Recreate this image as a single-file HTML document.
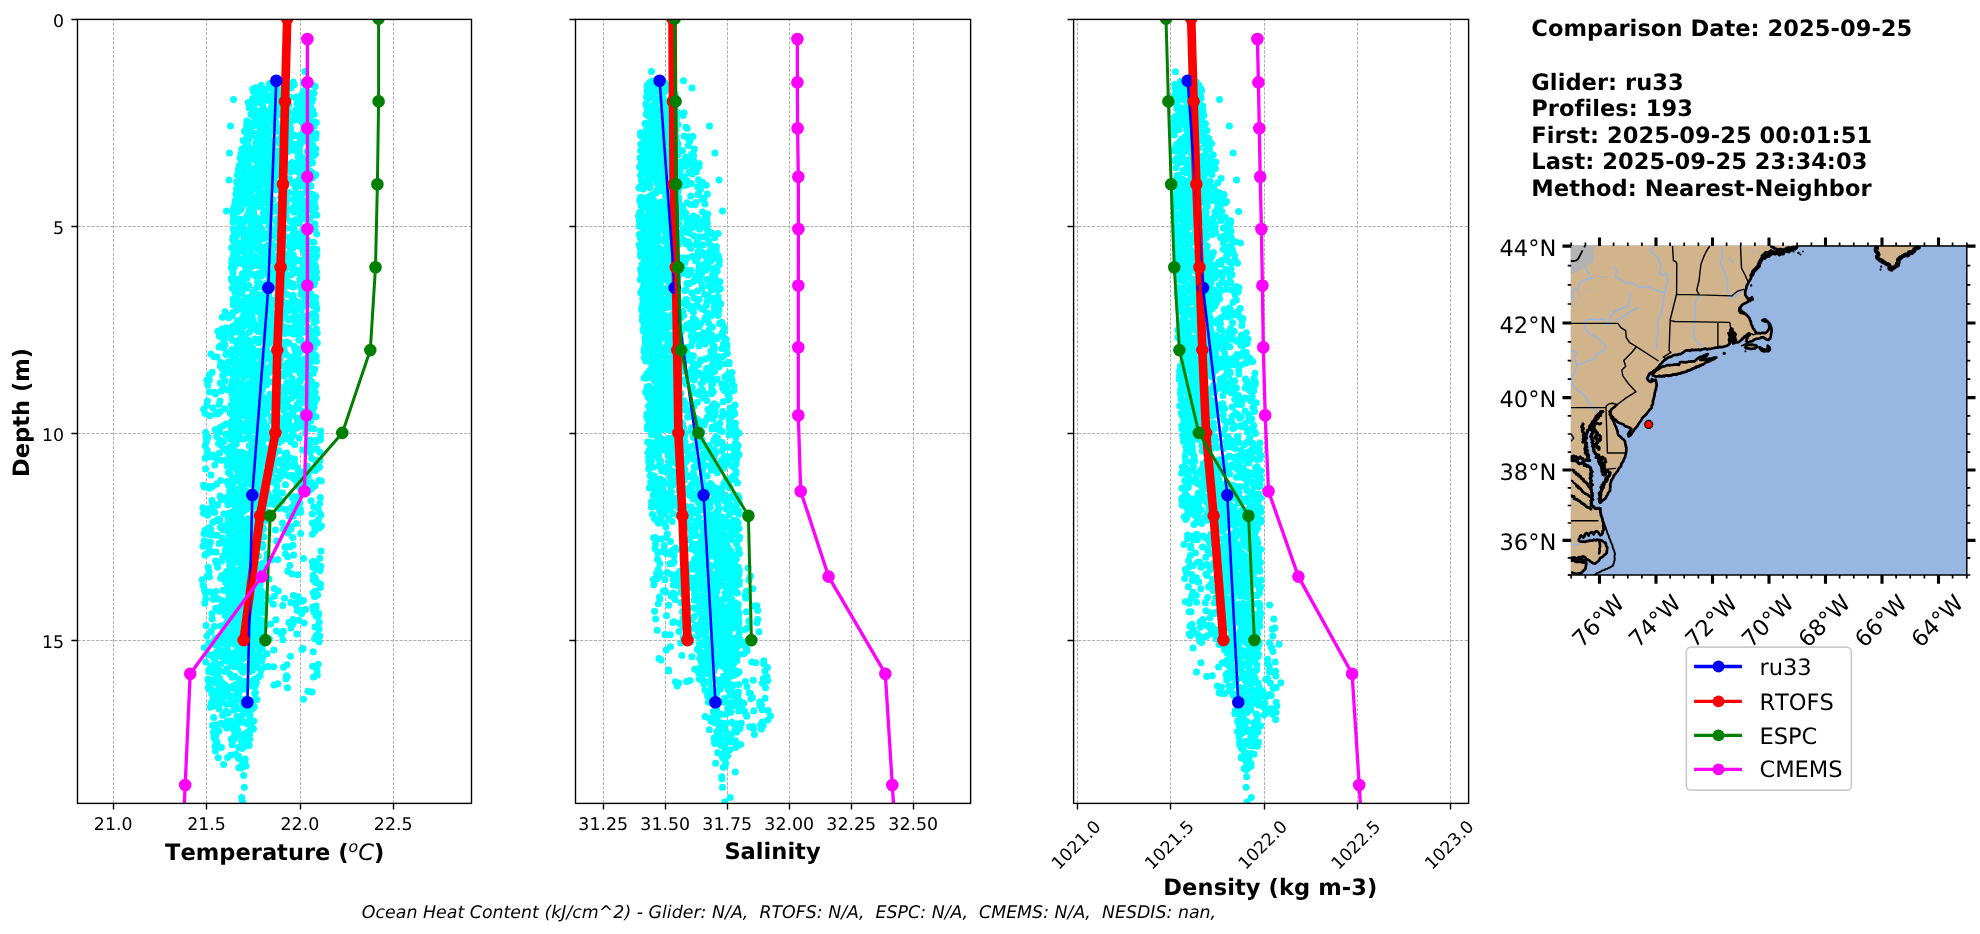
<!DOCTYPE html>
<html lang="en"><head><meta charset="utf-8"><title>Glider / Model Profile Comparison</title>
<style>html,body{margin:0;padding:0;background:#fff}svg{display:block;will-change:transform}text{font-family:'DejaVu Sans','Liberation Sans',sans-serif;fill:#000;font-kerning:none;font-variant-ligatures:none;text-rendering:geometricPrecision}</style>
</head><body>
<svg width="1980" height="934" viewBox="0 0 1980 934">
<rect width="1980" height="934" fill="#fff"/>
<defs>
<clipPath id="c0"><rect x="77.5" y="19.4" width="394.0" height="784.0"/></clipPath>
<clipPath id="c1"><rect x="575.5" y="19.4" width="395.1" height="784.0"/></clipPath>
<clipPath id="c2"><rect x="1073.6" y="19.4" width="395.0" height="784.0"/></clipPath>
</defs>
<g id="axes0">
<path d="M113.5 803.4V19.4M206.5 803.4V19.4M300.5 803.4V19.4M393.5 803.4V19.4M77.5 226.5H471.5M77.5 433.5H471.5M77.5 640.5H471.5" fill="none" stroke="#b0b0b0" stroke-width="1" stroke-dasharray="3.2 1.4"/>
<g clip-path="url(#c0)">
<path d="M305.0 71.5h0M293.3 81.9h0M284.0 82.1h0M303.4 82.8h0M269.6 83.5h0M305.7 84.2h0M286.5 84.5h0M294.1 84.7h0M272.8 84.9h0M285.6 85.0h0M261.3 85.3h0M284.7 85.5h0M313.6 85.5h0M269.7 85.6h0M275.3 85.6h0M272.9 86.3h0M290.0 86.5h0M315.1 86.6h0M269.5 86.9h0M255.8 87.7h0M271.4 87.9h0M290.9 87.9h0M285.7 88.0h0M273.9 88.1h0M254.3 88.2h0M283.3 88.9h0M252.7 89.0h0M261.7 89.1h0M271.9 89.1h0M265.2 89.3h0M279.3 89.8h0M304.5 90.2h0M281.4 90.3h0M255.9 90.5h0M261.4 91.4h0M253.4 91.5h0M274.4 91.9h0M278.1 92.0h0M263.9 92.2h0M303.1 92.5h0M309.0 92.5h0M262.0 92.5h0M313.8 93.1h0M286.2 93.3h0M304.8 94.0h0M307.4 94.1h0M262.3 94.3h0M277.2 94.3h0M280.4 94.8h0M256.8 94.8h0M301.6 95.0h0M262.3 95.5h0M261.8 95.7h0M270.6 95.7h0M268.1 95.7h0M286.8 95.9h0M278.4 96.2h0M305.9 96.2h0M280.8 96.8h0M290.0 96.9h0M310.9 96.9h0M303.3 96.9h0M257.2 97.0h0M296.5 97.0h0M305.4 97.0h0M285.2 97.1h0M257.6 97.9h0M295.8 98.1h0M252.8 98.4h0M268.0 98.8h0M299.1 98.8h0M270.6 98.9h0M313.0 99.0h0M299.9 99.2h0M311.0 99.4h0M233.5 99.5h0M265.1 99.9h0M276.4 99.9h0M260.1 100.1h0M282.1 100.4h0M256.7 100.5h0M303.5 100.5h0M270.0 100.7h0M255.8 100.9h0M311.8 101.6h0M306.1 101.8h0M254.3 102.5h0M248.3 102.6h0M307.9 102.7h0M255.9 103.0h0M302.7 103.4h0M297.0 103.6h0M262.2 103.7h0M287.9 103.8h0M281.7 104.1h0M277.5 104.4h0M281.4 104.8h0M274.7 104.9h0M280.2 105.2h0M288.7 105.3h0M272.1 105.4h0M249.6 105.5h0M279.7 105.8h0M281.4 106.0h0M262.7 106.0h0M271.5 106.4h0M283.0 106.4h0M253.7 106.7h0M310.6 106.8h0M302.2 106.9h0M287.1 107.4h0M303.8 107.7h0M249.0 107.8h0M253.4 108.9h0M297.1 109.4h0M296.4 109.7h0M296.0 109.7h0M264.6 109.9h0M312.6 110.3h0M253.1 110.6h0M268.8 111.0h0M258.1 111.2h0M312.0 111.2h0M259.4 111.4h0M276.1 111.4h0M304.8 111.8h0M287.0 112.1h0M252.8 112.3h0M289.4 112.4h0M287.0 112.5h0M271.3 112.5h0M256.2 113.0h0M305.7 113.1h0M305.1 113.1h0M280.5 113.1h0M301.3 113.2h0M309.1 113.6h0M274.4 113.6h0M262.0 113.6h0M314.1 114.2h0M250.9 114.2h0M278.0 114.3h0M283.0 114.3h0M268.0 114.5h0M277.6 114.5h0M273.7 114.5h0M284.2 114.5h0M303.7 114.8h0M279.1 114.9h0M271.2 115.0h0M294.9 115.1h0M261.0 115.3h0M252.9 115.4h0M273.4 115.6h0M297.2 116.5h0M275.2 116.7h0M309.9 117.1h0M305.1 117.9h0M288.3 118.3h0M298.0 118.3h0M306.1 118.8h0M257.4 118.9h0M271.3 119.0h0M265.7 119.2h0M296.1 119.4h0M255.2 119.4h0M272.6 119.7h0M310.4 120.1h0M285.6 120.2h0M288.2 120.2h0M266.8 120.3h0M264.0 120.4h0M263.6 120.6h0M293.0 120.6h0M257.3 120.7h0M246.9 120.9h0M291.9 120.9h0M289.2 121.1h0M269.9 121.4h0M301.1 121.6h0M305.1 121.7h0M248.4 122.1h0M314.9 122.1h0M288.7 122.1h0M276.3 122.2h0M316.2 122.5h0M311.4 122.6h0M270.8 122.8h0M284.7 123.5h0M250.1 123.6h0M308.8 124.3h0M289.7 124.3h0M260.1 124.6h0M308.3 124.6h0M265.3 124.7h0M246.7 124.8h0M260.2 125.4h0M253.9 125.7h0M230.5 126.0h0M276.5 126.1h0M314.0 126.2h0M261.4 126.3h0M264.4 126.6h0M303.9 126.9h0M249.6 127.1h0M264.8 127.4h0M262.9 127.9h0M263.3 127.9h0M260.0 128.0h0M309.4 128.3h0M290.7 128.4h0M267.4 128.5h0M304.5 128.8h0M305.7 128.8h0M284.1 129.0h0M246.2 129.1h0M267.8 129.2h0M282.1 129.3h0M283.6 129.4h0M306.1 129.4h0M282.8 129.5h0M273.7 129.5h0M264.3 129.7h0M278.7 130.1h0M270.6 130.4h0M283.8 130.7h0M288.7 130.7h0M264.2 130.9h0M244.5 131.2h0M277.4 131.3h0M260.2 131.3h0M284.7 131.3h0M274.1 131.5h0M250.5 131.6h0M287.2 131.6h0M285.7 132.0h0M246.1 132.1h0M311.1 132.5h0M309.3 132.6h0M268.3 132.6h0M263.9 133.1h0M252.5 133.2h0M305.4 133.3h0M253.7 133.3h0M259.3 133.5h0M316.1 133.5h0M246.7 133.8h0M305.2 134.0h0M283.7 134.4h0M301.1 134.5h0M292.6 134.5h0M248.9 134.6h0M309.5 134.7h0M282.3 134.8h0M249.1 135.2h0M252.0 135.2h0M268.6 135.4h0M295.0 135.4h0M265.4 135.5h0M301.5 135.7h0M264.5 136.0h0M312.8 136.8h0M290.6 136.9h0M300.9 137.8h0M258.3 137.9h0M315.9 137.9h0M280.3 138.2h0M311.4 138.3h0M308.9 138.3h0M284.1 138.3h0M257.2 138.8h0M301.6 138.8h0M300.3 138.9h0M258.9 138.9h0M312.7 139.1h0M246.0 139.1h0M259.6 139.3h0M248.7 139.5h0M259.8 139.7h0M246.5 140.1h0M278.1 140.1h0M284.8 140.3h0M243.1 140.4h0M271.0 140.6h0M309.1 140.7h0M256.8 140.7h0M263.0 141.0h0M278.4 141.2h0M304.2 141.2h0M286.3 141.4h0M247.2 142.2h0M290.8 142.3h0M256.0 142.7h0M259.5 142.8h0M268.3 142.8h0M288.6 142.9h0M280.1 143.5h0M273.7 143.6h0M269.0 143.9h0M270.1 144.0h0M259.2 144.3h0M299.0 144.4h0M296.8 144.5h0M299.5 144.6h0M271.9 144.7h0M300.2 144.7h0M245.8 145.0h0M295.5 145.0h0M298.5 145.1h0M312.7 145.1h0M294.7 145.1h0M310.6 145.3h0M247.9 145.4h0M246.4 146.0h0M282.9 146.1h0M283.7 147.1h0M263.4 147.1h0M259.8 147.1h0M245.7 147.2h0M291.4 147.4h0M267.4 147.6h0M288.5 147.9h0M254.4 147.9h0M283.7 147.9h0M266.5 147.9h0M245.2 148.2h0M288.7 148.2h0M242.8 148.4h0M313.8 148.5h0M247.7 148.6h0M256.4 148.7h0M315.8 148.9h0M273.1 148.9h0M241.7 149.3h0M248.3 149.5h0M299.5 150.3h0M314.8 150.5h0M289.9 150.6h0M278.0 150.7h0M274.4 150.8h0M296.4 150.9h0M255.1 151.3h0M255.8 151.3h0M272.5 151.4h0M307.4 151.5h0M286.7 151.6h0M254.0 151.9h0M255.6 151.9h0M287.3 151.9h0M243.0 152.1h0M309.1 152.1h0M254.5 152.4h0M278.0 152.6h0M256.5 152.8h0M262.2 152.8h0M229.5 153.0h0M269.2 153.4h0M284.6 153.7h0M313.5 153.8h0M299.6 153.9h0M315.5 153.9h0M241.1 154.2h0M253.4 154.2h0M256.2 154.3h0M251.1 154.5h0M264.5 154.5h0M257.2 154.8h0M256.2 154.8h0M248.1 154.8h0M281.2 155.3h0M246.6 155.3h0M264.7 155.6h0M313.7 155.7h0M270.6 155.7h0M310.7 155.8h0M280.1 156.0h0M283.3 156.2h0M259.7 156.9h0M254.0 156.9h0M298.1 157.1h0M244.0 157.2h0M253.1 157.3h0M254.5 157.4h0M251.8 157.4h0M302.4 157.8h0M276.0 158.1h0M240.1 158.1h0M276.2 158.3h0M261.0 158.6h0M272.1 158.7h0M249.3 158.8h0M264.7 158.9h0M300.6 159.1h0M269.7 159.2h0M272.6 159.3h0M262.8 159.4h0M305.5 159.8h0M271.7 160.0h0M247.8 160.0h0M255.8 160.4h0M308.8 160.6h0M274.1 160.6h0M282.1 160.6h0M258.2 160.7h0M309.7 160.9h0M241.7 161.0h0M243.8 161.2h0M264.8 161.2h0M303.1 161.7h0M266.2 161.9h0M267.1 162.2h0M292.1 162.5h0M248.1 162.5h0M312.5 162.8h0M281.2 162.8h0M245.0 162.9h0M295.9 163.3h0M278.6 163.6h0M259.5 163.7h0M248.2 163.9h0M289.7 164.2h0M240.8 164.4h0M257.8 164.4h0M292.9 164.5h0M263.5 164.8h0M308.1 164.9h0M247.5 165.2h0M273.1 165.5h0M239.2 165.5h0M285.5 165.6h0M298.8 165.7h0M278.3 166.0h0M282.8 166.0h0M244.5 166.1h0M261.8 166.2h0M306.2 166.3h0M248.9 166.3h0M272.4 166.4h0M261.0 166.4h0M279.7 166.5h0M276.6 166.6h0M272.0 166.7h0M268.4 166.9h0M240.0 167.7h0M241.0 167.7h0M255.8 167.7h0M240.2 168.1h0M283.5 168.1h0M302.2 168.3h0M242.5 168.6h0M240.0 168.6h0M238.8 168.7h0M294.1 168.7h0M243.1 169.1h0M238.3 169.3h0M299.7 169.3h0M274.0 169.4h0M293.4 169.4h0M277.6 169.5h0M276.8 169.5h0M291.0 169.8h0M239.6 169.8h0M265.0 169.8h0M308.0 170.0h0M253.5 170.4h0M252.6 170.4h0M300.9 170.5h0M303.0 170.5h0M252.3 170.6h0M282.2 170.6h0M243.8 170.7h0M301.8 170.8h0M281.6 170.9h0M256.5 171.1h0M296.9 171.3h0M310.3 171.3h0M278.8 171.3h0M304.3 171.6h0M243.4 171.6h0M259.5 171.6h0M290.8 171.8h0M276.8 172.2h0M298.6 172.2h0M266.7 172.4h0M271.6 172.4h0M300.3 172.6h0M263.1 172.8h0M245.0 172.9h0M250.1 173.1h0M280.2 173.1h0M238.5 173.2h0M259.4 173.3h0M313.5 173.4h0M263.9 173.7h0M273.9 173.8h0M265.1 173.9h0M255.4 174.1h0M270.3 174.2h0M276.2 174.3h0M250.3 174.4h0M277.1 174.4h0M315.8 174.7h0M251.1 174.8h0M237.3 174.8h0M310.9 174.9h0M237.3 174.9h0M274.5 175.1h0M244.4 175.3h0M249.9 175.4h0M315.5 175.4h0M258.7 175.5h0M242.2 175.5h0M242.5 175.6h0M238.8 175.8h0M253.0 175.8h0M255.6 175.9h0M261.4 176.0h0M270.5 176.2h0M275.5 176.3h0M260.6 176.4h0M303.5 176.7h0M300.7 176.7h0M246.1 176.8h0M304.9 177.3h0M303.1 177.4h0M273.2 177.6h0M304.9 177.7h0M312.5 177.9h0M248.0 177.9h0M242.1 178.1h0M272.8 178.1h0M254.4 178.5h0M300.7 178.5h0M250.5 178.6h0M289.4 178.7h0M262.3 179.0h0M241.3 179.2h0M299.2 179.6h0M269.1 179.6h0M238.8 179.7h0M284.8 179.8h0M229.0 180.0h0M286.8 180.2h0M244.6 181.9h0M259.0 181.9h0M236.7 182.0h0M268.6 182.1h0M293.4 182.2h0M259.6 182.3h0M297.2 182.3h0M281.0 182.4h0M271.9 182.5h0M247.1 182.9h0M277.4 183.1h0M294.2 183.1h0M305.4 183.2h0M252.7 183.3h0M264.2 183.3h0M292.8 183.5h0M256.2 183.5h0M298.0 183.5h0M260.9 184.1h0M262.4 184.1h0M257.3 184.2h0M265.0 184.4h0M254.3 184.5h0M302.8 184.6h0M309.4 185.0h0M250.3 185.0h0M259.7 185.2h0M256.0 185.2h0M238.9 185.2h0M256.1 185.4h0M260.2 185.5h0M246.7 185.7h0M311.0 185.9h0M299.5 186.0h0M274.1 186.1h0M277.0 186.2h0M298.0 186.3h0M279.1 186.4h0M295.4 187.1h0M285.0 187.2h0M254.3 187.2h0M246.2 187.6h0M241.0 187.8h0M268.6 187.8h0M253.5 187.9h0M236.7 188.2h0M246.1 188.3h0M271.8 188.7h0M259.3 188.9h0M253.2 189.0h0M236.5 189.1h0M256.7 189.2h0M281.6 189.2h0M241.1 189.4h0M306.1 189.5h0M275.7 189.5h0M307.1 189.6h0M252.5 189.8h0M268.0 190.1h0M276.6 190.1h0M250.4 190.3h0M251.6 190.6h0M268.6 191.2h0M250.4 191.4h0M264.9 191.7h0M261.5 192.4h0M289.4 192.5h0M286.6 192.6h0M296.1 192.8h0M308.7 193.3h0M241.8 193.6h0M310.2 193.7h0M236.0 193.9h0M301.0 194.0h0M236.9 194.1h0M248.1 194.3h0M269.7 194.4h0M295.2 194.5h0M301.9 194.7h0M313.1 194.8h0M284.0 194.8h0M243.1 194.9h0M309.4 195.0h0M243.7 195.3h0M257.7 195.6h0M315.2 195.7h0M263.1 195.9h0M269.9 196.5h0M315.7 196.5h0M243.9 196.7h0M250.7 196.8h0M238.8 196.9h0M242.4 196.9h0M256.8 197.0h0M297.1 197.0h0M280.6 197.2h0M251.8 197.3h0M261.7 197.5h0M263.5 197.8h0M243.3 198.6h0M293.9 198.9h0M269.1 199.2h0M301.1 199.4h0M288.0 199.5h0M260.2 199.6h0M272.9 199.7h0M238.5 199.8h0M259.1 199.9h0M285.2 200.2h0M298.5 200.2h0M314.5 200.4h0M235.4 200.5h0M303.7 200.8h0M243.4 200.9h0M308.1 200.9h0M314.2 201.0h0M257.9 201.0h0M248.5 201.2h0M246.2 201.2h0M246.2 201.4h0M298.9 201.7h0M259.0 201.8h0M253.8 202.0h0M265.9 202.6h0M307.0 202.7h0M246.9 202.8h0M234.9 202.9h0M281.0 203.0h0M295.1 203.0h0M251.4 203.2h0M313.5 203.5h0M307.7 203.6h0M298.8 203.8h0M238.9 204.1h0M244.5 204.1h0M300.3 204.2h0M314.4 204.2h0M309.8 204.4h0M279.0 204.5h0M307.9 204.5h0M250.9 204.6h0M285.4 204.7h0M286.1 205.0h0M250.2 205.1h0M239.9 205.5h0M279.6 205.5h0M239.1 205.7h0M271.3 206.0h0M255.7 206.3h0M269.1 206.4h0M260.0 206.6h0M252.5 206.9h0M304.0 207.0h0M307.5 207.1h0M241.0 207.2h0M233.7 207.4h0M274.8 207.5h0M315.5 208.0h0M306.0 208.0h0M293.0 208.1h0M252.8 208.4h0M234.6 208.7h0M285.9 209.0h0M241.4 209.1h0M314.6 209.1h0M296.2 209.1h0M279.8 209.2h0M253.7 209.3h0M279.0 209.3h0M278.2 209.3h0M292.2 209.6h0M301.2 209.6h0M288.9 209.7h0M233.5 209.7h0M290.9 209.7h0M310.3 209.8h0M236.8 209.9h0M252.7 210.0h0M264.4 210.0h0M249.2 210.4h0M239.3 210.8h0M226.5 211.0h0M237.7 211.4h0M278.2 211.5h0M253.5 211.5h0M272.3 211.7h0M293.8 212.0h0M267.2 212.0h0M284.2 212.3h0M263.5 212.7h0M298.7 212.7h0M252.9 212.7h0M250.3 212.9h0M265.9 213.3h0M233.4 213.4h0M304.4 213.7h0M305.1 213.9h0M299.9 214.3h0M281.7 214.4h0M280.7 214.4h0M248.0 214.6h0M253.9 214.9h0M312.8 215.0h0M281.4 215.2h0M316.8 215.2h0M251.8 215.2h0M303.9 215.6h0M301.8 215.9h0M286.0 216.0h0M286.4 216.0h0M247.7 216.2h0M269.6 216.6h0M248.5 216.6h0M233.5 216.8h0M249.1 217.3h0M246.1 217.3h0M263.3 218.1h0M258.0 218.4h0M277.8 218.4h0M301.1 218.5h0M283.7 218.5h0M254.6 218.7h0M267.6 218.7h0M238.6 218.7h0M309.7 218.8h0M302.8 218.8h0M301.9 218.9h0M270.4 218.9h0M306.0 219.2h0M295.2 219.8h0M243.3 219.8h0M254.0 219.9h0M235.1 220.0h0M252.6 220.3h0M250.0 220.3h0M244.3 220.4h0M265.0 220.8h0M296.2 221.1h0M250.7 221.1h0M290.3 221.2h0M251.5 221.4h0M244.0 221.9h0M233.0 222.1h0M239.7 222.2h0M237.7 222.2h0M280.6 222.3h0M276.2 222.4h0M299.5 222.9h0M294.5 223.2h0M282.6 223.5h0M259.8 223.6h0M314.7 223.8h0M293.6 224.2h0M281.7 224.2h0M240.4 224.5h0M256.3 225.1h0M314.6 225.2h0M278.9 225.4h0M252.3 225.5h0M269.4 225.7h0M269.0 226.0h0M250.6 226.1h0M309.4 226.3h0M239.4 226.4h0M256.9 226.7h0M282.6 227.1h0M239.9 227.6h0M308.0 227.6h0M242.7 228.0h0M238.3 228.1h0M292.4 228.1h0M237.9 228.2h0M294.1 228.3h0M287.0 228.3h0M292.6 228.5h0M250.5 228.5h0M252.6 228.5h0M243.4 228.8h0M239.2 228.9h0M233.3 229.1h0M276.4 229.1h0M308.1 229.2h0M279.4 229.3h0M243.9 229.4h0M242.0 229.4h0M314.9 229.4h0M262.0 229.5h0M240.7 229.8h0M306.7 229.9h0M238.8 229.9h0M302.6 230.1h0M241.4 230.5h0M273.0 231.0h0M254.7 231.0h0M258.0 231.3h0M303.6 231.5h0M278.0 231.7h0M254.4 231.8h0M242.9 232.0h0M262.7 232.7h0M269.0 232.8h0M279.6 232.8h0M234.5 232.9h0M241.3 232.9h0M235.6 233.2h0M296.5 233.4h0M259.4 233.4h0M252.1 233.4h0M259.6 233.5h0M316.7 233.9h0M248.6 233.9h0M305.8 234.1h0M275.1 234.3h0M256.3 234.4h0M282.6 234.4h0M237.4 234.5h0M236.5 234.5h0M292.7 234.5h0M283.5 234.6h0M249.8 234.8h0M277.9 235.1h0M246.0 235.6h0M235.9 235.7h0M302.3 235.7h0M270.9 236.0h0M281.3 236.1h0M261.3 236.1h0M249.9 236.3h0M301.6 236.7h0M292.6 236.8h0M233.1 236.8h0M234.2 236.9h0M289.4 236.9h0M269.1 237.0h0M262.8 237.3h0M276.0 237.4h0M285.2 237.4h0M253.2 237.4h0M247.9 237.5h0M301.1 237.6h0M235.5 238.1h0M244.3 238.2h0M301.9 238.3h0M283.2 238.4h0M263.1 238.4h0M255.5 238.5h0M264.4 238.6h0M234.9 238.6h0M261.2 239.3h0M232.7 239.3h0M296.3 239.3h0M298.5 239.5h0M296.9 239.6h0M256.3 239.9h0M279.3 239.9h0M302.6 240.1h0M307.6 240.3h0M292.9 240.4h0M256.7 240.5h0M253.0 240.9h0M297.3 241.1h0M245.1 241.4h0M250.8 241.7h0M307.4 242.0h0M282.7 242.1h0M313.8 242.3h0M253.9 242.3h0M246.2 242.3h0M297.0 242.4h0M242.6 242.4h0M296.8 242.5h0M307.9 242.6h0M289.9 242.7h0M240.4 242.9h0M258.5 243.0h0M240.7 243.3h0M238.3 243.4h0M270.8 243.5h0M234.4 243.8h0M272.7 244.0h0M252.7 244.2h0M248.5 244.7h0M272.1 244.7h0M256.8 244.9h0M282.8 245.0h0M284.7 245.2h0M279.2 245.2h0M239.5 245.3h0M305.1 245.5h0M267.3 245.6h0M298.3 246.0h0M301.8 246.1h0M299.2 246.1h0M252.0 246.2h0M266.5 247.3h0M262.2 247.6h0M231.6 247.7h0M236.0 247.7h0M293.0 247.8h0M282.5 247.9h0M278.1 247.9h0M290.0 248.0h0M243.1 248.1h0M236.7 248.2h0M252.4 248.2h0M238.3 248.3h0M257.3 248.3h0M261.8 248.4h0M265.3 248.4h0M262.7 248.8h0M311.2 249.0h0M259.6 249.1h0M315.3 249.2h0M257.0 249.3h0M316.9 249.5h0M260.2 249.8h0M240.7 249.8h0M302.8 249.9h0M269.5 250.5h0M246.7 251.3h0M272.2 251.5h0M248.3 251.6h0M238.2 251.7h0M271.6 252.0h0M290.0 252.1h0M266.2 252.1h0M261.2 252.2h0M264.7 252.3h0M244.2 252.5h0M288.7 252.9h0M235.3 253.1h0M233.7 253.6h0M271.8 253.7h0M235.9 253.8h0M250.0 253.9h0M283.3 253.9h0M284.3 254.6h0M245.4 254.6h0M304.8 254.7h0M293.2 254.7h0M290.8 255.0h0M236.5 255.0h0M264.3 255.1h0M312.9 255.2h0M307.4 255.3h0M251.8 255.3h0M316.8 255.5h0M278.1 255.6h0M291.6 255.7h0M286.4 255.8h0M280.1 255.9h0M250.3 256.0h0M284.7 256.0h0M305.0 256.1h0M247.6 256.3h0M255.1 256.3h0M233.3 256.4h0M269.1 256.5h0M254.9 257.1h0M247.7 257.2h0M262.4 257.3h0M267.5 257.5h0M247.0 257.9h0M264.7 258.2h0M315.4 258.3h0M272.2 258.3h0M243.2 258.4h0M237.1 258.5h0M245.5 258.6h0M248.3 258.6h0M295.1 258.7h0M252.0 258.8h0M268.2 258.9h0M304.2 259.0h0M244.0 259.2h0M310.1 259.4h0M231.9 259.5h0M257.8 259.6h0M259.5 259.9h0M288.1 260.0h0M274.4 260.1h0M299.8 260.4h0M271.8 260.5h0M267.7 260.6h0M310.6 260.7h0M299.8 261.0h0M252.4 261.1h0M237.8 261.2h0M273.2 261.5h0M264.4 261.7h0M282.0 262.0h0M283.3 262.2h0M245.9 262.3h0M244.4 262.9h0M248.5 262.9h0M231.7 262.9h0M238.0 263.0h0M259.5 263.1h0M241.6 263.3h0M293.5 263.3h0M307.5 263.3h0M263.8 263.6h0M283.3 263.7h0M259.8 264.4h0M261.8 264.5h0M314.8 264.5h0M250.7 264.8h0M258.3 264.9h0M314.6 265.1h0M234.8 265.1h0M234.9 265.2h0M244.8 265.3h0M293.1 265.5h0M254.3 265.6h0M260.2 265.8h0M313.9 265.9h0M303.0 266.1h0M259.9 266.1h0M287.7 266.1h0M263.8 266.3h0M287.5 266.3h0M315.7 266.9h0M274.5 267.0h0M251.0 267.0h0M307.1 267.0h0M248.4 267.5h0M234.0 267.5h0M312.0 267.8h0M231.4 267.8h0M248.0 267.9h0M266.8 268.0h0M274.5 268.2h0M246.2 268.4h0M291.6 268.4h0M275.7 268.8h0M307.8 268.8h0M304.3 268.8h0M285.0 268.9h0M248.0 269.1h0M311.3 269.3h0M296.9 270.1h0M298.5 270.9h0M248.4 271.6h0M277.5 271.8h0M316.5 272.0h0M279.5 272.1h0M261.9 272.6h0M312.0 272.7h0M269.6 272.8h0M294.1 272.9h0M233.0 272.9h0M299.4 272.9h0M265.0 273.2h0M246.5 273.5h0M258.6 273.5h0M285.1 273.7h0M242.5 273.7h0M303.6 273.8h0M263.9 273.9h0M251.5 274.2h0M271.2 274.2h0M244.1 274.3h0M256.3 274.6h0M301.1 274.7h0M291.3 274.7h0M246.4 274.7h0M275.6 274.8h0M314.4 275.0h0M310.4 275.3h0M247.8 275.3h0M255.6 275.4h0M313.5 275.4h0M245.1 275.6h0M287.1 275.6h0M301.3 275.9h0M261.4 276.0h0M243.9 276.1h0M256.1 276.5h0M314.0 276.9h0M313.7 277.2h0M271.6 277.5h0M233.6 277.8h0M304.5 277.8h0M311.1 277.8h0M315.6 277.8h0M273.3 277.9h0M316.7 278.1h0M244.3 278.1h0M313.8 278.2h0M269.1 278.3h0M304.9 278.3h0M246.8 278.4h0M231.3 278.5h0M300.3 278.5h0M246.7 278.6h0M308.7 279.0h0M242.9 279.2h0M239.1 279.2h0M283.1 279.7h0M243.2 279.9h0M279.5 279.9h0M241.1 279.9h0M277.2 280.1h0M299.7 280.1h0M231.8 280.3h0M309.4 280.3h0M276.4 280.5h0M281.4 280.7h0M277.7 281.2h0M286.9 281.6h0M310.6 282.0h0M235.1 282.1h0M257.5 282.2h0M238.6 282.7h0M314.7 282.7h0M233.5 282.7h0M290.2 282.7h0M243.1 282.9h0M259.1 283.0h0M300.5 283.0h0M235.0 283.0h0M272.8 283.1h0M285.9 283.3h0M266.3 283.5h0M265.7 283.7h0M285.2 284.0h0M309.3 284.2h0M293.0 284.2h0M257.8 284.3h0M270.0 284.6h0M313.6 284.9h0M237.4 285.1h0M287.6 285.1h0M236.3 285.1h0M245.0 285.5h0M248.8 285.6h0M259.2 285.6h0M277.1 285.6h0M289.6 285.7h0M265.0 285.7h0M237.9 285.8h0M270.9 285.9h0M300.0 285.9h0M300.1 286.2h0M273.5 286.4h0M241.2 286.5h0M243.7 286.6h0M257.5 286.6h0M293.8 286.7h0M260.3 286.7h0M292.5 286.8h0M238.5 286.8h0M240.6 286.8h0M245.1 286.9h0M262.4 287.2h0M271.4 287.7h0M266.0 287.8h0M247.1 287.8h0M307.5 288.0h0M267.3 288.2h0M232.2 288.2h0M266.8 288.7h0M283.6 288.9h0M234.2 289.5h0M255.0 289.6h0M242.7 289.7h0M243.2 289.8h0M277.7 290.0h0M255.0 290.2h0M301.8 290.3h0M278.7 290.4h0M308.5 291.1h0M239.0 291.3h0M252.6 292.6h0M234.9 292.8h0M310.2 293.3h0M266.0 293.3h0M241.8 293.5h0M301.0 293.9h0M268.9 293.9h0M237.0 294.3h0M311.1 294.5h0M279.2 294.5h0M263.2 294.5h0M287.1 294.6h0M260.2 295.0h0M302.4 295.0h0M277.5 295.1h0M293.2 295.2h0M262.7 295.6h0M307.0 296.9h0M257.6 297.4h0M264.5 297.4h0M248.5 297.6h0M292.0 297.6h0M315.7 297.6h0M260.6 297.8h0M311.9 298.1h0M251.4 298.4h0M245.7 298.5h0M262.5 298.6h0M269.9 299.1h0M233.0 299.2h0M237.5 299.4h0M276.3 299.5h0M268.4 299.9h0M245.7 300.0h0M282.2 300.1h0M314.9 300.2h0M255.8 300.3h0M295.3 300.5h0M252.1 300.8h0M266.2 300.9h0M262.1 301.0h0M278.1 301.0h0M250.0 301.1h0M303.3 301.2h0M241.1 301.3h0M260.3 301.3h0M248.0 301.8h0M274.5 301.9h0M299.2 302.8h0M298.7 302.8h0M233.6 302.9h0M263.7 303.0h0M287.2 303.2h0M254.9 303.2h0M263.0 303.3h0M304.9 303.4h0M233.5 303.4h0M259.1 303.4h0M289.6 303.5h0M316.1 303.8h0M255.4 304.0h0M275.6 304.0h0M252.9 304.0h0M233.8 304.2h0M314.1 304.2h0M245.3 304.4h0M291.1 304.5h0M311.3 304.6h0M236.9 304.7h0M233.3 304.7h0M289.8 304.8h0M285.6 304.9h0M242.6 305.0h0M248.3 305.1h0M305.2 305.6h0M315.9 305.8h0M248.2 305.9h0M239.4 306.1h0M313.5 306.2h0M256.0 306.5h0M269.4 306.5h0M257.0 306.9h0M264.5 307.0h0M271.0 307.0h0M243.0 307.1h0M287.1 307.5h0M257.1 307.5h0M316.6 307.7h0M239.4 307.7h0M278.4 308.0h0M240.9 308.0h0M293.4 308.1h0M297.3 308.5h0M264.9 308.7h0M250.4 309.0h0M301.6 309.2h0M316.7 309.5h0M259.1 310.0h0M290.6 310.0h0M296.6 310.3h0M236.4 310.4h0M294.7 310.7h0M287.4 311.2h0M287.3 311.3h0M265.3 311.3h0M243.7 311.4h0M257.0 311.4h0M270.4 311.8h0M225.1 311.8h0M245.2 311.9h0M284.7 312.0h0M280.6 312.2h0M232.9 312.5h0M282.6 312.6h0M276.6 312.6h0M285.3 313.6h0M251.0 313.6h0M247.0 313.7h0M312.2 313.8h0M274.7 313.9h0M283.7 314.6h0M231.2 315.1h0M302.6 315.2h0M243.8 315.3h0M294.9 315.3h0M225.7 315.4h0M232.4 315.6h0M273.8 315.6h0M277.4 315.7h0M261.3 315.9h0M315.9 316.0h0M300.8 316.8h0M252.3 317.2h0M222.3 317.3h0M247.8 317.3h0M307.6 317.4h0M293.0 317.4h0M242.6 317.6h0M293.1 317.7h0M229.0 317.8h0M305.0 317.9h0M245.7 318.1h0M286.8 318.3h0M251.8 318.4h0M267.5 318.4h0M268.8 318.9h0M314.5 319.0h0M260.7 319.1h0M252.5 319.4h0M289.5 319.5h0M274.4 319.5h0M307.0 319.6h0M272.2 319.6h0M248.7 319.9h0M288.5 320.1h0M275.3 320.5h0M247.1 320.5h0M237.4 320.7h0M243.4 320.9h0M281.0 321.1h0M316.1 321.2h0M295.5 321.7h0M301.5 322.3h0M302.7 322.4h0M268.8 322.4h0M267.4 322.5h0M299.1 322.5h0M314.1 322.6h0M262.2 322.6h0M298.0 322.7h0M298.8 322.8h0M264.3 322.8h0M240.9 322.9h0M254.1 323.4h0M239.2 323.6h0M248.3 323.6h0M236.9 323.6h0M252.6 323.7h0M296.9 323.8h0M254.5 323.8h0M268.9 324.0h0M275.0 324.1h0M298.3 324.4h0M235.7 324.5h0M261.1 324.8h0M268.8 324.9h0M245.0 325.5h0M252.8 325.6h0M258.6 325.8h0M295.0 326.0h0M276.2 326.1h0M257.8 326.2h0M250.5 326.3h0M236.3 326.5h0M232.0 326.7h0M276.2 326.8h0M272.8 327.0h0M284.4 327.1h0M261.9 327.3h0M308.4 327.5h0M264.6 327.8h0M242.4 327.8h0M288.8 327.8h0M225.8 327.9h0M298.9 328.0h0M235.4 328.2h0M275.9 328.2h0M301.0 328.7h0M252.0 328.8h0M316.3 329.0h0M258.2 329.1h0M222.2 329.1h0M301.4 329.2h0M281.1 329.2h0M252.6 329.3h0M279.7 329.4h0M231.0 329.4h0M258.3 329.5h0M289.8 329.6h0M295.0 329.6h0M316.2 329.7h0M237.1 329.7h0M304.0 329.9h0M241.4 330.0h0M300.8 330.3h0M294.5 330.6h0M263.3 330.6h0M258.1 330.7h0M225.4 331.0h0M290.1 331.1h0M234.2 331.2h0M217.9 331.3h0M272.5 331.4h0M258.1 331.5h0M270.3 331.5h0M240.0 331.6h0M270.8 331.6h0M235.4 331.7h0M311.2 331.7h0M239.3 331.9h0M261.3 332.1h0M249.4 332.1h0M303.4 332.3h0M282.3 332.9h0M224.1 333.0h0M290.5 333.0h0M317.2 333.1h0M284.8 333.4h0M263.9 333.7h0M242.6 333.9h0M297.7 333.9h0M231.2 334.0h0M267.6 334.0h0M293.6 334.0h0M298.6 334.1h0M245.6 334.7h0M312.1 335.6h0M224.3 335.7h0M265.1 336.1h0M219.4 336.3h0M241.1 336.3h0M311.7 336.5h0M271.6 337.2h0M278.7 337.3h0M225.6 337.6h0M263.7 337.7h0M276.0 338.1h0M273.8 338.1h0M245.7 338.4h0M273.6 338.8h0M255.0 338.9h0M258.9 339.5h0M264.5 339.5h0M314.9 339.6h0M300.7 339.6h0M240.6 339.7h0M258.7 339.7h0M279.4 339.7h0M269.8 339.9h0M259.4 339.9h0M298.8 340.0h0M308.9 340.3h0M278.8 340.3h0M232.4 340.3h0M244.5 340.3h0M314.6 340.3h0M237.9 340.5h0M249.0 340.6h0M253.8 340.7h0M223.7 340.8h0M274.9 341.1h0M256.5 341.1h0M312.8 341.2h0M274.7 341.4h0M266.0 341.6h0M286.3 342.0h0M316.3 342.1h0M275.9 342.6h0M282.9 342.7h0M258.7 342.8h0M277.9 343.0h0M317.3 343.1h0M250.6 343.1h0M269.5 343.2h0M289.1 343.3h0M241.9 343.3h0M237.1 343.5h0M239.0 343.8h0M243.6 343.9h0M304.6 344.0h0M236.9 344.4h0M303.6 344.6h0M224.9 344.7h0M311.9 344.9h0M249.0 345.0h0M312.6 345.4h0M244.9 345.9h0M220.3 346.1h0M251.2 346.2h0M294.3 346.6h0M223.0 346.9h0M250.1 346.9h0M237.8 347.1h0M219.0 347.1h0M314.2 347.2h0M302.8 347.6h0M281.7 347.6h0M266.5 347.6h0M283.7 347.7h0M244.0 347.8h0M223.8 348.0h0M275.0 348.2h0M242.8 348.5h0M253.2 348.6h0M276.1 348.6h0M300.3 348.8h0M264.1 349.4h0M280.1 349.7h0M231.9 349.8h0M305.8 349.9h0M302.8 350.0h0M283.0 350.1h0M295.0 350.2h0M236.3 350.5h0M248.8 350.6h0M239.6 351.0h0M235.8 351.0h0M240.5 351.1h0M259.6 351.3h0M311.1 351.4h0M245.6 351.4h0M267.4 351.5h0M284.5 351.5h0M263.1 351.6h0M313.0 351.7h0M231.6 351.8h0M309.1 352.2h0M274.0 352.5h0M238.3 352.6h0M264.9 352.7h0M234.5 352.7h0M267.6 352.7h0M298.9 352.9h0M256.4 353.0h0M239.2 353.1h0M226.8 353.2h0M284.6 353.3h0M231.9 353.4h0M231.2 353.5h0M249.1 353.5h0M262.4 353.8h0M257.4 353.8h0M211.0 354.0h0M251.8 354.3h0M226.0 354.4h0M235.6 354.5h0M261.3 354.6h0M231.2 354.6h0M262.7 354.6h0M286.3 354.7h0M309.6 354.8h0M296.8 354.8h0M308.7 354.9h0M274.7 355.0h0M262.6 355.2h0M252.8 355.3h0M249.9 355.3h0M315.6 355.4h0M264.0 355.4h0M308.9 355.5h0M235.9 355.5h0M309.7 355.7h0M271.5 355.8h0M243.8 356.0h0M316.1 356.0h0M275.2 356.1h0M259.6 356.1h0M273.2 356.2h0M294.5 356.2h0M255.0 356.2h0M244.7 356.5h0M232.7 356.6h0M214.0 356.8h0M253.6 357.0h0M236.3 357.0h0M217.1 357.1h0M291.3 357.2h0M307.6 357.3h0M271.7 357.4h0M279.6 357.5h0M278.1 357.6h0M244.2 357.6h0M262.5 357.9h0M309.2 357.9h0M253.5 358.0h0M277.3 358.1h0M247.3 358.3h0M313.1 358.5h0M278.8 359.0h0M265.4 359.0h0M280.1 359.0h0M303.9 359.2h0M247.6 359.6h0M290.7 359.8h0M235.0 359.8h0M249.8 359.9h0M261.5 360.0h0M296.7 360.2h0M300.7 360.2h0M271.7 360.6h0M253.4 360.6h0M241.8 361.0h0M310.8 361.0h0M307.2 361.1h0M309.0 361.1h0M237.7 361.3h0M316.5 361.3h0M252.8 361.3h0M310.2 361.4h0M294.4 361.4h0M273.5 361.6h0M228.5 361.8h0M302.3 362.4h0M220.7 362.5h0M309.9 362.8h0M275.7 362.8h0M300.2 362.8h0M260.7 362.9h0M294.7 362.9h0M262.6 363.0h0M233.0 363.0h0M252.0 363.0h0M287.3 363.1h0M260.6 363.2h0M301.6 363.2h0M289.5 363.6h0M222.9 363.8h0M308.9 364.4h0M244.7 364.9h0M261.8 364.9h0M260.5 364.9h0M256.4 365.0h0M271.5 365.0h0M283.2 365.7h0M256.3 365.9h0M220.3 366.2h0M249.0 366.3h0M241.0 366.3h0M259.4 366.4h0M270.0 366.4h0M238.9 366.7h0M275.4 366.7h0M243.0 366.8h0M309.9 366.9h0M247.0 367.4h0M304.4 367.7h0M294.7 367.8h0M245.1 367.8h0M287.6 367.9h0M274.9 368.0h0M290.6 368.0h0M242.7 368.2h0M304.9 368.3h0M268.1 368.3h0M228.2 368.4h0M226.9 368.5h0M306.7 368.7h0M248.7 368.8h0M297.2 368.8h0M292.5 369.0h0M271.4 369.2h0M222.5 369.3h0M301.2 369.3h0M314.7 369.3h0M295.7 369.4h0M252.8 369.4h0M300.4 369.4h0M234.3 369.7h0M305.9 369.8h0M265.2 369.8h0M268.0 369.9h0M258.9 369.9h0M235.1 369.9h0M245.2 370.1h0M274.4 370.1h0M255.3 370.2h0M304.6 370.4h0M231.9 370.4h0M304.2 370.8h0M271.3 370.9h0M305.6 371.2h0M285.1 371.3h0M285.7 371.5h0M265.2 371.6h0M234.9 371.6h0M236.5 371.7h0M242.4 371.8h0M242.2 371.9h0M265.6 372.0h0M212.3 372.2h0M231.3 372.3h0M268.9 372.5h0M305.6 372.7h0M247.7 372.7h0M233.5 372.8h0M248.1 372.9h0M268.2 372.9h0M231.4 373.0h0M299.7 373.0h0M300.3 373.0h0M233.6 373.2h0M289.3 373.3h0M313.2 373.3h0M245.8 373.3h0M224.7 373.7h0M279.0 373.7h0M306.8 373.7h0M260.3 374.0h0M276.8 374.1h0M258.3 374.2h0M246.8 374.5h0M241.2 374.7h0M308.0 374.8h0M253.9 374.8h0M209.4 374.8h0M232.9 375.0h0M283.1 375.1h0M235.4 375.7h0M222.6 375.8h0M284.3 375.9h0M255.3 375.9h0M280.2 376.0h0M255.0 376.5h0M244.4 376.8h0M256.9 377.0h0M259.3 377.2h0M264.3 377.6h0M303.7 377.7h0M301.2 377.8h0M258.3 377.9h0M252.1 378.1h0M266.1 378.3h0M236.2 378.4h0M292.0 378.4h0M266.8 378.7h0M263.4 379.6h0M309.5 379.6h0M263.5 379.7h0M209.3 379.7h0M259.7 380.0h0M255.6 380.0h0M206.8 380.2h0M232.8 380.2h0M255.1 380.7h0M225.1 380.8h0M298.9 380.9h0M300.2 381.3h0M311.6 381.7h0M235.8 381.9h0M251.2 381.9h0M271.8 382.0h0M242.1 382.1h0M274.1 382.3h0M288.7 382.5h0M266.7 382.5h0M232.2 382.5h0M249.3 382.5h0M291.1 382.6h0M286.8 382.7h0M297.2 382.7h0M259.5 382.9h0M220.3 383.1h0M260.3 383.1h0M259.4 383.4h0M277.7 383.9h0M259.2 384.0h0M288.1 384.1h0M232.2 384.2h0M233.0 384.8h0M316.0 384.9h0M313.4 385.0h0M207.8 385.0h0M266.4 385.1h0M250.0 385.2h0M235.0 385.2h0M278.4 385.3h0M275.6 385.3h0M244.0 385.5h0M245.5 385.6h0M307.1 385.7h0M291.9 385.8h0M258.2 385.9h0M232.0 386.0h0M222.6 386.3h0M230.7 386.5h0M309.9 386.5h0M307.8 386.7h0M248.8 386.8h0M241.0 386.8h0M255.1 387.3h0M314.2 387.3h0M289.0 387.5h0M288.3 387.6h0M282.4 387.7h0M299.5 387.8h0M255.7 388.1h0M250.6 388.4h0M255.9 388.5h0M303.0 388.9h0M295.9 389.2h0M250.8 389.3h0M245.7 389.4h0M228.2 389.4h0M244.5 389.4h0M276.8 389.5h0M249.7 389.6h0M262.3 389.7h0M243.5 389.8h0M227.9 389.8h0M281.5 389.8h0M235.4 389.9h0M242.8 389.9h0M259.1 390.0h0M283.8 390.0h0M298.3 390.1h0M221.4 391.0h0M250.4 391.0h0M259.3 391.0h0M287.1 391.1h0M245.3 391.3h0M261.2 391.5h0M306.1 391.6h0M277.6 391.6h0M231.6 391.7h0M290.5 391.8h0M291.9 391.9h0M291.1 392.0h0M209.4 392.0h0M231.8 392.1h0M315.3 392.2h0M214.8 392.2h0M235.9 392.3h0M259.5 392.4h0M280.0 392.8h0M250.9 392.9h0M297.5 393.1h0M277.2 393.1h0M308.8 393.1h0M254.0 393.3h0M231.9 393.7h0M254.4 393.8h0M248.4 393.8h0M215.6 394.0h0M251.6 394.0h0M250.8 394.3h0M269.9 394.3h0M258.2 394.4h0M256.0 394.4h0M238.2 394.6h0M307.4 394.8h0M312.4 394.8h0M284.4 394.8h0M256.9 394.9h0M297.4 395.0h0M241.2 395.0h0M252.4 395.5h0M300.6 395.7h0M297.8 395.8h0M282.7 396.4h0M241.3 396.5h0M238.8 396.6h0M312.1 396.7h0M233.4 396.7h0M250.9 396.9h0M262.5 397.0h0M279.3 397.2h0M237.3 397.4h0M280.9 397.5h0M306.3 398.0h0M238.5 398.0h0M291.5 398.0h0M316.2 398.2h0M279.7 398.2h0M276.5 398.2h0M267.1 398.3h0M273.3 398.3h0M277.7 398.5h0M316.7 398.5h0M253.0 398.8h0M234.5 398.8h0M245.2 399.0h0M232.6 399.1h0M266.5 399.2h0M245.1 399.3h0M272.0 399.6h0M258.9 399.8h0M287.1 400.0h0M252.6 400.0h0M254.6 400.1h0M276.9 400.2h0M257.8 400.3h0M268.7 400.3h0M260.2 400.4h0M312.0 400.9h0M299.5 400.9h0M220.1 401.1h0M207.4 401.1h0M284.8 401.3h0M245.0 401.5h0M283.6 401.6h0M287.2 401.8h0M278.6 402.0h0M235.2 402.0h0M315.0 402.1h0M243.3 402.1h0M248.0 402.3h0M238.2 402.3h0M311.8 402.5h0M304.1 402.7h0M249.4 403.8h0M271.8 404.0h0M265.9 404.1h0M254.0 404.1h0M248.7 404.2h0M219.0 404.2h0M297.4 404.3h0M309.7 404.5h0M249.8 404.6h0M244.0 404.7h0M231.1 405.0h0M285.5 405.1h0M233.3 405.3h0M233.7 405.4h0M206.7 405.5h0M254.2 405.8h0M278.4 405.9h0M258.3 406.0h0M254.5 406.3h0M246.5 406.6h0M314.0 407.0h0M248.9 407.0h0M253.0 407.1h0M237.8 407.1h0M271.9 407.2h0M264.5 407.3h0M289.5 407.3h0M298.5 407.5h0M240.1 407.7h0M236.5 407.8h0M265.2 407.9h0M235.6 408.0h0M234.7 408.0h0M308.8 408.1h0M213.0 408.1h0M259.7 408.4h0M293.8 408.4h0M251.2 408.4h0M232.4 408.7h0M224.6 408.7h0M296.2 408.9h0M257.1 409.0h0M284.3 409.1h0M203.6 409.3h0M293.1 409.4h0M274.8 409.6h0M244.1 409.7h0M247.1 409.7h0M275.3 410.1h0M266.8 410.3h0M250.1 410.4h0M239.2 410.6h0M283.8 410.6h0M262.9 410.7h0M312.8 410.8h0M260.2 410.8h0M275.1 410.9h0M256.7 410.9h0M302.7 411.0h0M237.4 411.2h0M244.3 411.6h0M219.9 411.7h0M246.4 411.7h0M252.5 411.9h0M304.1 411.9h0M242.5 412.0h0M244.7 412.0h0M292.5 412.0h0M266.7 412.0h0M253.9 412.3h0M218.2 412.5h0M247.7 412.6h0M306.5 412.9h0M237.3 413.0h0M230.6 413.0h0M230.2 413.3h0M240.5 413.4h0M237.7 413.6h0M205.1 413.6h0M217.8 413.8h0M240.9 413.8h0M215.7 413.9h0M264.4 414.0h0M290.4 414.8h0M243.3 414.8h0M253.0 414.9h0M247.6 415.0h0M293.3 415.0h0M289.0 415.3h0M276.0 415.5h0M243.4 415.6h0M303.0 415.6h0M209.8 415.8h0M234.1 415.9h0M250.9 416.0h0M272.2 416.2h0M251.6 416.2h0M277.7 416.5h0M287.2 416.6h0M239.3 416.8h0M316.0 416.8h0M311.0 416.9h0M285.1 416.9h0M233.5 417.0h0M247.8 417.1h0M285.7 417.1h0M272.7 417.1h0M303.9 417.2h0M270.9 417.3h0M259.4 417.4h0M238.0 417.5h0M239.0 417.6h0M238.6 418.1h0M302.4 418.3h0M234.2 418.3h0M258.9 418.5h0M299.3 418.6h0M297.0 418.6h0M301.7 418.7h0M277.1 418.7h0M261.8 418.8h0M259.5 419.0h0M288.9 419.5h0M282.3 420.1h0M258.3 420.2h0M287.7 420.6h0M232.0 421.0h0M237.5 421.0h0M271.8 421.1h0M310.7 421.1h0M247.5 421.2h0M300.9 421.2h0M248.1 421.3h0M263.9 421.5h0M256.6 421.6h0M283.1 421.6h0M284.8 421.7h0M305.9 422.1h0M257.4 422.3h0M297.4 422.5h0M248.9 422.6h0M233.9 422.6h0M253.9 422.7h0M307.3 423.1h0M241.6 423.2h0M245.6 423.5h0M241.8 423.7h0M236.8 423.7h0M301.7 423.9h0M254.7 423.9h0M226.0 424.1h0M252.9 424.5h0M234.2 424.6h0M259.2 424.8h0M232.1 424.8h0M253.2 425.0h0M289.8 425.3h0M278.3 425.4h0M296.0 425.6h0M240.1 425.7h0M223.3 425.7h0M261.8 425.8h0M263.7 425.9h0M282.7 426.0h0M266.3 426.1h0M303.0 426.4h0M259.5 426.6h0M231.0 426.7h0M290.4 426.7h0M307.6 426.7h0M267.0 426.8h0M243.0 426.9h0M264.8 427.1h0M291.4 427.2h0M220.0 427.4h0M244.1 427.4h0M233.6 427.6h0M253.2 427.6h0M260.5 427.6h0M242.6 427.8h0M309.3 428.0h0M281.4 428.0h0M296.6 428.2h0M310.7 428.2h0M313.7 428.7h0M260.8 428.7h0M262.6 428.8h0M261.1 428.8h0M286.4 428.9h0M249.0 429.0h0M256.3 429.1h0M249.3 429.4h0M215.2 429.7h0M285.1 430.1h0M238.5 430.1h0M242.8 430.1h0M275.8 430.2h0M253.4 430.4h0M231.4 430.5h0M292.4 430.5h0M261.7 430.9h0M241.3 430.9h0M320.6 431.0h0M247.2 431.6h0M271.7 431.6h0M271.5 431.7h0M231.8 432.0h0M219.5 432.1h0M247.0 432.1h0M284.6 432.2h0M265.4 432.4h0M205.6 432.5h0M238.7 432.7h0M305.2 432.9h0M236.8 432.9h0M239.4 432.9h0M247.5 433.0h0M265.0 433.2h0M235.6 433.3h0M232.5 433.7h0M248.7 433.8h0M225.9 434.2h0M292.5 434.2h0M293.3 435.0h0M206.5 435.1h0M227.5 435.3h0M231.1 435.7h0M285.7 435.9h0M320.6 435.9h0M233.1 435.9h0M291.8 436.0h0M265.6 436.1h0M236.4 436.3h0M216.7 436.5h0M265.7 437.1h0M234.1 437.1h0M260.6 437.2h0M266.7 437.3h0M256.8 437.5h0M207.8 437.6h0M237.9 437.8h0M248.9 438.0h0M299.1 438.1h0M252.0 438.1h0M206.2 438.1h0M240.3 438.2h0M268.4 438.3h0M261.3 438.3h0M240.4 438.4h0M285.9 438.5h0M236.2 438.8h0M243.5 438.9h0M281.7 438.9h0M270.9 439.0h0M290.9 439.2h0M238.6 439.2h0M230.8 439.3h0M271.3 439.5h0M320.4 439.8h0M309.6 440.0h0M221.1 440.4h0M315.3 440.4h0M281.9 440.5h0M255.4 441.1h0M223.7 441.3h0M258.9 441.4h0M206.4 441.7h0M316.0 441.8h0M291.0 442.0h0M260.3 442.2h0M277.9 442.5h0M262.7 442.7h0M278.8 442.8h0M251.9 443.0h0M236.2 443.0h0M218.5 443.3h0M236.2 444.1h0M294.7 444.4h0M260.6 444.4h0M234.0 444.7h0M220.5 444.9h0M253.3 445.3h0M221.2 445.3h0M262.8 445.5h0M309.8 445.7h0M249.3 445.8h0M205.2 445.9h0M252.7 446.3h0M230.0 446.8h0M229.4 447.7h0M307.3 447.8h0M270.8 448.4h0M307.7 448.4h0M269.0 448.6h0M223.5 448.8h0M315.4 448.9h0M317.2 449.0h0M260.0 449.3h0M314.5 449.3h0M231.8 449.7h0M302.7 449.9h0M264.1 450.0h0M262.6 450.1h0M232.9 450.3h0M273.5 450.4h0M234.5 450.4h0M207.3 450.5h0M278.9 450.7h0M233.1 450.9h0M263.1 451.1h0M230.7 451.3h0M227.3 451.5h0M254.2 451.5h0M264.8 451.9h0M251.1 452.1h0M319.9 452.3h0M240.9 452.3h0M242.6 452.4h0M267.0 452.4h0M310.0 452.4h0M273.9 452.5h0M239.0 452.5h0M286.7 452.9h0M219.6 453.1h0M257.0 453.3h0M228.5 453.3h0M285.2 453.4h0M254.7 453.6h0M258.3 453.6h0M271.8 453.6h0M274.7 453.8h0M248.8 453.9h0M248.4 454.2h0M233.0 454.3h0M264.2 454.8h0M236.8 454.8h0M236.8 454.8h0M256.2 454.9h0M233.4 455.0h0M213.1 455.0h0M257.2 455.3h0M247.2 455.6h0M250.7 455.8h0M231.2 455.8h0M206.6 455.9h0M238.1 456.0h0M236.5 456.2h0M236.8 456.3h0M262.7 456.4h0M234.3 456.5h0M210.3 456.8h0M270.7 457.1h0M257.2 457.3h0M234.2 457.5h0M284.7 457.5h0M253.8 457.6h0M289.6 457.8h0M253.5 457.9h0M230.0 457.9h0M231.3 458.2h0M205.2 458.3h0M311.6 458.4h0M216.5 458.5h0M244.3 458.6h0M265.0 458.6h0M242.8 458.7h0M294.5 458.9h0M238.2 458.9h0M257.8 459.1h0M249.5 459.2h0M273.9 459.4h0M240.3 459.6h0M268.4 459.8h0M280.2 459.9h0M235.8 460.0h0M226.2 460.0h0M319.9 460.2h0M221.0 460.2h0M315.2 460.3h0M249.5 460.4h0M226.3 460.4h0M243.3 460.7h0M236.8 461.0h0M226.1 461.1h0M247.2 461.2h0M275.9 461.4h0M254.6 461.7h0M247.7 461.7h0M257.3 461.8h0M246.2 462.4h0M278.9 462.5h0M287.0 462.8h0M227.6 462.8h0M250.4 463.0h0M294.5 463.0h0M268.4 463.0h0M230.2 463.1h0M244.8 463.1h0M229.4 463.2h0M264.4 463.6h0M318.4 463.6h0M260.7 463.7h0M242.8 464.2h0M233.2 464.3h0M244.3 464.6h0M259.9 464.7h0M246.6 464.8h0M248.0 465.0h0M255.0 465.1h0M214.8 465.1h0M242.2 465.1h0M268.3 465.2h0M282.6 465.2h0M231.2 465.5h0M233.9 465.8h0M307.2 466.0h0M227.2 466.0h0M239.1 466.0h0M244.4 466.1h0M229.0 466.1h0M292.1 466.3h0M229.9 466.8h0M234.2 466.9h0M252.4 467.1h0M245.1 467.3h0M319.5 467.3h0M296.7 467.4h0M232.8 467.4h0M229.5 467.7h0M241.0 467.7h0M236.5 467.7h0M273.9 467.7h0M318.1 468.0h0M230.1 468.2h0M286.3 468.2h0M315.1 468.3h0M257.9 468.6h0M270.0 468.8h0M315.8 468.9h0M250.8 469.0h0M205.6 469.1h0M297.5 469.1h0M260.7 469.2h0M239.7 469.2h0M247.9 469.2h0M236.8 469.6h0M310.8 470.1h0M240.9 470.2h0M307.8 470.2h0M315.3 470.6h0M244.5 470.7h0M272.7 470.8h0M279.6 471.4h0M249.0 471.5h0M306.4 471.9h0M249.8 472.0h0M302.5 472.1h0M245.2 472.2h0M264.8 472.2h0M228.3 472.4h0M253.1 472.4h0M244.7 472.5h0M284.0 472.5h0M259.2 472.9h0M305.6 473.3h0M238.2 473.5h0M271.9 473.5h0M230.2 473.9h0M257.0 474.4h0M251.2 474.9h0M210.9 475.0h0M298.0 475.0h0M243.9 475.2h0M291.0 475.3h0M249.5 475.6h0M305.3 475.7h0M263.9 475.8h0M308.2 475.8h0M293.7 475.8h0M281.4 475.9h0M288.3 475.9h0M246.7 476.1h0M240.8 476.5h0M241.1 476.7h0M249.1 476.9h0M243.5 477.0h0M292.8 477.7h0M242.8 477.8h0M254.1 477.9h0M242.7 477.9h0M277.1 478.0h0M254.6 478.0h0M236.1 478.0h0M232.8 478.1h0M261.2 478.5h0M279.0 478.8h0M260.5 479.1h0M259.9 479.1h0M269.6 479.3h0M248.9 479.4h0M294.7 479.5h0M246.3 479.8h0M251.4 479.9h0M277.8 480.1h0M246.8 480.1h0M254.3 480.2h0M251.3 480.3h0M220.7 480.4h0M318.8 480.5h0M300.9 480.5h0M237.7 480.8h0M321.3 480.9h0M296.5 481.1h0M247.0 481.3h0M227.4 481.5h0M254.5 481.8h0M271.5 481.9h0M253.8 481.9h0M306.1 482.3h0M231.9 482.6h0M227.6 482.6h0M311.5 482.6h0M245.7 482.7h0M300.1 482.7h0M255.9 482.8h0M229.1 482.9h0M257.3 483.0h0M262.2 483.5h0M247.1 483.8h0M255.7 483.8h0M247.9 483.9h0M251.5 483.9h0M216.7 483.9h0M300.8 484.2h0M297.2 484.2h0M305.2 484.2h0M250.8 484.3h0M285.5 484.7h0M257.0 485.0h0M254.2 485.1h0M228.5 485.2h0M241.2 485.2h0M254.0 485.2h0M203.5 485.3h0M264.3 485.3h0M243.8 485.4h0M257.7 485.4h0M257.4 485.5h0M315.0 485.8h0M276.8 485.9h0M254.8 486.2h0M207.8 486.2h0M233.1 486.3h0M241.6 486.4h0M262.0 486.5h0M212.5 486.5h0M211.0 486.7h0M204.3 487.0h0M261.1 487.2h0M299.5 487.2h0M240.6 487.3h0M210.2 487.4h0M233.7 487.9h0M209.5 488.2h0M258.9 488.2h0M233.1 488.3h0M258.3 488.4h0M255.3 488.5h0M261.1 488.6h0M311.7 488.8h0M263.9 489.8h0M258.6 490.0h0M257.6 490.1h0M276.7 490.3h0M240.7 490.5h0M229.9 490.5h0M256.6 490.5h0M309.0 490.6h0M243.5 490.6h0M266.8 490.9h0M275.8 491.4h0M304.6 491.6h0M232.6 491.7h0M246.7 491.7h0M248.2 491.8h0M232.4 491.9h0M260.0 492.0h0M254.0 492.1h0M252.5 492.6h0M229.7 492.7h0M256.6 493.1h0M282.4 493.1h0M278.8 493.2h0M238.9 493.3h0M267.8 493.3h0M236.7 494.4h0M235.3 494.7h0M254.0 494.8h0M260.7 494.8h0M238.6 495.1h0M268.4 495.4h0M262.6 495.5h0M268.6 495.7h0M220.1 495.9h0M261.6 495.9h0M261.3 496.3h0M277.3 496.4h0M243.5 496.6h0M246.9 496.7h0M245.4 496.7h0M245.7 496.7h0M297.6 496.8h0M293.8 496.8h0M233.4 496.8h0M253.7 497.2h0M250.8 497.3h0M271.2 497.3h0M320.4 497.4h0M249.5 497.6h0M276.1 497.6h0M292.4 497.7h0M226.4 497.8h0M257.0 498.0h0M241.2 498.2h0M234.9 498.3h0M236.3 498.3h0M263.3 498.6h0M227.5 498.8h0M227.4 499.3h0M232.8 499.4h0M251.5 499.4h0M221.1 499.6h0M244.7 499.6h0M275.8 499.7h0M221.6 499.8h0M244.3 500.0h0M211.9 500.5h0M257.6 500.7h0M256.2 500.7h0M311.1 500.8h0M229.0 500.8h0M281.8 500.9h0M248.9 501.1h0M265.1 501.2h0M264.9 501.2h0M238.7 501.6h0M241.0 502.2h0M247.8 502.4h0M294.2 502.6h0M245.0 502.6h0M227.8 502.7h0M299.9 502.9h0M212.6 503.0h0M253.6 503.0h0M230.9 503.0h0M258.1 503.1h0M275.5 503.1h0M299.0 503.2h0M297.0 503.4h0M249.2 503.4h0M227.9 503.5h0M319.7 503.5h0M272.5 503.5h0M232.5 503.8h0M256.8 504.0h0M266.9 504.1h0M255.7 504.1h0M237.7 504.1h0M256.4 504.1h0M273.4 504.3h0M251.0 504.5h0M240.6 504.7h0M227.9 504.7h0M217.6 504.9h0M239.3 505.6h0M246.1 506.0h0M244.4 506.0h0M255.9 506.2h0M249.1 506.6h0M255.4 506.9h0M313.7 506.9h0M291.7 507.3h0M202.9 507.8h0M280.3 508.0h0M209.5 508.2h0M213.2 508.3h0M244.7 508.3h0M279.1 508.4h0M318.0 508.4h0M235.4 508.5h0M246.9 508.9h0M245.4 509.3h0M300.4 509.3h0M285.9 509.6h0M242.9 509.8h0M204.1 509.9h0M259.5 510.2h0M243.0 510.5h0M208.7 510.7h0M243.7 510.9h0M237.7 511.2h0M239.1 511.2h0M212.0 511.3h0M266.1 511.4h0M243.3 511.6h0M208.3 511.7h0M263.0 511.8h0M297.1 511.9h0M261.5 512.0h0M206.6 512.2h0M293.1 512.2h0M300.6 512.3h0M231.4 512.4h0M296.2 512.5h0M214.8 512.5h0M319.2 512.5h0M235.7 513.0h0M203.5 513.2h0M229.4 513.3h0M258.1 513.6h0M223.8 513.9h0M312.3 513.9h0M253.5 514.1h0M258.7 514.8h0M320.9 514.9h0M240.7 515.2h0M207.9 515.3h0M239.7 515.7h0M288.9 516.0h0M256.7 516.3h0M293.1 516.3h0M237.9 517.9h0M228.4 518.5h0M248.0 518.8h0M233.8 519.0h0M261.0 519.0h0M235.7 519.2h0M243.5 519.4h0M217.9 519.5h0M318.5 519.5h0M262.8 519.8h0M240.8 519.9h0M219.8 520.0h0M265.9 520.4h0M240.7 520.7h0M256.0 520.7h0M215.9 520.8h0M244.5 520.8h0M245.9 520.9h0M261.3 521.0h0M250.0 521.1h0M243.1 521.9h0M241.2 521.9h0M241.1 522.1h0M232.5 522.3h0M316.3 522.3h0M212.7 522.5h0M312.3 523.0h0M282.5 523.1h0M227.6 523.2h0M244.7 523.3h0M296.4 523.4h0M246.1 523.7h0M242.7 523.8h0M238.3 523.8h0M246.0 524.0h0M241.1 524.6h0M237.9 524.7h0M252.4 524.8h0M250.8 525.0h0M243.6 525.6h0M236.8 525.8h0M221.5 525.8h0M252.6 525.9h0M321.4 525.9h0M221.5 526.2h0M241.3 526.2h0M314.7 526.4h0M231.8 526.4h0M224.8 526.5h0M233.7 526.6h0M291.1 526.7h0M262.5 527.2h0M242.3 527.2h0M234.8 527.3h0M250.6 527.4h0M246.2 527.4h0M220.5 527.6h0M318.8 527.7h0M243.6 527.9h0M319.3 527.9h0M209.2 528.0h0M246.4 528.0h0M241.6 528.2h0M251.0 528.3h0M229.8 528.3h0M261.2 528.7h0M315.0 528.7h0M263.6 528.8h0M290.9 528.9h0M283.7 529.2h0M229.1 529.3h0M210.9 529.4h0M242.6 529.5h0M238.5 529.8h0M223.0 529.8h0M275.5 530.0h0M260.4 530.0h0M225.8 530.1h0M205.2 530.2h0M238.5 530.4h0M209.4 530.4h0M235.7 530.8h0M258.1 530.9h0M236.9 531.0h0M237.4 531.2h0M244.2 531.3h0M314.7 531.3h0M260.5 531.6h0M241.3 531.9h0M240.7 532.0h0M204.9 532.1h0M251.8 532.9h0M244.8 532.9h0M287.9 533.1h0M247.8 533.4h0M300.7 533.4h0M204.1 533.5h0M312.4 534.3h0M228.9 534.7h0M238.2 534.7h0M210.0 534.8h0M251.5 534.9h0M213.7 535.1h0M217.2 535.2h0M231.6 535.8h0M262.7 536.1h0M245.7 536.4h0M244.5 536.6h0M264.0 536.8h0M256.3 536.9h0M260.3 536.9h0M259.6 537.3h0M292.7 537.6h0M247.4 538.0h0M222.3 538.0h0M247.7 538.2h0M238.0 538.5h0M239.4 538.6h0M240.0 538.8h0M247.3 539.3h0M231.4 539.4h0M257.9 539.7h0M246.1 540.3h0M256.6 540.3h0M204.3 540.8h0M276.7 541.1h0M228.3 541.3h0M235.2 541.7h0M241.6 541.8h0M210.4 542.1h0M252.8 542.3h0M234.6 542.6h0M256.0 542.9h0M223.3 543.0h0M227.7 543.2h0M241.6 543.3h0M242.4 543.5h0M219.0 543.6h0M259.1 543.7h0M209.6 543.8h0M255.7 543.8h0M261.4 543.9h0M262.4 544.2h0M227.6 544.6h0M251.3 544.6h0M262.9 544.7h0M230.4 545.0h0M256.6 545.0h0M258.6 545.2h0M293.1 545.3h0M249.4 545.7h0M262.8 545.7h0M230.1 546.1h0M238.4 546.1h0M202.9 546.3h0M290.2 546.7h0M250.0 546.7h0M287.5 546.8h0M285.1 547.0h0M244.8 547.1h0M262.5 547.2h0M209.1 547.5h0M233.9 547.9h0M243.7 548.9h0M242.7 549.3h0M235.9 549.4h0M244.5 549.5h0M251.5 549.9h0M243.1 550.0h0M225.5 550.1h0M251.7 550.3h0M230.2 551.0h0M321.0 551.1h0M244.4 551.3h0M239.4 551.3h0M225.6 551.6h0M229.0 551.7h0M234.2 551.7h0M241.9 551.7h0M216.1 551.9h0M247.6 552.0h0M235.9 552.1h0M208.4 552.1h0M212.1 552.1h0M250.4 552.3h0M227.1 553.1h0M248.5 553.4h0M238.4 553.5h0M206.7 553.8h0M267.0 554.0h0M228.4 554.0h0M244.5 554.1h0M285.5 554.1h0M240.5 554.2h0M256.6 554.6h0M233.1 554.6h0M247.1 554.7h0M252.9 554.9h0M204.9 555.0h0M293.6 555.0h0M256.4 555.2h0M230.6 555.5h0M258.4 556.0h0M222.7 556.2h0M227.9 556.3h0M287.7 556.8h0M235.4 557.3h0M319.8 558.3h0M303.5 558.4h0M237.4 558.7h0M266.7 558.9h0M252.3 558.9h0M245.7 559.0h0M249.8 559.0h0M249.9 559.1h0M277.7 559.4h0M232.5 559.6h0M271.6 559.9h0M228.8 560.6h0M215.6 560.9h0M221.4 561.2h0M248.0 561.3h0M233.1 561.4h0M236.6 561.4h0M249.9 561.5h0M313.6 561.5h0M240.2 561.5h0M312.4 561.7h0M235.3 561.9h0M251.9 562.2h0M230.2 562.3h0M239.5 562.6h0M216.4 563.1h0M253.9 563.4h0M262.0 563.4h0M242.2 563.6h0M231.1 564.3h0M316.7 564.5h0M232.8 564.9h0M257.6 565.0h0M229.7 565.2h0M251.1 565.4h0M289.8 565.5h0M247.3 565.6h0M262.3 565.7h0M232.5 565.7h0M241.0 565.8h0M313.0 565.8h0M256.8 565.9h0M244.7 566.1h0M320.9 566.2h0M249.7 566.3h0M249.1 566.3h0M312.8 567.0h0M262.2 567.0h0M241.8 567.2h0M217.6 567.2h0M208.1 567.3h0M255.8 567.9h0M240.8 568.4h0M317.4 568.8h0M316.0 568.9h0M247.8 569.1h0M242.3 569.1h0M232.9 569.6h0M230.1 569.8h0M254.1 569.8h0M238.6 570.0h0M252.8 570.5h0M320.1 570.5h0M228.2 570.9h0M287.7 571.2h0M226.5 571.7h0M230.9 571.7h0M258.8 571.8h0M235.3 571.8h0M256.3 571.9h0M236.3 572.0h0M209.1 572.0h0M232.7 572.1h0M252.5 572.2h0M260.1 572.4h0M250.9 572.5h0M227.9 572.6h0M227.0 573.7h0M292.0 574.0h0M257.5 574.2h0M236.3 574.5h0M245.5 574.7h0M297.8 574.7h0M257.2 574.8h0M227.1 575.0h0M249.6 575.0h0M313.2 575.2h0M260.8 575.4h0M246.3 575.6h0M222.1 575.6h0M240.6 575.7h0M207.2 576.1h0M237.9 576.4h0M245.3 576.6h0M236.2 576.8h0M209.4 576.9h0M239.0 577.4h0M230.0 577.4h0M233.5 577.8h0M315.2 578.1h0M315.3 578.1h0M220.6 578.2h0M246.3 578.2h0M261.9 578.3h0M226.5 578.7h0M269.1 578.9h0M226.9 579.1h0M255.5 579.2h0M243.3 579.2h0M202.2 579.8h0M226.8 580.0h0M313.1 580.0h0M232.0 581.2h0M228.9 581.3h0M230.5 581.6h0M225.5 582.3h0M317.1 582.3h0M315.5 582.4h0M237.6 582.4h0M253.2 582.5h0M249.6 583.0h0M235.6 583.0h0M255.6 584.0h0M227.4 584.0h0M260.0 584.1h0M320.5 584.1h0M260.0 584.5h0M245.4 584.6h0M203.0 585.1h0M234.1 585.5h0M231.0 585.5h0M236.3 585.9h0M229.6 586.1h0M242.2 586.7h0M259.3 586.8h0M247.2 586.9h0M254.1 587.0h0M320.4 587.4h0M251.8 587.9h0M274.2 588.6h0M227.0 588.9h0M250.9 589.2h0M204.4 589.4h0M226.2 589.9h0M238.0 590.2h0M223.0 590.3h0M250.4 590.3h0M246.4 590.4h0M251.1 590.9h0M261.5 590.9h0M227.0 590.9h0M260.7 590.9h0M243.9 591.0h0M278.3 591.0h0M233.4 591.1h0M315.3 591.1h0M215.9 591.6h0M244.0 591.8h0M258.8 591.9h0M210.4 592.0h0M240.2 592.0h0M259.2 592.0h0M260.0 592.1h0M205.4 592.5h0M238.7 592.5h0M313.2 592.8h0M252.7 592.9h0M241.2 593.0h0M250.8 593.6h0M248.0 593.9h0M257.1 594.0h0M263.6 594.0h0M236.6 594.5h0M213.4 594.5h0M317.7 594.9h0M257.4 595.0h0M235.8 595.4h0M229.1 595.5h0M293.4 595.5h0M236.0 595.7h0M314.4 595.7h0M265.9 596.1h0M274.4 596.2h0M250.6 596.3h0M314.6 596.4h0M315.1 596.6h0M239.6 596.6h0M251.4 596.8h0M298.3 596.8h0M229.0 597.0h0M238.9 597.1h0M250.0 597.8h0M284.5 598.2h0M237.3 598.3h0M257.6 598.3h0M255.0 598.3h0M205.8 598.4h0M217.4 598.6h0M252.2 598.8h0M260.7 598.8h0M216.2 598.8h0M245.4 599.3h0M213.2 599.3h0M269.0 599.7h0M255.9 600.3h0M303.4 600.4h0M221.8 600.4h0M232.2 600.4h0M232.0 600.6h0M301.9 601.2h0M230.4 601.4h0M222.9 601.5h0M226.4 601.8h0M253.3 602.0h0M230.3 602.1h0M238.1 602.4h0M295.8 602.4h0M290.8 602.6h0M242.4 602.7h0M254.7 603.0h0M204.8 603.2h0M235.3 603.2h0M254.7 603.5h0M228.8 603.5h0M241.0 603.6h0M262.9 603.8h0M244.2 604.1h0M273.3 604.3h0M254.3 604.3h0M223.1 604.7h0M230.7 604.8h0M247.7 605.0h0M235.1 605.0h0M256.5 605.0h0M256.1 605.2h0M296.1 605.5h0M282.7 605.6h0M226.0 605.7h0M253.0 606.1h0M316.1 606.1h0M253.4 606.3h0M247.1 606.3h0M259.4 606.3h0M235.3 606.4h0M253.6 606.5h0M221.3 606.5h0M316.0 606.9h0M243.2 606.9h0M227.1 606.9h0M312.8 607.0h0M226.5 607.0h0M229.6 607.1h0M259.0 607.1h0M237.3 607.2h0M236.5 607.2h0M241.5 607.3h0M246.2 607.4h0M238.5 607.5h0M261.6 607.6h0M223.6 607.7h0M218.3 608.1h0M257.0 608.4h0M237.4 608.4h0M215.7 608.5h0M225.8 608.9h0M252.6 609.2h0M315.6 609.2h0M305.5 609.4h0M217.6 609.6h0M313.4 609.6h0M231.8 610.2h0M234.4 610.3h0M302.0 610.4h0M253.8 610.4h0M226.9 610.6h0M297.2 610.6h0M253.5 611.1h0M253.7 611.3h0M219.2 611.3h0M256.1 611.3h0M240.1 611.7h0M227.1 611.8h0M231.4 612.1h0M233.4 612.1h0M246.9 612.3h0M260.4 612.4h0M314.2 612.5h0M264.8 612.5h0M224.8 612.6h0M237.8 612.6h0M239.3 612.8h0M246.2 612.9h0M243.7 613.2h0M236.0 613.3h0M301.6 613.4h0M257.6 613.6h0M254.1 613.6h0M318.8 613.6h0M211.9 613.8h0M237.4 614.1h0M228.6 614.2h0M238.4 614.2h0M246.4 614.4h0M241.4 614.6h0M224.9 615.2h0M318.4 615.4h0M236.8 615.5h0M244.1 616.0h0M241.2 616.0h0M316.2 616.3h0M255.7 617.1h0M248.2 617.7h0M233.8 617.8h0M227.4 618.4h0M247.2 618.6h0M250.5 618.6h0M249.1 618.7h0M252.7 618.8h0M212.2 619.1h0M237.2 619.4h0M260.2 619.4h0M293.0 619.4h0M236.9 619.5h0M231.2 619.7h0M253.4 619.8h0M232.3 619.8h0M275.9 619.8h0M262.0 620.2h0M260.0 620.3h0M298.9 620.3h0M244.3 620.4h0M238.3 620.8h0M232.7 620.9h0M232.2 621.2h0M241.3 621.4h0M259.5 621.4h0M261.8 621.7h0M241.6 621.9h0M319.3 622.2h0M288.8 622.4h0M252.7 622.8h0M304.2 623.1h0M232.3 623.2h0M230.6 623.6h0M293.1 623.7h0M250.5 623.7h0M261.5 623.7h0M247.9 623.8h0M225.8 623.9h0M227.4 624.0h0M270.7 624.1h0M238.9 624.4h0M249.8 624.4h0M237.2 624.4h0M258.3 624.7h0M206.0 625.4h0M265.1 625.5h0M246.0 625.6h0M221.0 625.7h0M225.0 625.8h0M257.0 626.1h0M242.7 626.6h0M214.4 626.6h0M237.5 626.6h0M262.6 626.6h0M246.2 626.7h0M315.0 626.9h0M263.4 627.0h0M233.3 627.1h0M248.2 627.2h0M233.0 627.2h0M251.8 627.3h0M247.2 627.3h0M253.2 628.1h0M291.0 628.1h0M259.3 628.3h0M245.0 628.5h0M258.1 628.6h0M256.7 628.7h0M236.6 628.8h0M319.1 628.9h0M242.4 629.1h0M247.9 629.5h0M225.7 629.9h0M223.9 630.3h0M238.5 630.5h0M247.8 630.7h0M241.5 630.9h0M276.4 630.9h0M241.4 630.9h0M233.2 631.0h0M211.2 631.3h0M242.1 631.3h0M283.3 631.3h0M229.9 631.4h0M249.9 631.5h0M250.4 631.5h0M210.6 631.9h0M251.5 632.0h0M261.3 632.4h0M240.6 632.4h0M244.2 632.5h0M234.0 632.9h0M226.4 633.0h0M223.0 633.1h0M238.8 633.1h0M229.2 633.5h0M256.2 633.8h0M222.9 633.8h0M257.2 633.9h0M232.1 634.0h0M296.8 634.1h0M236.5 634.5h0M281.5 634.5h0M221.7 634.7h0M317.4 634.8h0M259.1 635.2h0M231.8 635.2h0M227.5 635.3h0M227.2 635.4h0M252.1 635.4h0M236.5 635.4h0M240.2 635.6h0M316.2 635.7h0M319.8 636.0h0M225.8 636.0h0M222.5 636.1h0M206.8 636.1h0M223.9 636.2h0M230.8 637.0h0M232.6 637.3h0M229.0 637.6h0M260.0 637.6h0M254.9 637.8h0M217.3 637.8h0M216.9 637.8h0M225.5 637.9h0M228.0 638.0h0M215.6 638.1h0M249.4 638.4h0M238.4 638.4h0M269.3 638.7h0M314.6 638.7h0M248.3 638.9h0M225.5 638.9h0M242.1 639.0h0M222.0 639.0h0M219.8 639.0h0M228.7 639.2h0M217.6 639.5h0M231.7 639.7h0M219.7 639.7h0M282.9 639.8h0M259.3 640.0h0M318.0 640.0h0M255.4 640.2h0M256.4 640.5h0M261.8 640.6h0M224.1 640.6h0M228.8 641.0h0M220.6 641.2h0M219.4 641.3h0M251.2 641.4h0M235.7 641.5h0M237.6 641.7h0M319.2 641.8h0M254.8 642.0h0M215.0 642.0h0M212.9 642.3h0M231.2 642.4h0M218.0 642.8h0M240.3 643.1h0M233.8 643.1h0M238.2 643.1h0M208.8 643.1h0M222.0 643.2h0M233.9 643.9h0M227.9 644.3h0M262.7 644.7h0M215.0 644.7h0M215.5 644.8h0M215.8 645.1h0M247.1 645.4h0M247.4 645.4h0M259.5 645.6h0M252.1 646.0h0M258.3 646.6h0M238.0 646.6h0M253.3 646.7h0M240.9 647.4h0M244.1 647.5h0M237.8 647.8h0M204.2 647.8h0M238.0 648.4h0M240.3 648.4h0M303.0 648.4h0M227.3 648.5h0M248.5 648.8h0M262.1 649.2h0M302.0 649.4h0M247.2 649.5h0M219.5 649.9h0M273.8 650.1h0M222.0 650.6h0M238.0 650.9h0M226.3 651.1h0M227.5 651.3h0M241.6 651.6h0M313.3 651.7h0M237.1 652.2h0M216.5 652.3h0M238.7 652.4h0M238.3 652.6h0M234.2 652.7h0M234.3 652.7h0M218.1 652.8h0M258.7 652.9h0M246.2 653.1h0M234.4 653.1h0M224.5 653.4h0M254.6 653.4h0M237.9 653.6h0M266.9 653.8h0M226.0 653.9h0M225.9 653.9h0M233.0 654.0h0M252.1 654.3h0M207.2 654.3h0M253.2 655.0h0M211.0 655.1h0M240.1 655.3h0M253.1 655.4h0M218.7 655.5h0M226.5 655.6h0M244.5 655.7h0M237.1 655.7h0M223.9 655.9h0M290.5 656.3h0M256.1 656.4h0M225.0 656.6h0M243.7 656.6h0M244.5 656.7h0M214.4 656.7h0M222.2 656.8h0M212.9 657.0h0M215.7 657.1h0M260.4 657.2h0M229.6 657.3h0M262.6 657.3h0M231.5 657.4h0M246.0 657.8h0M243.4 658.6h0M237.0 658.7h0M240.2 659.1h0M262.1 659.2h0M253.0 659.2h0M225.2 659.4h0M254.3 659.7h0M237.9 659.8h0M230.3 659.8h0M239.7 659.9h0M226.6 660.8h0M257.3 660.9h0M240.1 660.9h0M261.6 661.1h0M230.7 661.4h0M228.3 661.5h0M239.5 661.7h0M205.7 662.1h0M214.7 662.1h0M240.0 662.3h0M252.7 663.8h0M237.1 663.9h0M251.5 663.9h0M220.9 663.9h0M252.9 664.0h0M318.2 664.2h0M254.0 664.4h0M235.2 664.6h0M251.6 664.6h0M287.0 664.7h0M232.7 665.4h0M241.4 665.5h0M235.8 665.8h0M211.0 666.2h0M247.4 666.3h0M312.6 666.3h0M248.3 666.4h0M268.4 666.5h0M273.7 666.7h0M234.2 666.7h0M237.9 666.9h0M241.6 667.0h0M265.3 667.1h0M283.5 667.2h0M216.5 667.2h0M258.5 667.5h0M240.7 667.8h0M227.1 668.7h0M217.7 668.7h0M260.3 668.8h0M243.1 668.9h0M208.7 670.1h0M260.9 670.2h0M241.4 670.3h0M317.0 670.4h0M219.0 670.4h0M252.2 670.5h0M210.9 671.1h0M250.1 671.4h0M224.5 671.5h0M208.7 671.6h0M217.7 672.0h0M211.2 672.1h0M210.3 672.1h0M243.0 672.2h0M215.2 673.7h0M230.0 674.2h0M317.3 674.9h0M217.2 675.0h0M260.1 675.6h0M286.5 675.7h0M234.8 676.3h0M287.3 676.7h0M258.7 676.8h0M313.5 677.1h0M232.1 677.3h0M218.5 677.6h0M219.2 677.7h0M286.0 678.8h0M254.5 679.0h0M239.1 679.3h0M208.0 679.3h0M208.9 679.4h0M214.2 679.9h0M253.4 680.2h0M220.3 680.2h0M208.4 680.6h0M246.0 681.3h0M242.8 681.4h0M214.5 681.9h0M248.9 682.1h0M216.1 682.1h0M245.5 682.3h0M256.4 682.3h0M247.5 682.6h0M255.3 682.9h0M215.8 682.9h0M250.6 683.3h0M222.8 683.5h0M277.8 683.7h0M237.3 683.8h0M252.7 684.0h0M209.1 684.3h0M225.2 684.9h0M274.0 685.0h0M233.9 685.5h0M255.4 685.8h0M252.5 686.2h0M237.5 686.4h0M221.1 686.5h0M222.8 687.3h0M231.0 687.3h0M226.4 687.3h0M208.4 687.6h0M287.5 687.8h0M243.7 687.9h0M240.8 688.3h0M229.4 688.5h0M241.7 688.7h0M218.8 688.8h0M210.7 689.1h0M246.0 689.3h0M210.6 689.3h0M235.2 689.4h0M210.0 689.6h0M227.7 689.9h0M224.4 690.1h0M225.1 690.5h0M237.2 691.1h0M216.0 691.2h0M308.0 691.3h0M239.4 691.4h0M226.3 691.9h0M312.2 692.0h0M311.4 692.1h0M255.4 692.6h0M220.4 692.7h0M254.6 693.4h0M212.0 694.3h0M228.1 694.5h0M238.4 694.5h0M217.8 695.2h0M225.8 695.8h0M223.8 696.2h0M234.0 696.3h0M227.3 696.4h0M236.4 697.3h0M232.4 697.3h0M216.3 698.2h0M239.8 698.6h0M231.1 699.1h0M245.9 699.1h0M303.5 699.2h0M257.0 699.6h0M245.2 699.9h0M242.4 700.0h0M212.8 700.1h0M253.4 700.4h0M221.7 701.0h0M212.4 701.5h0M221.7 701.6h0M247.7 701.7h0M234.8 701.9h0M244.2 702.2h0M218.4 702.4h0M243.3 702.4h0M248.2 703.3h0M211.1 703.5h0M211.7 703.5h0M246.8 703.9h0M230.3 703.9h0M236.0 703.9h0M226.0 704.1h0M232.3 704.2h0M247.4 705.1h0M214.5 705.5h0M243.5 705.7h0M218.7 705.9h0M254.3 706.7h0M210.4 707.3h0M234.5 708.7h0M240.2 708.9h0M219.2 709.0h0M249.1 709.5h0M243.4 709.5h0M251.8 709.6h0M234.0 709.9h0M244.8 711.1h0M226.1 711.3h0M249.8 712.3h0M228.0 713.3h0M243.6 713.3h0M248.7 713.9h0M222.6 715.3h0M249.9 715.8h0M241.8 716.3h0M237.1 716.5h0M249.9 717.5h0M213.6 717.6h0M239.7 721.0h0M253.7 721.0h0M227.3 721.1h0M231.5 721.1h0M252.0 721.8h0M243.4 722.2h0M245.5 722.6h0M236.6 723.3h0M221.3 723.3h0M234.0 723.8h0M237.6 723.8h0M248.3 724.2h0M216.5 724.7h0M224.1 725.0h0M212.5 725.5h0M231.3 726.5h0M251.7 727.3h0M226.8 728.0h0M233.5 728.1h0M217.0 728.7h0M253.4 729.0h0M233.4 729.5h0M237.6 730.0h0M218.9 731.3h0M248.2 731.6h0M216.8 732.1h0M213.4 732.3h0M246.5 733.1h0M244.0 734.2h0M236.4 734.2h0M249.6 734.5h0M241.4 735.3h0M234.6 735.4h0M247.0 735.4h0M242.3 735.4h0M215.7 736.5h0M235.6 737.0h0M213.9 737.6h0M234.7 738.4h0M231.3 738.9h0M249.7 739.2h0M215.2 739.6h0M243.4 739.6h0M233.3 740.1h0M244.0 740.2h0M232.0 740.6h0M241.8 741.3h0M216.9 742.0h0M216.6 742.0h0M242.5 743.6h0M232.2 744.8h0M249.2 745.6h0M215.0 746.0h0M240.7 746.2h0M219.0 746.6h0M243.8 746.9h0M239.7 747.5h0M221.4 747.5h0M238.8 747.6h0M242.1 748.4h0M215.5 751.1h0M235.7 754.0h0M230.5 755.2h0M238.8 756.5h0M227.6 757.4h0M238.2 757.7h0M218.3 757.8h0M238.7 758.6h0M245.3 758.9h0M242.4 761.3h0M244.9 762.9h0M244.6 763.0h0M223.6 764.4h0M246.0 766.1h0M240.8 766.8h0M238.8 767.8h0M241.2 768.0h0M243.6 775.5h0M244.3 787.3h0M241.7 797.4h0M242.5 802.1h0" fill="none" stroke="#00ffff" stroke-width="7" stroke-linecap="round"/>
<polyline points="287.2,18.6 285.0,101.4 283.0,184.3 280.6,267.2 277.3,350.1 275.4,432.9 260.1,515.8 243.6,640.1" fill="none" stroke="#ff0000" stroke-width="8.68" stroke-linejoin="round"/>
<polyline points="276.3,80.7 268.3,287.9 252.3,495.1 247.4,702.3" fill="none" stroke="#0000ff" stroke-width="2.60" stroke-linejoin="round"/>
<path d="M276.3 80.7h0M268.3 287.9h0M252.3 495.1h0M247.4 702.3h0" fill="none" stroke="#0000ff" stroke-width="12.6" stroke-linecap="round"/>
<polyline points="287.2,18.6 285.0,101.4 283.0,184.3 280.6,267.2 277.3,350.1 275.4,432.9 260.1,515.8 243.6,640.1" fill="none" stroke="#ff0000" stroke-width="3.10" stroke-linejoin="round"/>
<path d="M287.2 18.6h0M285.0 101.4h0M283.0 184.3h0M280.6 267.2h0M277.3 350.1h0M275.4 432.9h0M260.1 515.8h0M243.6 640.1h0" fill="none" stroke="#ff0000" stroke-width="12.6" stroke-linecap="round"/>
<polyline points="378.6,18.6 378.6,101.4 377.4,184.3 375.5,267.2 370.3,350.1 342.3,432.9 270.2,515.8 265.3,640.1" fill="none" stroke="#008000" stroke-width="3.00" stroke-linejoin="round"/>
<path d="M378.6 18.6h0M378.6 101.4h0M377.4 184.3h0M375.5 267.2h0M370.3 350.1h0M342.3 432.9h0M270.2 515.8h0M265.3 640.1h0" fill="none" stroke="#008000" stroke-width="12.6" stroke-linecap="round"/>
<polyline points="307.4,39.0 307.4,82.4 307.4,128.2 307.4,176.8 307.4,229.0 307.4,285.5 307.2,347.2 306.5,415.3 304.4,491.2 261.8,576.6 190.2,673.7 185.2,785.0 179.0,913.6" fill="none" stroke="#ff00ff" stroke-width="3.30" stroke-linejoin="round"/>
<path d="M307.4 39.0h0M307.4 82.4h0M307.4 128.2h0M307.4 176.8h0M307.4 229.0h0M307.4 285.5h0M307.2 347.2h0M306.5 415.3h0M304.4 491.2h0M261.8 576.6h0M190.2 673.7h0M185.2 785.0h0M179.0 913.6h0" fill="none" stroke="#ff00ff" stroke-width="12.6" stroke-linecap="round"/>
</g>
<rect x="77.5" y="19.4" width="394.0" height="784.0" fill="none" stroke="#000" stroke-width="1.39"/>
<path d="M113.5 803.4v6.1M206.5 803.4v6.1M300.5 803.4v6.1M393.5 803.4v6.1M77.5 19.5h-6.1M77.5 226.5h-6.1M77.5 433.5h-6.1M77.5 640.5h-6.1" stroke="#000" stroke-width="1.39" fill="none"/>
<text x="113.2" y="830" font-size="17.36" text-anchor="middle">21.0</text>
<text x="206.5" y="830" font-size="17.36" text-anchor="middle">21.5</text>
<text x="299.9" y="830" font-size="17.36" text-anchor="middle">22.0</text>
<text x="393.2" y="830" font-size="17.36" text-anchor="middle">22.5</text>
<text x="64" y="27.0" font-size="17.36" text-anchor="end">0</text>
<text x="64" y="234.0" font-size="17.36" text-anchor="end">5</text>
<text x="64" y="441.0" font-size="17.36" text-anchor="end">10</text>
<text x="64" y="648.0" font-size="17.36" text-anchor="end">15</text>
</g>
<g id="axes1">
<path d="M603.5 803.4V19.4M665.5 803.4V19.4M727.5 803.4V19.4M789.5 803.4V19.4M851.5 803.4V19.4M913.5 803.4V19.4M575.5 226.5H970.6M575.5 433.5H970.6M575.5 640.5H970.6" fill="none" stroke="#b0b0b0" stroke-width="1" stroke-dasharray="3.2 1.4"/>
<g clip-path="url(#c1)">
<path d="M651.5 71.5h0M683.5 80.7h0M652.8 80.9h0M655.8 81.7h0M651.4 81.8h0M653.3 81.9h0M659.7 82.1h0M649.7 82.5h0M658.5 82.5h0M664.8 82.7h0M662.6 84.2h0M664.9 84.4h0M662.3 84.7h0M655.4 84.7h0M657.2 85.1h0M647.4 85.1h0M647.4 85.3h0M670.5 85.6h0M658.2 86.3h0M647.0 86.3h0M651.7 86.7h0M653.4 87.3h0M692.0 88.0h0M651.7 88.2h0M663.5 88.8h0M665.0 88.9h0M655.1 90.3h0M647.2 90.7h0M665.5 90.8h0M656.3 91.3h0M656.4 91.5h0M648.7 91.8h0M653.6 91.9h0M664.4 91.9h0M647.4 92.6h0M675.2 94.2h0M653.7 94.2h0M649.9 95.0h0M646.9 95.6h0M674.0 95.7h0M661.4 95.9h0M675.0 96.7h0M646.5 96.9h0M674.8 97.3h0M649.3 97.4h0M648.0 97.7h0M662.6 98.0h0M654.1 98.3h0M671.1 98.5h0M656.7 99.1h0M647.7 99.1h0M674.1 99.3h0M659.0 99.7h0M655.0 100.2h0M675.1 100.7h0M665.4 100.7h0M658.3 100.9h0M664.7 101.6h0M663.4 101.9h0M676.1 103.2h0M646.3 103.4h0M654.6 103.6h0M655.1 103.6h0M673.9 103.7h0M667.0 104.0h0M669.1 104.2h0M669.3 104.3h0M674.3 105.0h0M646.2 105.1h0M656.3 105.7h0M656.3 105.9h0M652.5 105.9h0M673.4 106.4h0M671.1 106.6h0M674.9 107.0h0M651.2 107.6h0M666.2 108.0h0M647.4 108.3h0M653.9 108.3h0M663.0 108.4h0M663.8 109.0h0M662.0 109.2h0M675.2 109.6h0M664.0 109.7h0M650.1 110.0h0M666.6 110.0h0M658.9 110.2h0M651.3 110.3h0M652.4 110.6h0M654.3 110.6h0M666.1 110.6h0M647.9 110.8h0M673.6 111.3h0M662.9 111.9h0M662.2 111.9h0M647.0 112.0h0M677.2 112.5h0M683.9 112.7h0M658.2 112.7h0M665.4 113.8h0M675.2 114.0h0M646.2 114.0h0M648.2 114.2h0M674.0 114.3h0M668.3 115.2h0M657.6 115.4h0M672.7 115.4h0M674.7 115.5h0M683.2 115.5h0M647.8 115.7h0M675.1 116.1h0M661.7 116.4h0M651.8 116.7h0M651.7 116.7h0M650.3 116.7h0M650.3 117.5h0M676.4 118.2h0M664.6 119.2h0M667.7 119.9h0M666.2 120.2h0M669.8 121.1h0M661.2 121.4h0M664.8 121.6h0M669.8 121.8h0M672.6 121.9h0M655.4 122.0h0M649.6 122.9h0M666.0 123.0h0M648.4 123.5h0M645.0 123.6h0M677.9 124.6h0M659.5 125.4h0M657.3 125.4h0M666.0 125.5h0M662.3 125.9h0M709.5 126.0h0M669.0 126.4h0M657.0 126.7h0M651.8 126.8h0M647.5 126.8h0M648.9 126.9h0M686.0 127.3h0M675.1 127.4h0M667.8 127.5h0M646.7 128.2h0M661.3 128.2h0M687.2 128.3h0M649.3 128.7h0M662.0 128.9h0M664.4 129.1h0M671.3 129.1h0M671.1 129.2h0M665.4 129.2h0M658.1 129.5h0M662.9 129.7h0M663.5 129.7h0M646.6 129.9h0M675.8 129.9h0M666.9 129.9h0M656.9 130.0h0M671.1 130.3h0M658.2 131.2h0M674.4 131.4h0M659.5 131.5h0M674.7 131.5h0M674.6 132.2h0M655.2 132.4h0M654.2 132.4h0M657.6 132.6h0M640.6 132.7h0M668.2 132.7h0M651.7 133.2h0M665.6 133.3h0M667.4 133.7h0M647.5 134.1h0M655.9 134.1h0M673.8 134.6h0M673.3 134.9h0M640.5 135.4h0M665.9 135.5h0M647.6 135.7h0M684.2 136.2h0M656.5 136.3h0M675.9 136.3h0M692.9 136.5h0M688.4 136.7h0M656.0 136.8h0M666.4 136.8h0M665.7 137.1h0M659.9 137.2h0M649.2 137.7h0M666.4 138.1h0M666.2 138.5h0M644.0 138.8h0M667.0 138.9h0M653.2 139.0h0M656.5 139.3h0M659.4 139.4h0M688.9 139.6h0M655.3 139.9h0M660.8 140.2h0M664.0 140.4h0M644.4 140.4h0M647.5 140.5h0M645.1 140.8h0M676.6 140.8h0M689.9 141.0h0M655.8 141.2h0M644.0 141.2h0M663.1 141.7h0M643.8 141.7h0M675.6 141.7h0M643.6 142.3h0M666.0 142.6h0M675.3 142.8h0M659.9 142.8h0M668.5 143.0h0M649.4 143.4h0M677.9 143.7h0M640.8 143.9h0M646.8 144.5h0M653.1 144.6h0M642.7 144.7h0M657.9 144.9h0M673.8 145.2h0M688.3 145.4h0M651.2 145.4h0M652.6 145.5h0M673.0 145.8h0M650.4 146.1h0M657.5 146.2h0M659.9 146.2h0M658.1 146.3h0M644.5 146.7h0M649.4 146.8h0M677.8 147.7h0M649.0 147.8h0M676.6 148.3h0M648.7 148.4h0M694.3 149.1h0M659.2 149.4h0M669.2 149.6h0M663.4 150.5h0M640.7 150.6h0M682.5 150.8h0M653.8 150.9h0M656.9 151.1h0M676.9 151.5h0M647.3 152.1h0M669.6 152.3h0M656.8 152.4h0M715.0 153.0h0M646.5 153.4h0M644.1 153.4h0M644.1 153.6h0M693.0 153.8h0M654.7 154.1h0M646.9 154.3h0M691.6 154.3h0M654.0 154.3h0M660.7 154.7h0M677.8 154.9h0M667.9 155.2h0M650.1 155.3h0M693.6 155.8h0M670.9 155.8h0M693.1 156.4h0M674.9 156.5h0M655.2 156.6h0M647.6 156.7h0M667.7 156.8h0M666.0 157.0h0M658.0 157.0h0M685.7 157.3h0M667.3 157.6h0M640.1 157.8h0M689.9 157.9h0M666.1 158.2h0M661.6 158.4h0M667.1 159.0h0M659.5 159.5h0M670.2 159.6h0M645.1 159.9h0M667.7 160.0h0M659.6 160.3h0M684.5 160.6h0M655.9 160.8h0M672.9 161.1h0M653.5 161.1h0M647.3 161.3h0M684.1 161.3h0M694.4 161.5h0M641.2 161.6h0M661.5 161.7h0M680.5 162.1h0M669.8 162.3h0M671.2 162.5h0M649.4 162.5h0M687.7 163.3h0M664.6 163.4h0M657.5 163.6h0M699.2 163.8h0M648.1 163.8h0M646.6 163.9h0M695.7 165.1h0M676.1 165.4h0M652.3 165.7h0M643.3 165.7h0M686.4 165.8h0M667.5 165.9h0M646.1 166.0h0M659.6 166.1h0M693.1 166.1h0M651.0 166.3h0M675.4 166.3h0M699.1 166.4h0M647.4 166.4h0M682.5 166.5h0M639.5 166.9h0M657.4 166.9h0M661.9 167.0h0M649.3 167.1h0M672.7 167.4h0M676.1 167.5h0M646.2 167.7h0M697.4 167.8h0M670.3 168.1h0M647.2 168.3h0M668.6 168.4h0M649.0 168.4h0M650.9 168.6h0M693.3 168.6h0M642.2 168.7h0M659.8 169.3h0M646.7 169.6h0M669.8 169.7h0M641.8 170.2h0M671.2 170.3h0M668.8 170.4h0M680.2 170.5h0M665.9 170.7h0M650.8 170.7h0M653.4 170.7h0M694.6 171.2h0M696.4 171.7h0M666.1 172.0h0M656.9 172.0h0M675.1 172.2h0M688.8 172.4h0M649.1 172.4h0M642.1 172.5h0M651.5 172.5h0M658.7 172.9h0M659.9 173.0h0M660.6 173.2h0M662.6 173.5h0M671.1 173.6h0M653.3 173.8h0M648.1 173.8h0M692.3 173.9h0M672.0 174.7h0M647.8 174.8h0M660.4 175.0h0M640.5 175.2h0M676.1 175.6h0M653.6 176.1h0M656.0 176.6h0M675.1 176.6h0M662.0 176.8h0M682.4 176.8h0M676.7 177.2h0M684.5 177.3h0M674.9 177.6h0M669.3 177.9h0M653.9 178.0h0M684.6 179.0h0M647.4 179.1h0M667.3 179.3h0M676.2 179.6h0M698.6 179.8h0M656.4 179.9h0M719.0 180.0h0M660.1 180.1h0M667.1 180.3h0M673.7 180.3h0M674.2 180.4h0M643.6 180.5h0M641.5 180.6h0M665.9 180.7h0M649.3 180.7h0M641.8 180.8h0M687.2 180.9h0M657.2 181.9h0M702.4 182.3h0M659.0 182.3h0M645.3 182.4h0M656.8 182.7h0M702.1 182.9h0M691.2 183.4h0M659.8 183.6h0M657.5 183.6h0M687.1 183.8h0M681.0 184.2h0M665.3 184.6h0M649.8 184.7h0M686.5 184.9h0M665.5 185.2h0M706.2 185.3h0M683.7 185.4h0M664.4 185.4h0M678.9 185.5h0M648.7 185.8h0M668.4 185.8h0M647.5 186.5h0M663.7 186.6h0M697.6 186.8h0M640.0 186.8h0M664.7 186.9h0M660.9 187.1h0M661.9 187.4h0M649.9 187.7h0M678.2 187.8h0M639.1 187.9h0M699.1 187.9h0M678.7 188.2h0M670.0 188.2h0M672.2 188.7h0M676.1 188.7h0M642.9 189.0h0M700.4 189.4h0M666.4 189.8h0M657.2 190.1h0M675.1 190.3h0M661.5 190.7h0M677.9 191.6h0M674.3 192.2h0M655.7 192.9h0M667.6 192.9h0M673.8 193.0h0M698.5 193.4h0M668.7 193.5h0M673.9 193.8h0M707.3 193.9h0M674.6 194.1h0M668.1 194.4h0M653.1 194.5h0M697.9 194.7h0M672.5 195.1h0M650.6 195.5h0M677.3 195.7h0M665.7 195.8h0M672.5 195.9h0M690.7 196.0h0M669.8 196.5h0M674.8 196.8h0M640.6 197.2h0M648.2 197.5h0M678.9 197.7h0M643.1 198.0h0M678.6 198.1h0M674.2 198.1h0M704.1 198.1h0M671.0 198.8h0M668.1 199.1h0M702.4 199.2h0M646.3 199.5h0M639.7 200.2h0M653.2 200.3h0M644.8 200.6h0M648.1 200.9h0M654.2 201.0h0M678.7 201.1h0M653.5 201.4h0M661.5 201.9h0M664.5 202.0h0M695.9 202.6h0M640.6 202.7h0M687.1 202.7h0M669.7 202.7h0M677.7 202.8h0M651.4 203.5h0M653.8 203.5h0M704.8 203.5h0M660.7 203.5h0M660.2 203.5h0M676.4 203.6h0M667.4 203.6h0M641.9 203.7h0M676.5 203.8h0M704.9 204.0h0M674.6 204.1h0M664.3 204.3h0M691.0 204.6h0M659.3 204.6h0M642.7 204.8h0M695.1 204.8h0M648.8 204.9h0M655.9 205.6h0M641.1 205.7h0M681.9 206.2h0M649.9 206.4h0M668.4 206.8h0M658.4 207.0h0M677.7 208.3h0M666.5 208.3h0M642.6 208.4h0M657.3 208.5h0M663.6 208.6h0M675.5 208.8h0M673.5 208.8h0M673.6 209.0h0M677.6 209.0h0M666.5 209.2h0M683.2 209.2h0M656.2 209.2h0M656.5 209.4h0M660.5 209.7h0M665.9 209.9h0M668.7 210.2h0M670.1 210.2h0M648.7 210.6h0M722.5 211.0h0M650.1 211.1h0M655.8 211.2h0M702.6 212.0h0M676.2 212.2h0M675.7 212.2h0M639.6 212.6h0M681.3 212.8h0M667.6 213.0h0M663.3 213.0h0M640.9 213.0h0M685.6 213.1h0M673.9 213.1h0M672.8 213.4h0M678.2 213.6h0M669.7 213.9h0M707.6 213.9h0M668.3 214.1h0M649.3 214.1h0M654.3 215.1h0M665.8 215.1h0M667.0 215.4h0M642.6 215.5h0M674.5 215.6h0M648.0 215.6h0M693.5 215.9h0M658.2 216.1h0M659.9 216.2h0M638.5 216.3h0M669.0 216.8h0M674.4 216.9h0M683.4 217.1h0M678.5 217.1h0M669.0 217.3h0M650.0 217.4h0M647.0 217.5h0M642.8 217.6h0M705.0 218.1h0M697.1 218.1h0M670.5 218.4h0M655.7 218.5h0M642.0 218.5h0M670.6 218.7h0M658.8 218.7h0M706.7 218.7h0M689.2 218.7h0M654.4 218.9h0M663.5 219.0h0M705.6 219.1h0M650.7 219.2h0M657.0 219.8h0M653.9 220.2h0M662.2 220.3h0M659.3 220.4h0M639.2 220.6h0M669.7 220.6h0M665.3 220.6h0M703.1 220.6h0M673.1 220.6h0M660.7 220.7h0M644.4 220.8h0M649.5 220.9h0M650.8 221.2h0M664.1 221.5h0M654.0 221.6h0M690.5 221.7h0M696.4 221.9h0M670.2 222.1h0M671.4 222.2h0M650.6 222.5h0M653.8 222.5h0M678.8 222.8h0M662.4 222.9h0M663.4 223.0h0M664.5 223.1h0M707.4 223.3h0M673.3 223.3h0M686.8 223.3h0M649.4 223.7h0M691.8 224.1h0M640.4 224.2h0M674.8 224.2h0M674.5 224.5h0M644.0 224.6h0M665.8 224.6h0M663.7 224.7h0M650.0 225.2h0M656.0 225.2h0M666.3 225.7h0M669.4 225.7h0M702.5 225.8h0M646.2 225.9h0M651.4 225.9h0M667.4 226.0h0M645.6 226.0h0M697.4 226.1h0M671.1 226.2h0M654.7 226.2h0M653.4 226.2h0M639.2 226.3h0M705.0 226.5h0M663.0 226.5h0M647.5 226.6h0M650.6 226.6h0M671.3 226.9h0M643.1 227.1h0M653.1 227.4h0M673.8 227.5h0M692.6 227.5h0M661.9 227.6h0M674.6 227.6h0M706.2 227.6h0M673.3 227.7h0M649.8 228.2h0M683.0 228.4h0M657.9 228.9h0M707.2 229.1h0M671.9 229.2h0M699.4 229.2h0M662.9 229.4h0M647.4 229.7h0M645.7 229.8h0M689.3 229.8h0M668.2 230.4h0M708.1 230.6h0M648.0 230.7h0M675.3 231.2h0M668.7 231.5h0M643.7 231.6h0M655.7 231.8h0M686.3 231.9h0M652.3 232.1h0M675.7 232.2h0M666.4 232.3h0M652.3 232.3h0M665.9 232.4h0M671.5 232.5h0M643.8 232.7h0M689.0 233.0h0M678.4 233.3h0M673.1 233.3h0M655.5 233.4h0M669.3 233.4h0M658.0 233.4h0M718.1 233.4h0M712.2 233.6h0M681.0 234.0h0M648.1 234.4h0M639.3 234.5h0M666.3 234.9h0M646.9 235.2h0M655.7 235.3h0M667.4 235.4h0M693.8 235.7h0M706.2 235.8h0M646.0 236.0h0M667.0 236.4h0M671.9 236.6h0M703.7 236.8h0M700.3 236.9h0M665.4 236.9h0M699.1 236.9h0M670.1 237.1h0M650.9 237.2h0M680.9 237.3h0M650.4 237.5h0M714.6 237.7h0M640.5 238.0h0M658.0 238.1h0M653.8 238.2h0M650.1 238.3h0M656.1 238.4h0M668.5 238.4h0M670.2 238.5h0M658.3 239.1h0M670.8 239.4h0M659.1 239.7h0M677.9 239.8h0M660.3 239.8h0M683.7 239.9h0M708.6 240.7h0M684.4 241.0h0M697.5 241.1h0M662.2 241.1h0M643.6 241.1h0M653.9 241.5h0M688.4 241.7h0M666.4 241.9h0M645.7 241.9h0M669.6 242.1h0M674.3 242.6h0M645.1 242.7h0M697.2 242.7h0M687.1 242.7h0M666.6 242.8h0M647.3 243.2h0M676.4 243.4h0M685.7 243.8h0M656.1 243.9h0M672.3 244.4h0M678.3 244.6h0M639.3 244.7h0M697.9 244.9h0M710.1 245.1h0M702.9 245.1h0M689.3 245.2h0M691.7 245.4h0M639.9 245.5h0M669.0 245.7h0M670.9 246.0h0M651.4 246.1h0M689.7 246.2h0M716.4 246.4h0M642.6 247.2h0M645.8 247.3h0M646.1 247.4h0M645.9 247.6h0M646.5 247.7h0M648.8 247.9h0M640.3 248.3h0M690.9 248.3h0M669.9 248.3h0M659.7 248.5h0M648.7 248.6h0M654.4 248.9h0M715.0 249.0h0M665.4 249.3h0M647.6 249.3h0M669.1 249.5h0M710.7 249.7h0M657.7 250.0h0M645.4 250.2h0M716.3 250.2h0M649.7 250.5h0M662.0 250.8h0M650.6 251.0h0M646.2 251.2h0M645.7 251.3h0M698.2 251.5h0M667.5 251.6h0M649.1 251.6h0M653.1 251.7h0M701.1 251.8h0M653.1 252.0h0M698.2 252.4h0M644.6 252.9h0M670.1 253.2h0M712.2 253.3h0M673.3 253.3h0M707.0 253.3h0M668.5 253.3h0M671.0 253.4h0M650.7 253.4h0M642.8 253.6h0M640.5 253.7h0M699.7 253.9h0M652.6 254.0h0M654.8 254.0h0M667.6 254.1h0M705.1 254.1h0M665.0 254.2h0M702.2 254.5h0M656.8 254.6h0M653.8 255.1h0M658.3 255.2h0M641.9 255.3h0M698.9 255.4h0M716.5 255.5h0M656.0 255.6h0M711.4 255.7h0M652.5 255.7h0M718.4 255.9h0M717.4 255.9h0M640.7 256.3h0M692.0 256.4h0M652.8 256.7h0M710.7 256.8h0M694.8 257.0h0M668.7 257.0h0M648.6 257.1h0M643.6 257.3h0M668.9 257.5h0M698.0 257.5h0M682.2 257.7h0M706.7 258.0h0M653.9 258.0h0M686.6 258.1h0M650.0 258.2h0M665.0 258.3h0M655.0 258.6h0M717.1 258.7h0M696.8 259.0h0M662.1 259.2h0M661.4 259.4h0M656.1 259.5h0M659.6 259.7h0M657.8 260.0h0M680.8 260.1h0M685.5 260.1h0M668.8 260.1h0M719.3 260.3h0M658.6 260.5h0M660.7 260.5h0M711.2 260.5h0M659.2 260.7h0M649.9 260.7h0M695.5 260.8h0M673.6 260.8h0M666.3 261.6h0M709.8 261.6h0M662.5 261.8h0M646.1 261.8h0M685.1 262.5h0M651.2 262.7h0M681.1 263.3h0M705.2 263.5h0M652.6 263.5h0M683.2 263.6h0M651.7 263.6h0M662.8 263.9h0M645.1 263.9h0M642.4 264.0h0M647.4 264.1h0M674.8 264.1h0M649.7 264.2h0M666.9 264.4h0M719.2 264.5h0M653.3 264.5h0M678.0 264.6h0M669.4 264.9h0M699.2 264.9h0M661.5 265.1h0M669.7 265.4h0M653.7 265.4h0M649.2 265.5h0M669.8 265.7h0M649.0 265.9h0M666.8 266.1h0M668.2 266.5h0M675.5 266.8h0M716.9 267.1h0M654.6 267.1h0M671.8 267.1h0M671.1 267.2h0M678.9 267.3h0M666.1 267.3h0M678.2 267.4h0M709.5 267.9h0M715.9 267.9h0M656.5 268.0h0M698.9 268.4h0M711.9 268.8h0M669.2 269.0h0M653.2 269.1h0M640.7 269.1h0M663.5 269.3h0M705.0 269.5h0M655.6 269.7h0M683.2 269.7h0M653.4 269.7h0M645.8 270.0h0M686.5 270.0h0M662.9 270.1h0M678.2 270.2h0M705.6 270.3h0M675.9 270.4h0M653.3 270.6h0M691.3 270.6h0M675.0 270.7h0M641.0 270.8h0M666.7 270.9h0M656.7 270.9h0M689.0 271.0h0M660.8 271.1h0M717.2 271.1h0M688.3 271.3h0M668.8 271.3h0M698.5 271.3h0M670.8 271.4h0M668.4 271.8h0M667.4 271.9h0M691.0 272.1h0M677.9 272.1h0M666.6 272.5h0M672.0 272.9h0M652.0 273.1h0M652.2 273.2h0M672.6 273.4h0M675.5 273.6h0M680.7 273.7h0M664.1 273.8h0M686.0 273.8h0M652.4 273.8h0M646.8 274.4h0M641.5 274.4h0M650.8 274.4h0M712.7 274.5h0M678.0 274.7h0M688.2 274.9h0M669.2 275.0h0M701.4 275.1h0M673.1 275.1h0M714.9 275.2h0M712.7 275.9h0M661.4 275.9h0M643.4 276.0h0M667.2 276.1h0M670.5 276.2h0M654.1 276.2h0M695.4 277.0h0M657.7 277.1h0M653.4 277.3h0M650.2 277.3h0M662.6 277.4h0M666.8 277.6h0M642.5 277.8h0M649.7 277.9h0M649.3 278.0h0M677.9 278.1h0M642.5 278.3h0M671.8 278.6h0M677.1 278.7h0M662.3 278.8h0M666.5 279.0h0M714.6 279.1h0M707.2 279.4h0M667.7 279.5h0M715.8 279.6h0M640.2 279.8h0M707.9 279.8h0M671.0 279.9h0M699.9 280.1h0M643.6 280.1h0M654.0 280.4h0M699.3 280.6h0M674.6 280.6h0M714.2 280.9h0M655.2 280.9h0M669.7 281.1h0M660.8 281.1h0M677.4 281.6h0M668.2 281.6h0M652.8 281.7h0M693.1 281.7h0M719.9 281.7h0M717.0 282.3h0M650.2 282.7h0M649.9 282.7h0M713.9 283.2h0M677.3 283.2h0M651.8 283.3h0M714.7 283.4h0M644.4 283.4h0M686.8 283.5h0M689.5 283.6h0M651.0 284.0h0M677.2 284.2h0M656.6 284.2h0M660.4 284.6h0M702.2 285.0h0M652.6 285.2h0M659.8 285.3h0M656.0 285.5h0M660.1 285.7h0M656.9 285.8h0M709.2 286.2h0M653.3 286.7h0M646.1 286.7h0M643.3 287.0h0M670.2 287.1h0M676.1 287.3h0M660.5 287.9h0M702.2 288.1h0M672.1 288.5h0M711.1 288.6h0M670.4 288.7h0M672.4 288.7h0M720.4 288.7h0M643.1 288.7h0M668.7 288.9h0M665.2 288.9h0M643.8 288.9h0M660.9 289.0h0M647.2 289.1h0M671.0 289.3h0M642.2 289.7h0M647.9 289.8h0M686.1 289.8h0M711.4 289.9h0M674.1 289.9h0M643.4 290.0h0M717.4 290.1h0M659.4 290.2h0M668.3 290.2h0M655.7 290.3h0M684.7 290.4h0M652.6 290.6h0M667.5 290.8h0M697.6 290.9h0M645.4 290.9h0M655.9 291.9h0M662.3 292.1h0M652.2 292.5h0M668.1 292.6h0M640.7 292.8h0M652.7 292.8h0M676.9 292.9h0M692.0 293.0h0M648.5 293.1h0M644.2 293.6h0M643.7 294.0h0M704.6 294.6h0M675.2 294.7h0M674.5 295.4h0M660.7 295.8h0M652.5 295.8h0M708.3 296.0h0M647.1 296.0h0M718.0 296.5h0M672.3 296.7h0M674.0 296.7h0M649.5 297.0h0M672.5 297.2h0M677.1 297.4h0M649.3 297.4h0M646.9 297.9h0M694.1 298.1h0M713.8 298.2h0M668.8 298.3h0M656.7 298.6h0M642.7 298.7h0M661.7 298.8h0M710.4 298.8h0M675.2 298.9h0M655.0 299.4h0M652.1 299.5h0M699.0 299.5h0M686.2 299.6h0M652.0 299.7h0M666.5 299.8h0M646.4 299.8h0M718.3 300.1h0M646.1 300.2h0M716.2 300.3h0M651.9 300.4h0M644.2 300.5h0M697.5 300.7h0M672.9 301.6h0M707.0 301.6h0M665.4 301.7h0M648.8 301.8h0M664.9 302.0h0M713.8 302.1h0M676.5 302.1h0M653.4 302.2h0M667.9 302.3h0M668.7 302.4h0M680.6 302.7h0M687.3 302.7h0M645.0 302.9h0M662.6 303.1h0M669.0 303.4h0M720.8 303.7h0M666.3 303.8h0M684.2 303.8h0M654.2 303.9h0M664.6 304.0h0M642.8 304.2h0M644.9 304.3h0M672.2 304.4h0M656.5 304.4h0M657.5 304.4h0M671.3 304.6h0M649.1 304.6h0M645.2 304.8h0M672.1 304.9h0M673.0 305.1h0M706.3 305.4h0M655.4 305.4h0M664.0 305.5h0M668.3 305.5h0M687.3 305.6h0M715.0 306.0h0M697.7 306.2h0M694.1 306.6h0M690.9 306.7h0M691.1 306.8h0M715.4 306.9h0M666.3 306.9h0M714.3 307.0h0M660.3 307.2h0M672.8 307.2h0M667.0 307.5h0M652.0 307.6h0M652.2 307.7h0M641.7 307.8h0M652.1 307.9h0M643.6 308.0h0M654.3 308.6h0M702.0 308.8h0M690.5 309.2h0M703.5 309.5h0M658.0 309.6h0M718.9 310.0h0M661.9 310.0h0M641.7 310.1h0M645.3 310.5h0M714.3 310.7h0M643.1 310.9h0M652.8 311.0h0M682.8 311.4h0M658.2 311.4h0M676.3 311.8h0M693.4 312.3h0M648.0 312.3h0M650.5 312.5h0M658.3 312.5h0M674.5 312.6h0M707.3 313.2h0M652.3 313.3h0M654.0 313.4h0M645.3 313.8h0M718.3 314.0h0M651.1 314.3h0M675.8 314.3h0M707.1 314.6h0M654.5 314.6h0M672.4 314.6h0M711.6 314.6h0M658.6 314.7h0M674.6 314.9h0M675.2 315.2h0M683.6 315.4h0M717.8 315.4h0M653.7 315.7h0M643.8 315.7h0M665.7 315.8h0M653.6 316.0h0M642.5 316.1h0M710.4 316.2h0M648.5 316.3h0M662.5 317.0h0M705.9 317.1h0M664.6 317.5h0M669.7 317.8h0M680.7 317.9h0M706.2 318.2h0M693.4 318.2h0M668.0 318.3h0M655.9 318.3h0M704.7 318.9h0M655.7 319.2h0M661.9 320.2h0M695.6 320.2h0M642.3 320.2h0M668.3 320.4h0M677.6 320.4h0M642.7 320.8h0M674.9 321.4h0M648.3 321.6h0M651.5 321.8h0M696.6 322.0h0M677.1 322.2h0M672.0 322.3h0M721.8 322.3h0M675.9 322.7h0M659.1 322.9h0M651.7 322.9h0M708.5 323.0h0M676.2 323.0h0M720.1 323.1h0M690.1 323.2h0M721.2 323.4h0M670.1 323.4h0M719.5 323.5h0M667.5 323.6h0M661.4 323.6h0M700.6 323.8h0M672.5 323.9h0M644.0 323.9h0M722.3 324.2h0M661.6 324.3h0M675.0 324.3h0M666.8 324.6h0M678.2 324.6h0M686.8 324.8h0M693.3 324.9h0M654.6 325.3h0M646.1 325.5h0M699.0 326.6h0M653.5 326.6h0M696.0 326.8h0M674.7 326.9h0M669.8 327.0h0M712.4 327.0h0M645.4 327.0h0M674.5 327.2h0M724.4 327.4h0M649.6 327.8h0M683.6 328.1h0M654.9 328.8h0M665.1 328.8h0M659.6 328.9h0M649.1 329.1h0M650.4 329.2h0M691.8 329.2h0M689.8 329.2h0M643.0 329.5h0M709.3 329.8h0M657.9 329.9h0M693.1 330.0h0M680.4 330.4h0M661.6 330.5h0M724.0 330.5h0M643.4 331.2h0M665.7 331.2h0M661.4 331.5h0M676.3 331.8h0M681.3 332.1h0M722.6 332.3h0M676.4 332.4h0M675.6 332.6h0M677.9 332.6h0M653.2 332.8h0M703.5 332.8h0M664.2 333.0h0M678.9 333.3h0M648.7 333.3h0M649.3 333.5h0M646.4 333.7h0M650.9 333.9h0M647.8 333.9h0M722.7 334.0h0M673.2 334.4h0M661.0 334.6h0M669.3 334.7h0M653.1 334.8h0M707.3 334.9h0M711.8 335.0h0M666.4 335.0h0M697.6 335.3h0M698.8 335.4h0M709.0 335.6h0M703.3 335.8h0M658.8 335.9h0M691.0 336.1h0M692.9 336.3h0M648.0 336.5h0M647.0 336.5h0M718.7 336.8h0M697.5 336.9h0M711.1 337.0h0M670.4 337.3h0M645.0 337.5h0M668.3 337.6h0M663.1 337.7h0M653.3 338.4h0M717.3 338.6h0M677.2 338.7h0M712.1 338.8h0M680.6 339.0h0M668.4 339.2h0M726.0 339.2h0M677.2 339.5h0M707.5 339.5h0M658.5 339.6h0M650.5 339.6h0M648.2 339.8h0M698.5 339.8h0M725.2 340.0h0M654.8 340.0h0M675.5 340.5h0M667.7 340.7h0M707.3 340.8h0M649.5 340.9h0M701.9 341.0h0M658.8 341.3h0M692.4 341.6h0M672.5 341.9h0M676.7 341.9h0M645.3 341.9h0M677.9 342.0h0M647.5 342.1h0M658.9 342.5h0M668.5 342.5h0M654.3 343.1h0M667.6 343.8h0M723.5 343.8h0M646.3 343.9h0M705.0 343.9h0M712.6 344.0h0M726.8 344.2h0M674.9 344.5h0M677.8 344.5h0M651.2 344.6h0M680.5 345.2h0M691.3 345.4h0M713.8 345.7h0M668.6 345.8h0M658.0 345.9h0M699.0 346.0h0M666.5 346.3h0M672.1 346.6h0M666.3 346.8h0M713.7 346.9h0M644.9 347.0h0M723.1 347.0h0M727.0 347.3h0M671.2 347.6h0M686.7 347.6h0M664.6 347.8h0M644.5 347.8h0M645.7 348.2h0M663.5 348.2h0M725.1 348.3h0M662.9 348.3h0M654.8 348.4h0M714.4 348.5h0M721.8 348.6h0M646.9 348.7h0M656.0 349.5h0M686.1 349.9h0M663.1 350.2h0M659.5 350.5h0M668.5 350.6h0M710.8 351.0h0M686.9 351.1h0M662.5 351.5h0M644.0 351.6h0M666.2 351.9h0M651.9 351.9h0M661.1 352.4h0M676.6 352.4h0M656.7 352.4h0M683.9 352.6h0M665.4 352.7h0M676.2 352.8h0M681.0 352.9h0M727.4 353.5h0M713.7 353.6h0M676.1 353.7h0M673.9 353.9h0M659.6 354.1h0M652.9 354.5h0M687.4 355.2h0M645.3 355.3h0M690.6 355.4h0M655.1 355.4h0M693.4 355.8h0M664.2 355.8h0M657.3 355.8h0M710.6 355.9h0M723.2 356.4h0M717.9 356.4h0M652.7 356.5h0M676.9 356.9h0M649.1 357.1h0M657.4 357.2h0M711.2 357.4h0M709.2 357.4h0M644.3 357.5h0M712.8 357.6h0M653.1 358.0h0M655.8 358.2h0M671.3 358.2h0M668.3 358.3h0M648.9 358.4h0M671.4 358.9h0M705.1 358.9h0M675.7 359.2h0M713.5 359.5h0M686.4 359.7h0M649.7 359.9h0M700.2 359.9h0M691.4 359.9h0M688.2 360.1h0M645.8 360.2h0M716.1 360.4h0M659.2 360.5h0M650.2 360.5h0M645.8 360.9h0M655.5 360.9h0M700.6 361.1h0M719.0 361.1h0M683.8 361.3h0M657.3 361.4h0M654.8 361.6h0M684.4 361.6h0M665.7 362.3h0M672.2 362.4h0M729.2 362.5h0M652.3 362.8h0M712.8 363.3h0M674.4 363.4h0M693.3 363.7h0M729.1 363.8h0M725.6 363.8h0M660.2 363.9h0M661.1 364.1h0M651.7 364.3h0M671.0 364.4h0M698.5 364.6h0M657.1 364.6h0M696.7 364.8h0M677.9 365.0h0M660.6 365.1h0M678.0 365.2h0M683.1 365.3h0M668.8 366.1h0M656.6 366.4h0M670.8 366.4h0M676.2 366.5h0M667.0 366.6h0M651.9 366.7h0M719.3 366.7h0M675.5 366.8h0M675.3 367.0h0M678.9 367.3h0M710.7 367.4h0M663.8 367.7h0M715.4 367.8h0M664.8 368.0h0M654.1 368.1h0M706.6 368.4h0M657.9 368.4h0M673.9 368.7h0M691.9 368.8h0M667.0 369.7h0M665.0 369.7h0M681.1 369.8h0M667.7 370.0h0M681.2 370.2h0M673.8 370.5h0M649.9 370.6h0M695.6 370.7h0M661.7 370.8h0M664.6 370.8h0M682.2 370.9h0M655.5 371.0h0M666.9 371.0h0M667.9 371.3h0M706.6 371.4h0M714.6 371.4h0M683.7 371.5h0M658.7 371.7h0M675.0 371.9h0M655.5 371.9h0M674.7 372.0h0M649.9 372.1h0M665.7 372.1h0M692.5 372.2h0M711.0 372.3h0M732.0 372.4h0M728.7 373.0h0M654.5 373.0h0M688.9 373.1h0M700.2 373.5h0M647.1 373.6h0M658.0 373.6h0M705.3 373.8h0M666.7 374.0h0M659.8 374.3h0M660.2 374.3h0M658.7 374.4h0M656.3 374.6h0M648.0 374.9h0M661.8 375.1h0M669.2 375.4h0M670.0 375.7h0M646.3 375.9h0M710.9 375.9h0M652.1 376.1h0M667.5 376.6h0M657.5 376.6h0M648.2 376.7h0M724.9 376.8h0M655.1 376.9h0M702.7 376.9h0M656.3 377.0h0M650.9 377.0h0M695.3 377.2h0M674.8 377.3h0M731.2 377.4h0M644.8 377.6h0M688.5 377.8h0M644.1 378.0h0M704.0 378.2h0M646.1 378.2h0M690.8 378.7h0M729.0 378.7h0M707.4 378.8h0M717.2 379.2h0M686.8 379.4h0M655.3 379.7h0M731.9 379.8h0M684.0 379.8h0M693.7 379.9h0M710.1 379.9h0M710.6 379.9h0M654.4 380.3h0M683.2 381.1h0M663.0 381.6h0M675.5 381.7h0M661.9 381.8h0M702.9 382.1h0M666.0 382.1h0M670.5 382.3h0M671.2 382.9h0M713.0 383.2h0M732.2 383.3h0M701.0 383.4h0M666.7 383.5h0M724.9 383.5h0M721.7 383.9h0M685.7 383.9h0M711.6 384.8h0M657.4 385.5h0M661.3 385.5h0M733.7 385.8h0M673.3 385.9h0M733.9 385.9h0M674.6 386.0h0M669.4 386.0h0M649.5 386.3h0M667.3 386.8h0M726.7 387.1h0M647.1 387.1h0M673.1 387.1h0M656.4 387.3h0M692.3 387.3h0M722.7 387.9h0M650.0 388.4h0M657.0 388.7h0M650.4 389.3h0M676.8 389.4h0M702.3 389.4h0M711.8 389.4h0M674.5 389.5h0M677.9 389.6h0M670.0 389.6h0M674.3 389.9h0M663.7 390.0h0M665.7 390.0h0M647.5 390.4h0M733.9 390.5h0M656.4 390.6h0M724.3 390.6h0M664.6 391.0h0M672.2 391.1h0M699.6 391.3h0M649.2 391.4h0M645.8 391.8h0M713.4 391.8h0M699.1 391.9h0M645.6 392.2h0M650.7 392.3h0M729.6 392.5h0M693.2 392.7h0M670.6 392.9h0M648.8 393.2h0M680.9 393.4h0M675.2 393.5h0M660.2 393.7h0M711.5 393.7h0M669.3 393.8h0M648.9 393.8h0M706.1 394.0h0M671.0 394.2h0M727.9 394.6h0M698.6 394.6h0M653.7 394.8h0M667.2 395.8h0M666.0 396.3h0M647.8 396.8h0M657.9 396.9h0M666.4 397.5h0M667.6 397.6h0M660.6 397.6h0M652.3 397.8h0M673.8 397.9h0M678.8 398.0h0M703.4 398.0h0M677.6 398.4h0M674.0 398.4h0M678.6 398.5h0M729.4 398.8h0M649.9 399.3h0M667.3 399.6h0M661.4 399.7h0M670.1 399.7h0M667.7 399.9h0M663.6 400.0h0M678.0 400.0h0M728.2 400.1h0M671.6 400.2h0M666.0 400.4h0M706.8 400.6h0M683.9 400.7h0M667.8 400.9h0M669.7 401.2h0M723.2 401.7h0M665.1 402.1h0M697.4 402.3h0M654.4 402.3h0M651.3 402.3h0M672.0 403.0h0M662.8 403.2h0M658.9 403.7h0M714.1 403.8h0M685.6 403.8h0M664.2 403.9h0M685.1 404.0h0M678.4 404.1h0M656.0 404.4h0M673.4 404.5h0M667.3 404.9h0M735.1 405.0h0M652.0 405.2h0M657.0 405.3h0M716.7 405.6h0M692.8 405.7h0M677.2 405.8h0M648.5 405.9h0M716.2 405.9h0M677.1 406.2h0M694.0 406.2h0M711.8 406.5h0M693.1 406.6h0M650.3 407.1h0M649.7 407.9h0M730.4 407.9h0M715.1 407.9h0M712.0 408.0h0M650.8 408.0h0M651.8 408.4h0M671.9 408.5h0M658.8 409.1h0M671.8 409.3h0M708.0 409.4h0M664.4 409.4h0M690.3 409.7h0M685.4 410.0h0M661.0 410.4h0M709.9 410.7h0M659.4 410.8h0M733.5 410.8h0M731.1 411.1h0M664.9 411.1h0M678.1 411.2h0M722.9 411.5h0M654.9 411.7h0M653.5 411.7h0M715.3 411.7h0M670.9 411.9h0M650.1 412.0h0M664.3 412.1h0M668.7 412.2h0M659.7 412.7h0M657.0 412.8h0M709.3 412.9h0M731.9 413.1h0M663.0 413.4h0M734.7 413.7h0M675.7 413.7h0M646.9 414.0h0M652.6 414.3h0M654.0 414.4h0M727.5 414.4h0M647.4 414.5h0M715.0 415.0h0M655.6 415.2h0M674.2 415.2h0M732.0 415.5h0M732.1 415.7h0M689.3 416.2h0M721.9 416.7h0M713.3 416.8h0M646.7 416.8h0M689.3 416.8h0M687.3 416.9h0M677.3 416.9h0M665.9 417.4h0M707.1 417.6h0M677.6 418.1h0M670.8 418.1h0M670.5 418.2h0M671.2 418.3h0M695.7 418.3h0M662.1 418.4h0M659.0 418.5h0M713.1 419.0h0M677.1 419.4h0M661.8 419.5h0M648.0 419.6h0M676.2 420.1h0M662.8 420.1h0M729.7 420.2h0M656.6 420.3h0M729.3 420.3h0M698.2 420.5h0M655.4 420.5h0M705.9 420.6h0M674.4 421.0h0M662.5 421.1h0M670.1 421.1h0M652.6 421.1h0M663.8 421.7h0M677.7 422.2h0M677.4 422.3h0M702.7 422.4h0M649.4 422.5h0M681.9 422.7h0M672.3 423.1h0M656.9 423.2h0M719.8 423.3h0M653.6 423.3h0M735.4 423.3h0M655.5 423.6h0M696.9 423.7h0M665.0 423.8h0M655.0 423.8h0M698.4 424.1h0M655.8 424.3h0M682.7 424.4h0M682.3 424.4h0M719.2 424.6h0M658.0 424.7h0M704.2 424.8h0M663.4 425.0h0M729.5 425.0h0M649.2 425.2h0M716.6 425.3h0M676.4 425.5h0M677.4 425.7h0M654.5 425.8h0M656.7 425.8h0M647.3 426.2h0M667.6 426.9h0M712.4 427.0h0M651.3 427.1h0M658.6 427.7h0M691.6 427.8h0M730.0 427.8h0M712.9 427.9h0M652.0 427.9h0M729.4 428.0h0M651.7 428.2h0M655.2 428.4h0M649.4 428.4h0M655.5 428.5h0M683.7 428.5h0M714.1 428.7h0M693.3 428.7h0M698.9 428.7h0M647.3 428.8h0M664.5 428.8h0M735.6 429.0h0M673.6 429.1h0M711.9 429.1h0M675.3 429.4h0M672.8 429.4h0M668.1 429.4h0M694.7 429.4h0M662.7 429.5h0M693.4 429.6h0M718.8 429.8h0M658.8 430.1h0M680.3 430.4h0M692.8 430.5h0M658.1 430.7h0M732.2 430.7h0M721.4 430.8h0M673.0 431.1h0M691.8 431.3h0M722.2 431.5h0M696.9 431.6h0M701.9 432.1h0M657.4 432.2h0M651.2 432.3h0M699.2 432.3h0M693.9 432.8h0M736.1 432.8h0M736.2 432.8h0M739.0 432.9h0M676.6 433.1h0M685.3 433.3h0M655.7 433.4h0M729.6 433.7h0M694.2 433.9h0M655.3 434.1h0M657.1 434.3h0M651.5 434.3h0M651.9 434.5h0M651.5 434.7h0M658.8 435.0h0M655.1 435.0h0M729.2 435.1h0M684.8 435.2h0M735.3 435.2h0M695.6 435.5h0M680.1 435.5h0M657.7 435.9h0M715.8 436.8h0M693.2 437.1h0M735.8 437.3h0M674.1 437.5h0M679.8 437.7h0M717.5 437.7h0M684.2 437.8h0M694.5 438.0h0M698.9 438.0h0M675.3 438.2h0M668.6 438.3h0M701.2 438.3h0M661.8 439.1h0M702.0 439.9h0M713.7 440.2h0M658.7 440.5h0M716.5 441.2h0M659.6 441.9h0M685.0 442.1h0M647.7 442.1h0M735.7 442.6h0M722.1 442.6h0M650.2 442.6h0M654.6 442.8h0M665.5 443.1h0M658.5 443.1h0M698.5 443.2h0M668.7 443.7h0M716.6 443.8h0M673.3 444.0h0M662.0 444.2h0M660.7 444.3h0M650.2 444.4h0M736.6 444.6h0M704.4 445.0h0M651.8 445.2h0M694.2 445.5h0M738.1 445.6h0M709.4 445.6h0M656.1 445.9h0M723.3 446.0h0M735.2 446.0h0M678.6 446.2h0M660.1 446.3h0M700.1 446.6h0M663.4 446.9h0M731.6 447.0h0M690.2 447.0h0M670.2 447.1h0M678.0 447.1h0M662.6 447.2h0M729.8 447.3h0M671.3 447.4h0M707.1 447.5h0M697.1 447.8h0M658.4 447.8h0M724.2 448.0h0M683.8 448.1h0M673.7 448.1h0M659.6 448.2h0M708.7 448.9h0M658.4 449.1h0M668.3 449.3h0M708.2 449.8h0M673.8 449.9h0M714.5 449.9h0M664.6 450.0h0M736.7 450.0h0M673.9 450.1h0M665.2 450.3h0M649.2 450.3h0M685.5 450.3h0M684.4 450.4h0M681.4 450.4h0M735.3 450.5h0M668.3 450.5h0M722.0 450.7h0M708.1 451.3h0M674.1 451.3h0M653.2 451.4h0M734.3 451.6h0M680.9 451.7h0M687.5 451.7h0M659.2 451.8h0M705.9 451.8h0M676.0 452.0h0M715.4 452.1h0M648.1 452.9h0M713.9 453.1h0M650.0 453.2h0M715.5 453.3h0M668.8 453.4h0M702.7 453.6h0M693.5 453.6h0M658.5 453.9h0M739.1 454.4h0M656.5 454.5h0M651.5 454.6h0M703.4 455.0h0M657.6 455.1h0M668.3 455.3h0M704.3 455.4h0M710.5 455.8h0M691.3 456.3h0M727.8 456.5h0M653.5 456.6h0M736.4 456.7h0M672.1 456.8h0M706.8 456.9h0M731.3 457.0h0M651.5 457.0h0M724.3 457.1h0M714.0 457.2h0M709.6 457.3h0M729.8 457.3h0M648.6 457.5h0M687.7 457.7h0M681.5 457.9h0M688.1 458.2h0M689.2 458.6h0M735.9 458.7h0M736.7 458.7h0M686.3 458.7h0M693.0 458.7h0M735.2 458.8h0M736.7 459.2h0M673.6 459.3h0M649.9 459.4h0M729.0 459.5h0M703.0 459.5h0M659.4 459.6h0M695.1 459.8h0M659.7 460.1h0M725.7 460.4h0M721.6 460.6h0M686.0 460.7h0M676.6 460.9h0M679.2 460.9h0M651.7 461.0h0M660.5 461.0h0M684.2 461.3h0M668.9 461.5h0M686.2 461.6h0M697.9 461.7h0M648.7 461.8h0M712.0 461.9h0M723.7 461.9h0M672.1 462.6h0M679.3 463.1h0M720.0 463.5h0M728.1 463.7h0M660.4 463.8h0M697.8 463.9h0M659.6 464.0h0M677.2 464.2h0M736.1 464.3h0M726.1 464.4h0M677.2 464.5h0M715.8 464.5h0M683.0 464.6h0M713.9 464.7h0M702.5 465.0h0M705.3 465.4h0M649.5 465.4h0M684.0 465.6h0M668.9 466.0h0M732.5 466.1h0M659.2 466.3h0M700.4 466.4h0M710.5 466.5h0M694.2 466.8h0M696.3 467.0h0M733.7 467.1h0M666.6 467.2h0M652.9 467.2h0M660.9 467.7h0M723.5 468.2h0M713.9 468.4h0M648.7 468.8h0M716.2 469.2h0M668.6 469.4h0M685.0 469.7h0M702.5 470.1h0M711.3 470.1h0M711.9 470.2h0M679.0 470.5h0M661.6 470.8h0M671.8 471.0h0M662.9 471.0h0M736.0 471.2h0M672.9 471.2h0M677.9 471.7h0M665.9 471.8h0M668.2 471.8h0M693.5 472.3h0M672.2 472.5h0M717.3 472.7h0M682.2 472.8h0M736.1 473.8h0M702.7 474.1h0M678.1 474.4h0M682.4 475.1h0M650.6 475.1h0M687.4 475.6h0M693.7 475.7h0M650.3 475.8h0M654.2 476.0h0M707.3 476.0h0M669.8 476.3h0M732.6 476.4h0M689.4 476.5h0M733.3 477.0h0M684.6 478.5h0M695.9 478.7h0M660.4 478.9h0M729.6 479.1h0M726.0 479.2h0M654.0 479.3h0M683.6 479.4h0M674.9 479.8h0M735.4 480.0h0M684.2 480.2h0M663.3 480.9h0M660.2 481.1h0M679.3 481.2h0M725.7 481.5h0M670.7 481.6h0M671.1 481.7h0M702.6 481.7h0M653.9 482.2h0M672.1 482.3h0M693.5 482.3h0M650.6 482.3h0M659.9 482.7h0M702.0 483.0h0M728.6 483.1h0M737.5 483.1h0M710.2 483.4h0M664.8 483.5h0M723.8 483.7h0M656.7 483.8h0M656.5 483.8h0M696.3 484.0h0M656.9 484.5h0M691.6 484.6h0M662.3 484.8h0M673.3 485.1h0M653.6 485.4h0M712.3 485.4h0M653.0 485.8h0M708.2 486.0h0M690.2 486.6h0M670.6 487.0h0M698.7 487.1h0M730.2 487.6h0M722.3 487.6h0M729.5 487.7h0M649.4 487.9h0M716.2 488.3h0M705.0 488.5h0M681.5 488.5h0M686.7 488.7h0M659.4 489.2h0M654.4 489.5h0M704.3 490.0h0M662.2 490.0h0M692.0 490.3h0M659.4 490.3h0M699.4 490.4h0M678.9 490.6h0M689.7 491.5h0M710.9 491.6h0M706.7 491.8h0M721.2 492.6h0M716.5 492.7h0M671.4 492.7h0M721.0 492.8h0M669.0 493.1h0M686.0 493.2h0M663.9 493.5h0M680.1 493.5h0M716.2 493.7h0M695.4 494.0h0M666.0 494.0h0M690.1 494.3h0M698.0 494.4h0M733.4 494.4h0M723.9 494.5h0M714.1 494.7h0M665.6 494.9h0M653.2 495.0h0M698.3 495.3h0M737.6 495.4h0M667.7 495.4h0M689.6 495.6h0M655.4 495.7h0M690.8 496.0h0M735.5 496.1h0M660.8 496.4h0M696.1 496.5h0M721.0 496.5h0M693.4 496.7h0M729.7 497.1h0M738.4 497.1h0M715.9 497.5h0M733.6 497.6h0M676.8 497.9h0M726.6 498.0h0M658.3 498.2h0M739.2 498.3h0M665.2 498.8h0M693.0 499.1h0M673.3 499.3h0M662.1 499.5h0M697.0 499.8h0M712.8 499.9h0M717.8 499.9h0M661.5 499.9h0M676.5 500.2h0M678.5 500.7h0M725.0 501.3h0M725.7 501.4h0M707.9 501.5h0M667.0 501.5h0M674.1 501.6h0M737.2 501.7h0M651.6 501.7h0M667.5 502.5h0M669.7 502.6h0M698.6 502.7h0M652.1 502.8h0M681.5 502.9h0M739.1 502.9h0M653.0 502.9h0M668.3 503.0h0M710.0 503.1h0M665.5 503.2h0M655.9 503.5h0M699.9 503.8h0M729.8 504.0h0M677.8 504.3h0M678.9 504.4h0M657.2 504.4h0M717.9 504.6h0M661.4 504.9h0M671.7 505.8h0M651.5 505.9h0M727.3 505.9h0M662.9 506.1h0M685.7 506.2h0M655.5 506.3h0M702.6 506.4h0M731.9 506.5h0M691.0 506.7h0M705.8 507.0h0M651.4 507.0h0M710.1 507.5h0M684.2 507.5h0M735.3 508.0h0M678.6 508.2h0M718.8 508.2h0M670.3 508.5h0M659.1 508.6h0M691.9 508.7h0M725.9 508.8h0M682.3 509.2h0M698.8 509.4h0M736.6 509.5h0M668.8 509.7h0M667.6 509.7h0M667.6 510.0h0M703.9 510.0h0M700.5 510.1h0M735.4 510.4h0M694.6 510.5h0M734.8 510.8h0M664.9 510.9h0M691.5 511.0h0M717.8 511.1h0M738.8 511.3h0M732.8 511.9h0M664.9 512.4h0M659.9 512.5h0M663.8 512.7h0M695.7 512.9h0M689.0 512.9h0M738.7 512.9h0M715.5 513.2h0M672.8 513.5h0M729.2 514.3h0M738.9 514.3h0M652.5 514.4h0M708.9 514.6h0M717.8 515.2h0M661.8 515.3h0M682.3 515.4h0M678.1 515.4h0M707.3 515.5h0M715.8 516.8h0M722.4 517.1h0M699.3 517.3h0M690.3 517.8h0M718.1 518.2h0M668.7 518.3h0M654.5 518.6h0M659.4 519.4h0M687.8 519.5h0M660.9 519.6h0M713.6 519.7h0M723.8 520.2h0M733.5 520.2h0M725.9 520.3h0M656.4 520.3h0M722.3 520.3h0M709.6 520.7h0M734.7 521.1h0M695.2 521.2h0M737.0 521.3h0M672.2 521.6h0M707.8 521.7h0M696.9 521.9h0M712.8 521.9h0M714.5 522.4h0M735.9 522.5h0M735.4 522.5h0M738.0 522.7h0M686.3 522.9h0M701.6 523.0h0M731.0 523.1h0M658.4 523.2h0M718.5 523.4h0M664.5 523.4h0M687.6 523.4h0M719.2 523.5h0M701.0 523.5h0M714.6 524.0h0M723.7 524.1h0M695.3 524.2h0M703.9 524.3h0M701.3 525.0h0M697.9 525.1h0M736.4 525.2h0M705.9 525.4h0M700.5 525.5h0M736.0 525.5h0M732.9 525.6h0M718.4 525.8h0M693.1 525.9h0M685.3 526.7h0M697.0 526.9h0M725.6 527.0h0M665.9 527.1h0M710.7 527.2h0M733.8 527.5h0M720.1 528.1h0M705.4 528.3h0M739.1 528.4h0M736.4 528.5h0M716.4 528.7h0M735.5 528.8h0M707.1 529.2h0M717.9 529.5h0M690.9 529.9h0M730.6 530.0h0M730.9 530.1h0M707.4 530.9h0M705.3 531.2h0M693.5 531.4h0M703.2 531.6h0M721.8 531.6h0M695.0 531.8h0M705.7 532.6h0M717.5 532.7h0M712.3 533.3h0M704.0 533.4h0M703.3 533.6h0M736.0 533.8h0M667.4 533.9h0M724.5 534.2h0M694.1 534.3h0M702.9 534.4h0M716.1 534.8h0M702.1 535.1h0M691.4 535.2h0M721.2 535.3h0M695.8 535.3h0M692.3 535.9h0M730.5 535.9h0M721.7 536.7h0M731.9 536.7h0M727.7 536.7h0M725.5 536.9h0M739.7 536.9h0M716.6 537.3h0M666.3 537.3h0M711.5 537.5h0M655.3 537.5h0M731.5 537.7h0M653.6 537.8h0M731.0 537.8h0M714.8 537.9h0M656.2 538.2h0M719.9 538.3h0M739.1 538.6h0M704.3 538.7h0M706.8 538.8h0M710.0 538.8h0M739.2 539.0h0M719.2 539.1h0M661.3 539.1h0M731.3 539.2h0M705.2 539.5h0M689.2 539.7h0M721.5 539.9h0M715.3 540.0h0M705.9 540.0h0M724.3 540.1h0M715.4 540.2h0M712.9 540.3h0M713.0 540.7h0M703.8 540.7h0M723.5 540.7h0M700.9 540.9h0M727.0 541.4h0M703.7 541.5h0M711.3 541.5h0M670.5 541.5h0M723.4 541.8h0M712.1 541.9h0M736.3 542.6h0M711.6 543.4h0M705.4 543.6h0M692.8 543.7h0M693.3 544.0h0M655.5 544.0h0M718.7 544.1h0M736.7 544.2h0M683.1 544.2h0M697.1 544.5h0M697.2 544.6h0M719.5 544.8h0M718.4 544.8h0M682.7 544.8h0M706.2 545.0h0M725.7 545.1h0M692.4 545.4h0M664.3 545.5h0M708.2 546.1h0M726.9 546.3h0M724.4 546.5h0M712.8 547.0h0M692.5 547.1h0M719.8 547.2h0M727.8 547.3h0M699.5 547.4h0M693.0 547.7h0M711.5 548.0h0M675.4 548.1h0M685.5 548.2h0M721.1 548.3h0M655.0 548.5h0M691.3 548.9h0M709.4 549.0h0M724.3 549.2h0M681.9 549.2h0M738.5 549.3h0M694.6 549.5h0M718.5 549.7h0M709.0 549.7h0M701.4 549.9h0M712.1 550.0h0M675.7 550.1h0M664.0 550.2h0M672.1 550.4h0M730.3 550.4h0M696.6 551.0h0M711.5 551.1h0M661.5 551.8h0M696.4 551.8h0M704.1 551.9h0M665.8 551.9h0M702.7 551.9h0M713.6 552.0h0M716.6 552.2h0M710.1 552.5h0M657.8 553.0h0M702.4 553.2h0M697.2 553.3h0M666.4 553.5h0M709.8 553.5h0M739.5 553.5h0M723.9 553.7h0M699.8 553.9h0M671.1 553.9h0M705.7 553.9h0M705.6 554.2h0M732.8 554.2h0M727.7 554.8h0M699.3 554.9h0M720.9 555.6h0M713.0 555.6h0M713.6 555.7h0M704.7 555.9h0M731.4 556.0h0M674.0 556.0h0M699.0 556.0h0M731.9 556.4h0M703.6 556.5h0M707.9 557.0h0M717.1 557.0h0M720.6 557.1h0M715.9 557.7h0M725.0 557.8h0M717.8 558.2h0M729.9 558.2h0M729.7 558.3h0M694.6 559.0h0M719.8 559.1h0M657.5 559.2h0M736.3 559.2h0M728.6 559.3h0M731.0 559.4h0M706.0 559.5h0M700.8 560.1h0M718.2 560.8h0M728.7 561.4h0M730.7 561.7h0M674.0 561.7h0M733.6 561.8h0M695.5 561.8h0M734.0 562.3h0M706.8 562.6h0M726.1 563.0h0M716.9 563.1h0M725.3 563.3h0M672.7 563.4h0M697.5 563.5h0M734.5 563.5h0M659.8 563.6h0M704.4 563.7h0M717.7 563.7h0M696.0 563.7h0M669.7 563.8h0M691.7 563.9h0M706.8 564.0h0M715.8 564.7h0M691.8 564.8h0M720.4 564.8h0M709.2 564.9h0M726.8 565.0h0M707.0 565.2h0M732.2 565.4h0M711.4 566.1h0M728.6 566.9h0M722.2 566.9h0M738.3 567.2h0M698.6 567.4h0M748.3 567.9h0M701.5 568.2h0M696.5 568.2h0M727.7 568.3h0M721.5 568.6h0M709.6 568.7h0M720.9 568.9h0M691.5 568.9h0M693.3 569.0h0M736.4 569.0h0M698.8 569.1h0M658.2 569.6h0M726.2 569.8h0M687.5 570.0h0M718.4 570.1h0M698.1 570.3h0M739.3 570.7h0M717.8 571.1h0M679.7 571.2h0M699.9 571.3h0M718.3 571.3h0M735.6 571.5h0M684.0 571.6h0M730.3 571.8h0M726.8 572.0h0M706.5 572.1h0M735.6 572.5h0M667.1 572.5h0M738.9 572.7h0M732.5 572.8h0M736.7 572.8h0M718.0 572.8h0M737.4 573.0h0M705.4 573.2h0M682.9 573.2h0M656.5 573.6h0M737.3 573.7h0M660.2 573.7h0M732.1 573.8h0M739.1 573.9h0M670.3 573.9h0M701.4 574.0h0M722.7 574.4h0M713.7 574.5h0M707.2 574.6h0M706.9 574.7h0M727.1 574.7h0M675.8 574.8h0M686.8 575.3h0M660.0 575.4h0M713.8 575.4h0M711.0 575.5h0M697.9 575.5h0M728.3 575.6h0M730.5 575.7h0M738.4 575.8h0M724.1 575.9h0M678.8 576.0h0M750.5 576.1h0M717.9 577.2h0M728.0 577.3h0M688.5 577.3h0M695.4 577.7h0M700.7 577.8h0M720.9 577.8h0M737.0 577.8h0M657.2 578.2h0M694.7 578.2h0M728.0 578.2h0M691.1 578.6h0M737.1 578.8h0M702.0 578.9h0M709.0 579.0h0M657.0 579.1h0M735.1 579.4h0M732.1 579.5h0M730.6 579.5h0M673.5 579.6h0M653.4 579.6h0M664.9 579.7h0M701.6 579.8h0M749.0 579.9h0M711.9 579.9h0M695.0 580.2h0M678.4 580.2h0M732.2 580.2h0M684.2 580.4h0M715.5 580.9h0M737.0 581.2h0M739.5 581.4h0M721.7 581.4h0M699.4 581.5h0M719.4 582.0h0M701.8 582.0h0M711.9 582.1h0M729.3 582.2h0M738.9 582.2h0M717.7 582.4h0M720.6 582.5h0M731.4 582.7h0M716.2 582.7h0M694.2 582.8h0M700.1 583.2h0M736.1 583.4h0M729.6 583.5h0M708.0 583.5h0M698.7 583.6h0M706.2 583.9h0M739.2 584.3h0M703.0 584.4h0M674.6 584.6h0M712.6 584.6h0M715.2 584.6h0M716.2 584.8h0M653.8 584.8h0M673.3 584.9h0M700.7 585.0h0M722.8 585.3h0M700.4 585.4h0M734.0 585.5h0M689.4 585.6h0M705.5 585.6h0M721.2 585.6h0M698.9 585.9h0M678.5 586.1h0M719.1 586.6h0M703.6 586.8h0M698.3 586.9h0M706.6 587.1h0M689.8 587.4h0M735.3 587.8h0M695.9 587.9h0M696.5 588.5h0M705.3 588.7h0M700.6 588.7h0M684.0 588.7h0M713.1 588.7h0M752.8 588.8h0M729.6 588.8h0M694.1 588.8h0M726.8 589.0h0M727.6 589.2h0M709.1 589.4h0M702.2 589.4h0M727.0 589.5h0M708.6 590.1h0M708.4 590.4h0M664.8 590.5h0M704.8 590.6h0M746.5 590.9h0M663.5 590.9h0M715.3 591.1h0M732.0 591.5h0M716.9 591.8h0M665.8 591.9h0M681.2 592.3h0M715.4 592.4h0M730.1 592.9h0M736.6 592.9h0M673.2 593.1h0M737.5 593.1h0M703.2 593.1h0M712.4 593.5h0M725.1 593.5h0M682.5 593.6h0M710.5 593.8h0M694.5 594.2h0M674.7 594.2h0M714.5 594.9h0M725.9 595.2h0M745.1 595.2h0M715.5 595.3h0M698.8 595.9h0M671.4 596.0h0M714.2 596.5h0M697.4 596.8h0M699.3 597.0h0M659.4 597.1h0M715.7 597.2h0M701.4 597.5h0M700.6 598.0h0M699.1 598.1h0M704.9 598.1h0M745.8 598.2h0M716.1 598.6h0M659.9 599.0h0M731.6 599.3h0M705.4 599.5h0M675.0 599.6h0M710.6 599.7h0M711.0 599.7h0M728.7 599.7h0M722.0 599.8h0M694.1 600.0h0M717.7 600.0h0M696.3 600.1h0M729.6 601.1h0M721.7 601.6h0M704.0 601.6h0M707.6 602.1h0M713.6 602.7h0M680.9 602.8h0M721.6 602.9h0M735.9 603.0h0M710.8 603.1h0M730.5 603.1h0M658.3 603.7h0M700.3 603.9h0M719.0 604.4h0M738.2 604.4h0M720.6 604.7h0M708.2 604.9h0M717.7 605.1h0M710.9 605.2h0M668.7 605.3h0M737.8 605.4h0M756.8 605.8h0M752.4 605.9h0M716.4 606.0h0M700.3 606.7h0M711.7 606.9h0M727.5 606.9h0M706.1 607.0h0M720.5 607.3h0M712.6 607.4h0M688.4 607.5h0M733.1 607.5h0M696.5 607.7h0M694.1 607.9h0M712.6 608.0h0M732.7 608.7h0M721.3 608.9h0M728.1 609.0h0M695.8 609.0h0M737.5 609.1h0M718.6 609.4h0M709.1 609.4h0M721.0 609.4h0M713.9 610.3h0M757.7 610.4h0M730.7 610.4h0M710.7 610.6h0M715.4 610.8h0M721.1 611.0h0M654.6 611.3h0M714.3 611.4h0M682.5 611.5h0M746.5 611.7h0M728.3 611.8h0M705.8 612.0h0M715.2 612.5h0M706.7 612.5h0M729.0 612.8h0M699.8 612.9h0M720.2 613.1h0M739.1 613.3h0M734.5 613.6h0M701.7 613.6h0M713.0 613.6h0M704.5 613.9h0M726.7 614.0h0M701.4 614.2h0M707.1 614.5h0M710.2 615.0h0M732.1 615.0h0M708.3 615.5h0M666.5 615.7h0M737.0 615.8h0M703.0 616.1h0M702.5 616.3h0M718.4 616.5h0M694.3 616.6h0M712.0 616.6h0M730.5 616.9h0M707.6 617.0h0M713.6 617.3h0M724.1 617.3h0M727.7 617.5h0M738.7 618.3h0M683.1 618.3h0M718.1 618.4h0M728.8 618.9h0M655.7 618.9h0M692.0 619.6h0M757.8 619.6h0M727.0 619.7h0M728.6 619.8h0M701.4 619.9h0M725.5 619.9h0M724.0 620.1h0M715.1 620.3h0M722.2 620.5h0M732.3 620.5h0M729.6 620.7h0M748.8 621.0h0M715.9 621.7h0M715.0 621.8h0M674.0 621.8h0M716.7 622.1h0M723.7 622.4h0M672.8 622.5h0M756.9 622.7h0M738.4 622.7h0M735.5 622.7h0M738.9 623.1h0M706.5 623.3h0M724.9 623.4h0M736.3 623.4h0M679.8 623.5h0M723.3 623.7h0M714.1 623.9h0M699.8 624.2h0M722.5 624.3h0M713.3 624.4h0M711.3 624.6h0M703.3 624.7h0M717.0 624.7h0M695.5 625.3h0M706.1 625.4h0M701.4 625.5h0M710.7 625.9h0M730.8 626.2h0M729.4 626.2h0M683.1 626.4h0M715.4 626.8h0M717.2 627.0h0M710.3 627.3h0M728.7 627.6h0M687.6 627.6h0M738.0 627.7h0M747.7 627.7h0M732.9 627.9h0M721.8 628.0h0M696.2 628.1h0M693.8 628.2h0M702.1 628.5h0M744.8 629.4h0M704.4 629.8h0M699.7 630.0h0M699.6 630.2h0M657.2 630.2h0M703.8 630.3h0M725.9 630.8h0M729.2 630.9h0M722.3 631.0h0M729.5 631.3h0M679.0 631.5h0M759.0 631.7h0M717.0 632.0h0M698.7 632.2h0M723.5 632.2h0M701.1 632.7h0M706.1 632.7h0M698.5 632.7h0M739.1 633.5h0M713.3 633.5h0M717.4 633.6h0M665.0 634.5h0M670.3 634.7h0M704.9 635.0h0M714.2 635.0h0M727.4 635.2h0M721.4 635.9h0M687.5 636.1h0M687.1 636.1h0M726.4 636.2h0M727.9 636.5h0M698.3 636.5h0M729.6 636.5h0M718.0 636.6h0M691.5 637.0h0M683.3 637.6h0M711.7 637.9h0M731.1 638.1h0M719.0 638.2h0M734.6 638.3h0M739.5 638.5h0M731.0 638.9h0M734.4 639.2h0M736.1 639.2h0M728.7 639.3h0M724.4 639.4h0M707.7 639.5h0M737.1 639.6h0M726.6 640.1h0M727.2 640.2h0M719.8 640.6h0M717.2 640.7h0M729.2 641.6h0M733.0 641.7h0M703.8 641.7h0M691.1 641.8h0M712.1 641.8h0M744.3 642.2h0M752.4 642.3h0M730.8 642.3h0M723.7 642.5h0M680.7 642.9h0M701.1 643.2h0M705.8 643.2h0M701.9 643.5h0M699.5 643.6h0M743.1 643.7h0M703.0 643.7h0M735.2 643.8h0M727.0 644.0h0M707.5 644.6h0M701.7 644.7h0M736.5 644.9h0M738.9 645.4h0M733.0 645.7h0M709.7 645.8h0M718.1 645.8h0M731.7 646.5h0M727.1 646.6h0M721.3 646.8h0M670.4 646.8h0M734.4 646.9h0M726.2 647.0h0M699.2 647.3h0M712.8 647.3h0M713.5 647.3h0M710.5 647.7h0M746.4 648.0h0M726.5 648.4h0M707.1 648.8h0M731.0 648.8h0M698.7 648.9h0M724.9 649.1h0M733.9 649.3h0M697.3 649.6h0M723.9 649.9h0M666.2 649.9h0M723.0 650.0h0M733.8 650.4h0M747.1 650.7h0M699.3 650.7h0M721.6 651.0h0M736.1 651.0h0M712.1 651.1h0M727.1 651.2h0M721.4 651.3h0M706.5 651.7h0M728.0 651.9h0M713.4 652.8h0M725.0 653.1h0M727.7 653.2h0M702.8 653.2h0M717.5 653.4h0M744.2 653.5h0M715.1 653.9h0M706.2 654.0h0M738.7 654.8h0M714.1 654.9h0M702.6 655.0h0M700.6 655.1h0M715.0 655.2h0M707.4 655.3h0M681.9 655.5h0M716.0 655.7h0M728.0 655.9h0M725.2 656.4h0M709.8 656.5h0M691.9 656.8h0M734.6 656.9h0M724.1 657.0h0M732.5 657.1h0M710.7 657.6h0M722.4 657.7h0M708.1 657.7h0M701.3 658.2h0M699.7 658.4h0M706.9 658.4h0M718.8 658.4h0M729.3 658.4h0M658.9 658.4h0M726.3 659.0h0M727.7 659.0h0M719.1 659.8h0M718.8 659.9h0M661.1 660.1h0M736.9 660.6h0M763.7 660.7h0M735.7 660.8h0M723.6 661.1h0M708.5 661.4h0M734.9 661.6h0M701.4 661.8h0M751.8 662.0h0M733.6 662.0h0M715.2 662.4h0M723.2 662.8h0M755.9 662.8h0M732.3 663.0h0M708.2 663.3h0M763.8 663.7h0M715.9 663.8h0M727.3 663.9h0M733.5 664.1h0M702.3 664.2h0M717.5 664.7h0M715.7 664.9h0M727.8 665.8h0M702.2 666.2h0M722.1 666.2h0M710.5 666.8h0M731.5 667.2h0M706.0 667.3h0M767.5 667.5h0M725.3 667.6h0M715.0 667.6h0M708.8 667.7h0M702.0 668.0h0M699.9 668.1h0M731.7 668.3h0M708.9 668.5h0M713.4 668.6h0M702.4 668.8h0M711.6 668.9h0M713.6 669.2h0M730.5 669.2h0M694.8 669.3h0M729.2 669.3h0M726.4 669.9h0M668.5 670.0h0M730.8 670.7h0M703.3 670.8h0M736.2 670.9h0M713.6 671.1h0M668.7 671.1h0M703.8 671.1h0M732.3 671.2h0M764.9 671.3h0M705.3 671.4h0M707.9 671.7h0M739.1 671.8h0M705.9 672.5h0M737.6 672.9h0M698.7 673.2h0M732.1 673.2h0M706.4 673.3h0M736.8 673.8h0M727.4 674.0h0M728.4 674.7h0M733.5 675.6h0M710.8 675.9h0M723.6 676.2h0M766.9 676.4h0M729.3 676.7h0M701.7 677.1h0M711.9 678.2h0M713.4 678.6h0M763.3 678.8h0M699.3 679.1h0M722.3 679.5h0M701.1 679.9h0M717.8 679.9h0M753.2 680.2h0M690.1 680.5h0M719.9 680.5h0M767.7 680.8h0M704.0 681.0h0M689.0 681.0h0M717.2 681.1h0M686.5 681.6h0M745.3 681.6h0M675.3 681.8h0M722.1 682.5h0M725.1 682.5h0M709.2 682.6h0M678.7 683.1h0M728.4 683.1h0M762.4 683.2h0M719.7 683.8h0M703.8 684.3h0M738.6 684.5h0M726.2 684.6h0M733.4 685.1h0M721.2 685.3h0M722.8 685.6h0M677.2 686.1h0M747.0 686.8h0M765.5 687.7h0M711.5 688.1h0M719.8 688.2h0M720.1 689.2h0M714.6 689.5h0M728.4 690.1h0M705.0 690.2h0M729.5 690.4h0M732.0 690.4h0M712.7 691.0h0M709.8 691.1h0M738.4 691.9h0M749.3 692.9h0M707.9 693.1h0M750.3 693.2h0M716.6 693.6h0M710.9 693.7h0M712.5 694.9h0M730.0 695.1h0M730.1 695.2h0M707.5 695.5h0M737.9 695.6h0M734.5 696.1h0M707.6 696.2h0M714.3 696.4h0M736.2 697.4h0M752.4 697.6h0M765.1 698.2h0M724.2 698.6h0M751.0 698.8h0M711.2 698.8h0M709.3 699.5h0M739.9 701.2h0M735.7 701.2h0M759.8 702.1h0M708.4 702.3h0M723.8 702.3h0M729.8 702.5h0M711.8 702.5h0M717.1 702.7h0M743.8 703.2h0M760.1 703.7h0M742.4 704.8h0M761.4 705.1h0M732.4 705.2h0M759.8 705.7h0M738.1 706.4h0M731.2 707.1h0M727.7 708.8h0M715.7 709.0h0M716.5 709.3h0M762.2 709.7h0M768.0 710.6h0M753.7 710.9h0M738.6 711.1h0M744.4 711.1h0M714.7 711.1h0M713.2 711.7h0M728.4 712.2h0M730.8 712.2h0M719.9 713.9h0M745.6 714.1h0M725.8 714.3h0M720.7 714.3h0M714.1 714.4h0M719.5 715.0h0M770.5 715.9h0M746.8 716.2h0M705.0 716.6h0M709.8 718.4h0M716.1 719.9h0M767.9 720.0h0M711.2 720.2h0M717.4 720.9h0M711.2 721.3h0M762.4 722.0h0M731.8 722.2h0M714.4 722.5h0M715.1 722.8h0M722.5 722.9h0M723.2 723.2h0M741.2 723.2h0M740.9 723.3h0M726.0 723.4h0M733.7 723.8h0M736.5 724.0h0M721.2 724.8h0M760.4 725.0h0M763.2 725.4h0M724.9 725.6h0M719.4 726.4h0M752.8 726.4h0M749.6 726.8h0M740.1 728.4h0M761.4 729.0h0M753.7 729.0h0M722.7 729.0h0M709.3 729.7h0M734.8 729.7h0M725.4 730.2h0M717.2 731.4h0M736.9 731.9h0M718.8 733.0h0M726.8 733.2h0M731.2 734.4h0M754.4 734.5h0M731.3 734.6h0M716.3 736.2h0M720.3 736.2h0M729.4 737.8h0M714.0 738.1h0M717.4 738.1h0M726.9 738.8h0M720.7 739.1h0M714.7 739.1h0M719.7 740.0h0M716.2 740.1h0M716.3 740.2h0M735.4 740.7h0M730.7 741.9h0M726.0 741.9h0M714.5 742.7h0M714.7 743.6h0M740.7 744.4h0M724.5 744.9h0M722.1 745.4h0M720.9 745.5h0M736.8 746.1h0M735.6 747.6h0M725.0 748.2h0M729.7 749.7h0M717.6 752.7h0M723.4 753.2h0M723.8 753.8h0M721.9 755.1h0M727.6 755.7h0M723.1 757.1h0M722.5 757.3h0M724.3 757.9h0M723.0 758.0h0M725.0 759.6h0M725.6 763.2h0M715.6 763.2h0M725.2 766.0h0M723.3 767.3h0M735.3 772.0h0M721.8 776.7h0M721.9 778.7h0M722.5 787.3h0M730.2 797.4h0M724.8 802.1h0" fill="none" stroke="#00ffff" stroke-width="7" stroke-linecap="round"/>
<polyline points="672.5,18.6 673.0,101.4 673.7,184.3 675.8,267.2 677.2,350.1 678.4,432.9 682.4,515.8 687.4,640.1" fill="none" stroke="#ff0000" stroke-width="8.68" stroke-linejoin="round"/>
<polyline points="659.6,80.7 674.7,287.9 703.6,495.1 715.4,702.3" fill="none" stroke="#0000ff" stroke-width="2.60" stroke-linejoin="round"/>
<path d="M659.6 80.7h0M674.7 287.9h0M703.6 495.1h0M715.4 702.3h0" fill="none" stroke="#0000ff" stroke-width="12.6" stroke-linecap="round"/>
<polyline points="672.5,18.6 673.0,101.4 673.7,184.3 675.8,267.2 677.2,350.1 678.4,432.9 682.4,515.8 687.4,640.1" fill="none" stroke="#ff0000" stroke-width="3.10" stroke-linejoin="round"/>
<path d="M672.5 18.6h0M673.0 101.4h0M673.7 184.3h0M675.8 267.2h0M677.2 350.1h0M678.4 432.9h0M682.4 515.8h0M687.4 640.1h0" fill="none" stroke="#ff0000" stroke-width="12.6" stroke-linecap="round"/>
<polyline points="674.7,18.6 675.6,101.4 676.1,184.3 678.2,267.2 681.2,350.1 698.4,432.9 748.4,515.8 751.4,640.1" fill="none" stroke="#008000" stroke-width="3.00" stroke-linejoin="round"/>
<path d="M674.7 18.6h0M675.6 101.4h0M676.1 184.3h0M678.2 267.2h0M681.2 350.1h0M698.4 432.9h0M748.4 515.8h0M751.4 640.1h0" fill="none" stroke="#008000" stroke-width="12.6" stroke-linecap="round"/>
<polyline points="797.4,39.0 797.4,82.4 797.6,128.2 798.3,176.8 798.4,229.0 798.3,285.5 798.3,347.2 798.3,415.3 800.7,491.2 828.6,576.6 885.3,673.7 892.3,785.0 900.4,913.6" fill="none" stroke="#ff00ff" stroke-width="3.30" stroke-linejoin="round"/>
<path d="M797.4 39.0h0M797.4 82.4h0M797.6 128.2h0M798.3 176.8h0M798.4 229.0h0M798.3 285.5h0M798.3 347.2h0M798.3 415.3h0M800.7 491.2h0M828.6 576.6h0M885.3 673.7h0M892.3 785.0h0M900.4 913.6h0" fill="none" stroke="#ff00ff" stroke-width="12.6" stroke-linecap="round"/>
</g>
<rect x="575.5" y="19.4" width="395.1" height="784.0" fill="none" stroke="#000" stroke-width="1.39"/>
<path d="M603.5 803.4v6.1M665.5 803.4v6.1M727.5 803.4v6.1M789.5 803.4v6.1M851.5 803.4v6.1M913.5 803.4v6.1M575.5 19.5h-6.1M575.5 226.5h-6.1M575.5 433.5h-6.1M575.5 640.5h-6.1" stroke="#000" stroke-width="1.39" fill="none"/>
<text x="603.2" y="830" font-size="17.36" text-anchor="middle">31.25</text>
<text x="665.2" y="830" font-size="17.36" text-anchor="middle">31.50</text>
<text x="727.2" y="830" font-size="17.36" text-anchor="middle">31.75</text>
<text x="789.2" y="830" font-size="17.36" text-anchor="middle">32.00</text>
<text x="851.2" y="830" font-size="17.36" text-anchor="middle">32.25</text>
<text x="913.2" y="830" font-size="17.36" text-anchor="middle">32.50</text>
</g>
<g id="axes2">
<path d="M1077.5 803.4V19.4M1170.5 803.4V19.4M1264.5 803.4V19.4M1357.5 803.4V19.4M1450.5 803.4V19.4M1073.6 226.5H1468.6M1073.6 433.5H1468.6M1073.6 640.5H1468.6" fill="none" stroke="#b0b0b0" stroke-width="1" stroke-dasharray="3.2 1.4"/>
<g clip-path="url(#c2)">
<path d="M1175.4 71.7h0M1180.4 81.6h0M1196.0 81.8h0M1194.0 82.1h0M1187.1 82.8h0M1185.6 83.3h0M1183.9 83.6h0M1189.4 84.2h0M1186.4 84.6h0M1174.6 84.6h0M1182.3 84.7h0M1185.7 85.0h0M1198.8 85.0h0M1184.4 86.5h0M1179.1 86.7h0M1201.1 89.0h0M1175.2 89.0h0M1197.7 89.1h0M1185.9 89.3h0M1201.2 89.4h0M1196.4 89.8h0M1201.6 90.4h0M1190.7 90.6h0M1190.0 90.8h0M1180.9 91.2h0M1184.6 91.5h0M1190.8 91.8h0M1177.8 93.7h0M1180.8 94.0h0M1196.5 94.2h0M1197.2 94.3h0M1180.7 94.7h0M1174.7 94.9h0M1198.6 95.0h0M1177.4 95.4h0M1196.5 95.4h0M1200.4 96.1h0M1183.8 96.2h0M1185.7 96.5h0M1189.3 96.9h0M1176.3 96.9h0M1192.4 97.3h0M1191.8 97.4h0M1190.7 97.8h0M1201.2 98.2h0M1200.9 98.4h0M1187.0 98.9h0M1181.5 99.0h0M1199.5 99.4h0M1219.5 99.5h0M1178.2 99.9h0M1198.4 100.0h0M1185.4 100.1h0M1183.9 100.1h0M1185.0 100.2h0M1189.7 100.6h0M1176.9 102.9h0M1176.5 103.5h0M1187.5 104.2h0M1200.0 104.5h0M1191.5 105.7h0M1192.5 105.9h0M1202.7 105.9h0M1195.9 106.0h0M1196.9 106.2h0M1192.5 106.3h0M1187.0 106.3h0M1186.5 107.4h0M1180.9 107.7h0M1188.4 107.7h0M1176.7 108.0h0M1202.1 108.2h0M1186.3 109.1h0M1192.8 109.1h0M1196.1 109.6h0M1181.5 110.3h0M1183.3 110.3h0M1191.2 110.7h0M1178.4 110.9h0M1191.5 111.1h0M1203.1 111.3h0M1191.8 111.4h0M1194.6 111.5h0M1201.0 111.6h0M1189.5 112.6h0M1190.2 112.9h0M1180.1 113.2h0M1184.9 113.4h0M1200.0 114.0h0M1186.5 114.1h0M1188.8 114.7h0M1183.4 115.1h0M1201.9 115.2h0M1199.8 115.5h0M1203.8 115.6h0M1184.2 115.8h0M1198.8 115.9h0M1178.8 116.1h0M1202.3 116.7h0M1191.6 116.7h0M1176.1 116.8h0M1174.9 116.8h0M1182.1 117.3h0M1199.4 117.6h0M1195.5 117.6h0M1174.2 117.7h0M1196.6 118.0h0M1189.5 118.2h0M1181.7 118.4h0M1200.0 118.4h0M1196.8 119.2h0M1193.2 119.4h0M1194.5 119.4h0M1198.1 119.9h0M1188.3 119.9h0M1182.0 120.3h0M1200.1 120.3h0M1181.2 120.4h0M1178.2 120.5h0M1177.3 120.5h0M1200.7 120.6h0M1197.7 120.9h0M1192.5 120.9h0M1183.7 121.1h0M1182.2 121.4h0M1174.6 121.7h0M1185.7 121.9h0M1179.2 122.2h0M1193.4 122.3h0M1173.8 122.4h0M1180.1 122.6h0M1203.6 122.7h0M1194.8 122.9h0M1202.1 122.9h0M1188.2 123.6h0M1205.4 123.8h0M1200.2 124.2h0M1186.2 124.3h0M1180.4 124.3h0M1196.8 124.3h0M1191.7 124.6h0M1184.2 124.6h0M1190.6 124.7h0M1202.5 124.7h0M1202.1 125.4h0M1229.4 126.0h0M1195.5 126.3h0M1188.8 126.5h0M1199.4 126.6h0M1178.7 127.0h0M1177.9 127.1h0M1177.5 127.1h0M1187.7 127.8h0M1195.2 128.0h0M1191.2 128.4h0M1176.1 129.0h0M1194.7 129.0h0M1196.3 129.1h0M1196.7 129.2h0M1199.7 129.2h0M1173.3 129.3h0M1194.7 129.4h0M1179.2 129.5h0M1191.1 129.9h0M1186.7 130.2h0M1188.7 130.3h0M1207.0 130.6h0M1194.8 131.0h0M1204.5 132.2h0M1190.2 132.4h0M1188.3 132.5h0M1174.1 133.1h0M1195.9 133.6h0M1187.9 133.9h0M1190.3 134.3h0M1174.2 134.9h0M1199.6 135.1h0M1203.1 135.4h0M1194.4 136.3h0M1188.3 136.8h0M1185.0 136.9h0M1190.4 137.7h0M1198.1 137.8h0M1202.9 138.0h0M1208.0 138.1h0M1190.0 138.4h0M1208.7 138.5h0M1182.0 138.8h0M1194.0 139.6h0M1198.2 139.7h0M1192.6 139.8h0M1201.6 140.5h0M1190.8 141.0h0M1179.9 141.6h0M1192.9 141.9h0M1186.2 142.2h0M1205.2 142.7h0M1189.0 143.3h0M1211.6 143.4h0M1186.8 143.6h0M1205.1 143.9h0M1186.7 144.2h0M1176.7 144.3h0M1192.5 144.6h0M1188.6 144.6h0M1186.1 144.8h0M1193.4 145.2h0M1181.2 145.3h0M1181.9 145.3h0M1185.9 145.7h0M1196.4 145.8h0M1194.6 146.0h0M1193.2 146.1h0M1192.7 146.2h0M1177.3 146.3h0M1192.8 146.5h0M1179.6 146.7h0M1181.6 146.9h0M1194.8 147.6h0M1197.9 147.8h0M1189.3 147.9h0M1198.8 147.9h0M1174.9 148.3h0M1185.1 148.5h0M1209.4 149.1h0M1185.0 149.3h0M1186.0 149.7h0M1206.0 150.0h0M1187.9 150.3h0M1174.0 150.7h0M1180.6 150.9h0M1191.3 151.1h0M1179.0 151.2h0M1184.3 151.9h0M1179.9 152.8h0M1233.2 153.0h0M1196.3 153.1h0M1195.8 153.2h0M1181.7 153.2h0M1191.8 153.8h0M1180.2 153.9h0M1195.8 154.8h0M1213.2 154.8h0M1205.5 154.8h0M1180.5 155.0h0M1198.9 155.9h0M1205.7 156.1h0M1192.2 156.3h0M1210.8 156.7h0M1181.3 156.8h0M1191.9 156.9h0M1196.3 157.1h0M1182.3 157.3h0M1203.5 157.5h0M1176.8 157.9h0M1196.2 158.4h0M1176.6 158.5h0M1178.1 158.7h0M1182.3 158.7h0M1177.2 159.1h0M1178.7 159.5h0M1188.9 159.6h0M1181.8 159.7h0M1181.8 160.0h0M1187.5 160.3h0M1175.0 161.0h0M1175.9 161.2h0M1198.7 161.3h0M1201.5 161.5h0M1199.7 161.8h0M1215.9 162.1h0M1184.3 162.3h0M1192.9 162.3h0M1193.8 162.4h0M1178.0 162.8h0M1207.9 163.1h0M1210.9 163.2h0M1178.1 163.4h0M1190.6 163.8h0M1201.8 163.9h0M1197.0 164.1h0M1202.1 164.5h0M1202.5 164.7h0M1188.8 165.2h0M1211.8 165.5h0M1189.0 165.9h0M1201.6 167.6h0M1176.0 167.8h0M1187.1 167.9h0M1189.5 168.1h0M1192.9 168.1h0M1199.1 168.3h0M1215.4 168.4h0M1211.2 168.5h0M1207.7 168.7h0M1194.6 168.9h0M1185.5 169.4h0M1199.2 169.4h0M1183.1 170.4h0M1186.6 170.7h0M1201.0 170.7h0M1200.2 171.4h0M1187.0 171.5h0M1195.7 171.7h0M1183.9 172.1h0M1188.6 172.4h0M1185.8 172.5h0M1206.9 172.9h0M1206.0 173.3h0M1193.8 173.3h0M1211.9 174.5h0M1197.7 174.8h0M1178.5 175.2h0M1190.8 175.5h0M1196.0 176.1h0M1177.0 176.1h0M1204.2 176.2h0M1199.4 177.4h0M1221.1 178.5h0M1191.5 178.8h0M1180.0 179.1h0M1197.8 179.4h0M1182.9 179.6h0M1183.3 179.7h0M1236.5 180.0h0M1174.8 180.7h0M1195.9 180.8h0M1210.3 181.4h0M1187.4 181.5h0M1176.4 181.6h0M1175.7 181.8h0M1205.8 181.9h0M1204.5 182.0h0M1178.8 182.1h0M1189.9 182.1h0M1176.6 182.2h0M1177.1 182.2h0M1183.2 182.3h0M1186.5 182.4h0M1206.1 182.6h0M1196.5 182.8h0M1197.3 182.8h0M1217.7 182.9h0M1187.8 183.0h0M1205.0 183.7h0M1196.3 183.9h0M1177.3 183.9h0M1193.9 184.4h0M1179.0 184.4h0M1208.1 184.5h0M1186.9 184.6h0M1182.8 184.7h0M1193.5 184.8h0M1206.0 185.4h0M1189.9 185.6h0M1205.4 186.9h0M1179.7 187.0h0M1197.2 187.3h0M1213.6 187.7h0M1193.9 187.9h0M1201.0 187.9h0M1191.4 188.3h0M1178.0 188.5h0M1190.5 188.6h0M1182.8 189.3h0M1188.1 189.5h0M1196.6 189.6h0M1177.7 189.8h0M1182.9 189.9h0M1196.6 190.2h0M1188.3 190.4h0M1206.7 190.5h0M1201.2 190.6h0M1195.1 190.7h0M1192.1 190.8h0M1180.0 190.9h0M1178.5 191.3h0M1187.9 191.3h0M1192.9 191.4h0M1182.1 191.5h0M1208.8 191.7h0M1217.2 192.2h0M1180.6 192.4h0M1195.4 192.5h0M1185.7 192.8h0M1215.9 193.0h0M1220.0 193.3h0M1192.6 193.3h0M1208.1 193.6h0M1176.4 193.8h0M1184.0 194.0h0M1206.1 194.1h0M1224.0 194.4h0M1177.0 194.5h0M1189.3 194.5h0M1197.2 194.6h0M1206.8 194.7h0M1203.5 194.8h0M1192.5 195.1h0M1203.6 195.3h0M1189.7 195.4h0M1184.3 195.6h0M1180.6 195.7h0M1203.9 195.8h0M1177.5 195.9h0M1211.6 196.0h0M1208.1 196.2h0M1199.3 196.5h0M1204.0 196.6h0M1187.3 197.2h0M1176.4 197.3h0M1197.6 197.4h0M1208.2 197.7h0M1209.4 197.8h0M1208.3 198.0h0M1223.3 198.0h0M1183.4 198.1h0M1206.4 198.2h0M1202.5 198.5h0M1193.2 198.7h0M1186.1 198.7h0M1216.8 198.8h0M1204.2 199.0h0M1215.5 199.1h0M1190.8 200.0h0M1175.5 200.1h0M1212.1 200.4h0M1182.1 200.7h0M1198.4 201.0h0M1203.1 201.0h0M1217.7 201.2h0M1188.7 201.3h0M1226.5 201.4h0M1174.1 201.4h0M1203.5 202.1h0M1176.9 202.4h0M1193.7 202.4h0M1199.5 202.4h0M1190.6 202.5h0M1225.4 202.8h0M1205.4 202.8h0M1175.4 203.0h0M1193.2 203.7h0M1174.6 203.8h0M1217.8 204.2h0M1220.9 204.3h0M1192.1 204.7h0M1190.8 204.9h0M1174.6 204.9h0M1183.2 205.1h0M1205.8 205.2h0M1180.5 205.4h0M1183.2 205.7h0M1180.5 206.0h0M1207.4 206.2h0M1191.7 206.8h0M1174.9 207.5h0M1182.5 207.6h0M1219.7 207.8h0M1190.8 208.1h0M1189.0 208.1h0M1217.6 208.2h0M1187.8 208.6h0M1195.9 208.7h0M1185.1 209.0h0M1197.4 209.5h0M1181.8 209.7h0M1205.2 209.8h0M1193.0 210.0h0M1196.4 210.1h0M1194.2 210.5h0M1216.8 211.1h0M1195.4 211.3h0M1238.6 211.4h0M1221.8 211.4h0M1220.5 211.5h0M1206.0 211.7h0M1215.0 211.9h0M1197.8 212.2h0M1185.1 212.6h0M1186.7 212.6h0M1194.8 212.6h0M1198.6 212.7h0M1215.0 212.8h0M1174.3 213.3h0M1176.5 214.6h0M1201.9 214.7h0M1182.5 215.2h0M1180.9 215.2h0M1220.8 215.3h0M1187.3 215.4h0M1217.9 215.8h0M1191.3 216.3h0M1199.4 216.6h0M1198.0 216.7h0M1205.9 216.8h0M1200.4 217.5h0M1205.8 217.5h0M1225.3 217.6h0M1188.9 217.7h0M1202.0 217.7h0M1186.3 218.2h0M1213.1 218.6h0M1196.7 218.7h0M1186.0 218.9h0M1182.5 219.0h0M1196.4 219.4h0M1194.6 219.6h0M1201.1 219.9h0M1182.7 220.1h0M1200.6 220.1h0M1195.0 220.4h0M1176.6 220.4h0M1221.2 220.4h0M1199.6 220.5h0M1208.5 220.7h0M1230.6 220.7h0M1200.1 220.8h0M1207.9 221.0h0M1183.6 221.0h0M1212.3 221.1h0M1193.8 221.1h0M1230.8 221.4h0M1174.7 221.7h0M1185.2 221.9h0M1192.7 221.9h0M1186.5 222.0h0M1197.2 222.1h0M1198.4 222.2h0M1195.2 223.0h0M1229.3 223.0h0M1199.3 223.1h0M1210.4 223.2h0M1215.2 223.9h0M1227.6 223.9h0M1185.9 224.4h0M1205.4 224.6h0M1188.4 224.7h0M1193.2 224.7h0M1196.4 224.7h0M1183.3 225.0h0M1175.6 225.8h0M1230.0 225.9h0M1213.8 226.2h0M1208.1 226.3h0M1187.2 226.8h0M1184.2 226.9h0M1209.6 227.0h0M1189.9 227.1h0M1206.4 227.8h0M1179.6 227.9h0M1223.3 228.0h0M1209.3 228.0h0M1214.5 228.3h0M1206.2 229.4h0M1186.6 229.4h0M1180.7 229.5h0M1229.5 229.6h0M1229.3 229.8h0M1197.3 230.5h0M1215.1 230.8h0M1174.9 231.1h0M1231.1 231.3h0M1202.1 231.4h0M1195.4 232.1h0M1179.5 232.6h0M1215.6 232.6h0M1186.3 232.8h0M1228.6 233.0h0M1227.5 233.5h0M1176.0 234.2h0M1226.8 234.3h0M1212.5 234.5h0M1203.4 234.8h0M1186.7 234.9h0M1179.0 235.0h0M1192.7 235.2h0M1206.3 235.3h0M1198.3 235.3h0M1202.6 235.7h0M1188.2 235.9h0M1223.0 236.4h0M1185.4 236.9h0M1223.3 237.0h0M1220.5 237.5h0M1231.3 237.5h0M1206.5 237.6h0M1220.6 237.7h0M1229.4 238.5h0M1228.0 238.7h0M1184.9 239.1h0M1182.1 239.6h0M1204.2 239.8h0M1176.3 240.0h0M1202.1 240.2h0M1192.5 240.3h0M1180.7 240.9h0M1235.3 241.7h0M1195.7 241.9h0M1182.7 242.0h0M1204.1 242.4h0M1223.5 242.9h0M1240.5 243.0h0M1200.0 243.2h0M1183.3 243.2h0M1184.7 243.4h0M1176.3 244.0h0M1190.2 244.1h0M1188.2 244.3h0M1188.9 244.6h0M1188.0 244.8h0M1231.3 245.2h0M1207.2 245.9h0M1187.7 246.2h0M1183.3 246.4h0M1198.3 246.4h0M1227.7 247.4h0M1227.1 247.5h0M1183.5 248.5h0M1189.6 248.5h0M1186.7 248.6h0M1177.0 249.2h0M1223.2 249.2h0M1229.0 249.2h0M1176.5 249.3h0M1232.2 249.6h0M1190.8 249.9h0M1206.1 250.1h0M1202.6 250.6h0M1181.9 250.7h0M1188.9 250.7h0M1231.5 250.8h0M1197.7 251.3h0M1232.8 251.4h0M1178.4 251.9h0M1200.2 252.2h0M1189.8 252.4h0M1213.5 252.6h0M1197.2 252.6h0M1188.8 252.6h0M1207.1 252.8h0M1200.2 252.8h0M1176.8 253.0h0M1196.0 253.2h0M1203.2 253.3h0M1233.1 253.3h0M1189.2 254.2h0M1207.8 254.2h0M1186.9 254.6h0M1180.9 254.7h0M1226.8 254.9h0M1198.7 255.1h0M1234.5 255.4h0M1190.9 255.9h0M1212.0 256.2h0M1204.6 256.6h0M1204.1 256.8h0M1226.4 256.9h0M1189.1 257.0h0M1195.1 257.0h0M1183.2 257.0h0M1185.0 257.2h0M1179.0 257.2h0M1180.3 257.2h0M1203.6 257.5h0M1206.0 257.5h0M1191.8 257.5h0M1210.4 257.9h0M1183.2 258.3h0M1207.1 258.4h0M1186.2 258.8h0M1200.9 259.1h0M1176.6 259.1h0M1189.3 259.1h0M1192.6 259.4h0M1176.1 259.4h0M1226.9 259.7h0M1235.1 259.7h0M1182.4 259.9h0M1182.0 260.0h0M1197.3 260.0h0M1187.7 260.1h0M1195.8 260.1h0M1180.3 260.2h0M1221.3 260.4h0M1199.4 260.6h0M1185.3 260.6h0M1184.9 261.0h0M1189.8 261.1h0M1190.0 261.7h0M1202.4 262.2h0M1229.6 262.2h0M1197.3 262.3h0M1218.8 262.3h0M1221.2 262.3h0M1182.7 262.4h0M1231.1 262.8h0M1209.7 262.9h0M1196.5 263.2h0M1237.5 263.3h0M1184.2 263.3h0M1187.6 263.9h0M1206.9 264.0h0M1221.0 264.3h0M1215.5 265.1h0M1211.5 265.1h0M1183.3 265.2h0M1196.5 265.4h0M1186.4 265.6h0M1177.2 265.8h0M1179.8 266.1h0M1202.6 266.2h0M1179.0 266.3h0M1185.5 266.5h0M1193.8 266.8h0M1184.4 266.8h0M1192.3 267.0h0M1214.9 267.1h0M1181.2 267.1h0M1207.6 267.1h0M1197.2 267.3h0M1204.1 267.4h0M1194.2 267.7h0M1176.4 267.8h0M1203.7 268.0h0M1209.9 268.1h0M1184.8 268.4h0M1210.8 268.6h0M1231.0 269.0h0M1225.7 269.5h0M1204.6 269.6h0M1214.4 269.8h0M1194.8 270.5h0M1197.1 270.6h0M1197.0 270.6h0M1183.5 270.9h0M1199.3 270.9h0M1178.9 271.1h0M1213.9 271.2h0M1205.5 271.6h0M1215.0 271.7h0M1211.1 271.7h0M1189.1 271.7h0M1186.0 271.9h0M1228.5 272.2h0M1200.7 272.3h0M1205.9 272.4h0M1207.2 272.5h0M1176.4 272.8h0M1206.4 272.8h0M1219.4 272.8h0M1210.2 272.8h0M1210.0 273.0h0M1209.3 273.0h0M1222.0 273.1h0M1180.0 273.1h0M1221.5 273.3h0M1179.4 273.4h0M1188.5 273.5h0M1211.2 273.9h0M1179.7 274.3h0M1210.3 274.4h0M1206.0 274.6h0M1232.0 274.8h0M1184.1 275.0h0M1216.4 275.1h0M1198.0 275.2h0M1188.4 275.4h0M1203.0 275.6h0M1202.1 275.7h0M1182.6 276.0h0M1222.3 276.0h0M1229.9 276.8h0M1211.0 277.0h0M1214.9 277.8h0M1180.6 278.0h0M1190.7 278.2h0M1200.1 278.5h0M1202.8 278.8h0M1208.3 278.9h0M1178.0 279.4h0M1194.4 279.4h0M1193.9 279.7h0M1204.5 279.9h0M1204.1 280.0h0M1180.7 280.5h0M1197.4 280.5h0M1199.6 280.7h0M1208.3 280.7h0M1193.3 280.9h0M1184.8 281.2h0M1222.0 281.4h0M1200.6 281.6h0M1229.5 282.1h0M1206.9 282.3h0M1201.7 282.3h0M1211.3 282.3h0M1231.1 282.9h0M1202.2 282.9h0M1196.5 283.5h0M1226.4 283.9h0M1200.0 284.3h0M1206.6 284.7h0M1219.2 284.9h0M1191.1 285.0h0M1188.0 285.4h0M1203.5 285.6h0M1194.0 286.0h0M1185.5 286.4h0M1186.2 286.4h0M1188.1 286.4h0M1190.1 286.7h0M1236.9 286.8h0M1210.3 286.9h0M1200.2 287.0h0M1197.1 287.0h0M1200.5 287.5h0M1178.1 287.6h0M1239.0 287.7h0M1236.3 287.9h0M1190.7 288.0h0M1180.2 288.0h0M1195.5 288.3h0M1180.8 288.8h0M1180.5 289.0h0M1226.6 289.3h0M1232.0 290.2h0M1221.5 290.2h0M1198.5 290.2h0M1214.4 290.3h0M1209.9 290.4h0M1209.8 290.6h0M1177.9 291.2h0M1238.1 291.3h0M1182.9 291.7h0M1238.1 291.8h0M1203.7 292.0h0M1186.9 292.0h0M1208.6 292.1h0M1212.9 292.2h0M1206.0 292.3h0M1217.0 293.0h0M1193.4 293.0h0M1208.5 293.4h0M1196.9 293.4h0M1217.9 293.6h0M1177.1 293.7h0M1200.2 293.9h0M1185.7 294.0h0M1204.1 294.0h0M1194.8 294.5h0M1235.1 294.7h0M1183.1 294.7h0M1202.8 294.8h0M1218.8 295.0h0M1198.2 295.1h0M1203.8 295.2h0M1204.5 295.8h0M1198.0 296.2h0M1212.3 296.7h0M1186.1 297.0h0M1216.8 297.2h0M1203.3 297.5h0M1192.8 297.6h0M1178.1 298.6h0M1219.6 298.8h0M1192.3 298.8h0M1182.2 299.4h0M1205.4 299.4h0M1217.1 299.6h0M1212.5 299.8h0M1182.7 299.8h0M1178.5 300.0h0M1236.3 300.0h0M1197.3 300.0h0M1211.1 300.1h0M1196.9 300.9h0M1211.8 301.0h0M1183.7 301.3h0M1197.8 301.4h0M1184.4 301.6h0M1192.8 301.6h0M1192.7 302.1h0M1233.0 302.2h0M1182.9 302.3h0M1214.8 302.4h0M1180.9 302.4h0M1198.2 302.5h0M1181.9 302.6h0M1203.6 302.6h0M1205.7 302.7h0M1216.4 302.8h0M1189.0 303.3h0M1201.8 303.4h0M1212.7 304.1h0M1206.7 304.2h0M1197.0 304.3h0M1214.7 306.1h0M1180.2 306.2h0M1213.1 306.4h0M1186.4 306.9h0M1209.3 307.9h0M1229.3 307.9h0M1184.9 308.1h0M1205.0 308.1h0M1178.5 308.3h0M1201.6 308.4h0M1212.5 308.4h0M1240.2 308.6h0M1230.2 308.9h0M1182.6 309.0h0M1209.3 309.2h0M1224.3 309.5h0M1194.2 309.8h0M1188.5 310.4h0M1190.8 310.6h0M1179.5 311.3h0M1186.7 311.5h0M1238.1 311.5h0M1180.0 311.6h0M1197.7 311.6h0M1197.3 311.8h0M1188.7 312.0h0M1187.1 312.1h0M1199.4 312.2h0M1200.2 312.6h0M1231.9 312.7h0M1194.3 313.3h0M1202.7 313.4h0M1225.4 313.6h0M1228.9 314.0h0M1209.0 314.1h0M1238.4 314.4h0M1183.6 314.4h0M1195.7 314.6h0M1233.2 315.1h0M1192.1 315.3h0M1194.3 315.4h0M1191.7 315.6h0M1185.9 315.6h0M1184.1 315.7h0M1223.7 316.2h0M1224.1 316.4h0M1184.3 316.6h0M1228.4 316.9h0M1197.1 317.1h0M1240.0 317.2h0M1183.7 317.5h0M1220.9 317.8h0M1210.1 318.1h0M1242.9 318.5h0M1199.2 319.1h0M1193.9 319.4h0M1203.0 319.4h0M1217.6 319.9h0M1185.2 320.2h0M1242.2 320.6h0M1196.4 320.6h0M1206.7 321.0h0M1179.2 321.1h0M1213.6 322.3h0M1204.4 322.3h0M1191.4 322.4h0M1220.1 322.7h0M1232.6 322.8h0M1180.8 322.9h0M1216.6 322.9h0M1200.6 323.0h0M1193.7 323.1h0M1220.5 323.6h0M1195.7 324.1h0M1209.9 324.1h0M1187.1 324.6h0M1190.7 324.6h0M1187.2 324.6h0M1192.0 325.0h0M1199.7 325.0h0M1193.6 325.1h0M1197.7 325.1h0M1187.4 325.2h0M1202.0 325.2h0M1189.8 325.2h0M1206.7 325.3h0M1190.0 325.4h0M1241.9 325.6h0M1210.1 325.7h0M1186.0 326.1h0M1200.5 326.3h0M1202.5 326.4h0M1207.2 326.6h0M1206.1 326.6h0M1194.4 326.7h0M1208.1 326.7h0M1194.6 326.7h0M1189.4 326.9h0M1184.8 327.3h0M1192.8 327.4h0M1202.7 327.5h0M1204.5 327.7h0M1179.2 328.4h0M1230.7 328.5h0M1206.3 328.5h0M1187.6 328.6h0M1186.8 328.7h0M1219.9 329.1h0M1210.4 329.2h0M1194.1 329.3h0M1186.2 329.9h0M1207.8 329.9h0M1177.9 330.0h0M1221.5 330.1h0M1195.9 330.4h0M1197.8 330.6h0M1180.8 330.9h0M1234.1 331.2h0M1186.3 331.8h0M1211.4 332.0h0M1182.6 332.0h0M1228.3 332.1h0M1203.2 332.2h0M1181.1 332.5h0M1183.8 332.7h0M1246.3 332.8h0M1228.6 332.8h0M1227.9 332.9h0M1187.0 332.9h0M1184.6 332.9h0M1188.4 333.0h0M1187.7 333.8h0M1187.6 334.1h0M1184.6 334.5h0M1199.5 334.7h0M1232.2 334.9h0M1228.6 335.1h0M1241.4 335.2h0M1216.5 335.4h0M1179.2 335.4h0M1211.5 335.5h0M1199.2 335.6h0M1189.1 335.7h0M1207.2 335.7h0M1204.8 335.8h0M1242.2 336.2h0M1186.0 336.4h0M1229.5 336.5h0M1198.6 336.6h0M1224.5 336.7h0M1223.4 336.8h0M1216.4 336.9h0M1198.1 336.9h0M1182.7 337.2h0M1177.9 337.3h0M1244.8 337.4h0M1185.4 337.5h0M1212.4 337.5h0M1225.8 337.8h0M1199.1 337.8h0M1182.2 338.1h0M1194.5 338.3h0M1222.8 338.9h0M1248.0 339.2h0M1232.1 339.2h0M1180.3 339.7h0M1238.3 339.7h0M1198.6 339.8h0M1198.4 340.0h0M1210.0 340.0h0M1245.2 340.1h0M1180.8 340.6h0M1226.4 340.7h0M1185.6 340.9h0M1193.0 340.9h0M1198.3 341.0h0M1183.9 341.2h0M1236.7 341.2h0M1206.9 341.4h0M1185.9 341.7h0M1184.4 341.8h0M1217.1 341.9h0M1183.8 342.3h0M1202.3 342.3h0M1187.9 342.5h0M1206.5 342.5h0M1208.6 342.6h0M1203.1 342.9h0M1201.6 343.0h0M1187.2 343.1h0M1247.1 343.5h0M1220.9 343.6h0M1211.6 343.7h0M1226.1 343.9h0M1212.0 344.5h0M1208.6 345.0h0M1192.8 345.0h0M1240.7 345.2h0M1243.1 345.6h0M1195.2 345.6h0M1187.9 345.9h0M1204.4 346.1h0M1190.6 346.3h0M1190.1 346.3h0M1200.0 346.7h0M1211.6 346.7h0M1229.8 346.7h0M1201.5 347.1h0M1216.6 347.7h0M1200.1 348.0h0M1214.4 348.4h0M1195.8 348.5h0M1184.1 348.6h0M1210.5 349.0h0M1223.4 349.5h0M1204.7 350.2h0M1206.1 350.4h0M1215.8 350.5h0M1206.6 350.8h0M1201.3 351.0h0M1188.3 351.2h0M1208.4 352.0h0M1208.0 352.2h0M1243.2 352.3h0M1246.2 352.4h0M1210.3 352.7h0M1245.0 352.8h0M1192.6 353.1h0M1202.0 353.1h0M1224.7 353.2h0M1242.0 353.7h0M1237.0 354.6h0M1192.0 354.7h0M1185.3 354.8h0M1188.0 355.0h0M1211.9 355.0h0M1193.9 355.0h0M1215.6 355.1h0M1189.4 355.3h0M1185.9 355.8h0M1237.6 355.8h0M1240.7 356.1h0M1239.1 356.1h0M1237.4 356.5h0M1246.8 357.0h0M1235.4 357.0h0M1204.8 357.2h0M1192.5 357.3h0M1216.0 357.7h0M1234.2 357.7h0M1202.1 357.9h0M1183.4 358.2h0M1234.2 358.2h0M1249.8 358.3h0M1193.8 358.3h0M1196.4 358.4h0M1214.0 358.5h0M1233.4 358.7h0M1232.3 358.9h0M1203.2 359.0h0M1192.2 359.0h0M1220.9 359.0h0M1226.1 359.1h0M1229.4 359.1h0M1197.4 359.3h0M1206.3 359.4h0M1236.1 359.5h0M1218.2 359.8h0M1195.4 359.8h0M1207.3 359.8h0M1190.8 360.2h0M1224.0 360.2h0M1205.7 360.5h0M1182.9 360.5h0M1246.9 360.7h0M1225.8 360.7h0M1202.8 361.1h0M1252.7 361.4h0M1186.8 361.6h0M1232.0 361.6h0M1215.5 362.1h0M1235.9 362.3h0M1221.3 362.3h0M1206.1 362.4h0M1247.3 362.5h0M1204.1 362.6h0M1207.7 363.0h0M1187.2 363.1h0M1235.7 363.1h0M1245.3 363.3h0M1186.1 363.4h0M1203.9 363.6h0M1198.4 364.0h0M1187.9 364.1h0M1203.5 364.1h0M1195.0 364.1h0M1191.0 364.5h0M1233.4 364.6h0M1196.6 364.8h0M1236.9 365.0h0M1240.6 365.3h0M1181.5 365.4h0M1229.1 365.5h0M1210.5 365.5h0M1201.8 366.0h0M1222.9 366.1h0M1180.5 366.1h0M1190.6 366.3h0M1202.4 366.6h0M1223.6 366.7h0M1201.7 366.9h0M1212.9 367.0h0M1219.1 367.2h0M1215.3 367.4h0M1184.1 367.9h0M1202.2 367.9h0M1186.0 368.0h0M1217.1 368.1h0M1226.6 368.4h0M1196.2 368.5h0M1188.0 368.5h0M1192.5 368.5h0M1191.0 368.6h0M1238.7 369.4h0M1184.5 369.7h0M1198.4 369.8h0M1182.4 370.1h0M1189.4 370.1h0M1190.6 370.2h0M1215.5 370.3h0M1186.0 370.3h0M1192.1 370.5h0M1179.6 370.7h0M1197.4 370.8h0M1227.1 370.9h0M1208.8 370.9h0M1190.3 371.2h0M1210.7 371.8h0M1230.2 372.2h0M1228.2 372.5h0M1184.5 372.5h0M1204.7 372.7h0M1212.9 372.9h0M1194.7 373.1h0M1207.7 373.2h0M1254.9 373.2h0M1194.7 373.3h0M1229.7 373.8h0M1207.7 373.8h0M1238.8 374.1h0M1211.2 374.2h0M1209.7 374.2h0M1198.7 374.3h0M1196.2 374.5h0M1181.0 374.8h0M1226.3 375.3h0M1179.5 375.5h0M1228.9 375.5h0M1205.7 375.6h0M1199.7 375.7h0M1180.3 375.8h0M1207.6 376.0h0M1203.1 376.5h0M1200.6 377.2h0M1212.5 377.3h0M1223.8 377.6h0M1190.7 377.6h0M1184.2 377.9h0M1254.1 378.0h0M1197.9 378.5h0M1202.0 378.6h0M1181.1 378.6h0M1220.2 379.0h0M1190.1 379.0h0M1245.5 379.1h0M1179.3 379.3h0M1201.3 379.3h0M1182.0 380.4h0M1234.8 380.7h0M1187.6 380.9h0M1202.3 381.2h0M1247.0 381.3h0M1231.2 381.6h0M1255.3 381.7h0M1187.9 381.8h0M1196.0 382.1h0M1181.7 382.1h0M1246.9 382.3h0M1220.5 382.3h0M1199.4 382.6h0M1225.1 382.8h0M1253.4 382.9h0M1192.0 383.0h0M1199.4 383.4h0M1229.2 383.5h0M1255.3 383.6h0M1181.3 384.2h0M1190.4 384.4h0M1246.7 384.6h0M1190.3 384.7h0M1185.1 384.7h0M1255.1 384.9h0M1213.6 384.9h0M1251.7 385.0h0M1187.4 385.1h0M1247.2 385.4h0M1188.6 385.9h0M1200.9 386.3h0M1250.5 386.3h0M1233.4 386.4h0M1190.5 386.5h0M1222.6 386.7h0M1184.7 386.7h0M1200.7 386.8h0M1220.3 387.1h0M1190.4 387.1h0M1194.4 387.6h0M1225.4 387.6h0M1236.5 388.1h0M1245.3 388.1h0M1246.8 388.1h0M1217.4 388.4h0M1223.1 388.4h0M1194.4 388.7h0M1199.6 388.8h0M1208.2 388.9h0M1210.0 389.0h0M1180.6 389.3h0M1227.1 389.4h0M1213.4 389.7h0M1252.3 389.8h0M1190.7 389.9h0M1225.0 390.8h0M1253.7 390.8h0M1250.0 390.8h0M1191.3 391.1h0M1195.0 391.6h0M1182.9 391.6h0M1180.9 391.7h0M1207.9 391.8h0M1191.7 391.9h0M1189.9 391.9h0M1181.5 392.2h0M1210.0 392.2h0M1214.7 392.4h0M1213.7 392.6h0M1231.0 392.7h0M1180.4 393.5h0M1180.5 393.6h0M1188.1 393.7h0M1235.2 393.7h0M1202.6 393.8h0M1198.3 394.2h0M1193.0 394.3h0M1191.4 394.6h0M1195.3 394.8h0M1189.2 395.3h0M1222.9 395.4h0M1200.4 395.5h0M1195.4 395.5h0M1198.3 395.5h0M1238.4 395.6h0M1205.8 396.3h0M1207.0 396.5h0M1236.4 396.5h0M1252.2 396.7h0M1189.0 397.5h0M1181.2 397.6h0M1199.0 397.7h0M1244.9 398.0h0M1208.9 398.1h0M1188.4 398.3h0M1246.4 398.3h0M1237.7 398.3h0M1249.7 398.4h0M1192.5 398.5h0M1206.8 398.5h0M1181.0 398.8h0M1239.2 398.9h0M1234.8 399.2h0M1192.6 399.4h0M1191.2 399.7h0M1211.5 400.6h0M1250.6 400.7h0M1242.0 400.7h0M1196.0 401.2h0M1194.2 401.4h0M1183.2 401.5h0M1202.1 401.6h0M1198.3 401.7h0M1185.2 401.7h0M1185.3 401.9h0M1206.2 401.9h0M1213.9 402.1h0M1197.4 402.4h0M1256.3 402.8h0M1222.7 403.8h0M1199.4 403.8h0M1186.5 403.8h0M1238.8 403.9h0M1196.4 404.1h0M1206.6 404.1h0M1237.4 404.2h0M1186.8 404.3h0M1241.5 404.4h0M1191.3 404.7h0M1187.3 404.8h0M1197.6 405.0h0M1219.0 405.3h0M1214.1 405.3h0M1193.9 405.6h0M1179.8 405.7h0M1202.5 405.9h0M1194.6 405.9h0M1203.7 406.4h0M1193.0 406.6h0M1184.6 406.8h0M1182.8 406.9h0M1232.2 407.1h0M1193.6 407.1h0M1199.6 407.3h0M1253.6 407.3h0M1223.6 407.3h0M1200.5 407.3h0M1186.4 407.3h0M1252.9 407.5h0M1210.4 407.6h0M1207.6 407.7h0M1211.0 408.2h0M1221.7 408.7h0M1224.6 408.8h0M1210.9 408.9h0M1184.9 409.0h0M1200.2 409.1h0M1188.2 409.2h0M1208.2 409.4h0M1193.6 409.9h0M1210.4 409.9h0M1190.8 410.1h0M1191.8 410.1h0M1205.9 410.7h0M1245.1 410.9h0M1194.7 411.1h0M1197.9 411.3h0M1192.6 411.4h0M1210.5 411.4h0M1254.6 411.5h0M1214.3 411.6h0M1183.3 411.8h0M1207.8 412.0h0M1203.9 412.5h0M1193.1 412.6h0M1181.3 413.0h0M1182.0 413.0h0M1194.6 413.1h0M1235.8 413.1h0M1201.4 413.5h0M1188.7 413.7h0M1208.0 414.2h0M1212.0 414.3h0M1216.6 414.4h0M1181.9 414.5h0M1248.6 414.5h0M1189.7 414.8h0M1223.3 414.8h0M1210.3 414.8h0M1184.6 414.9h0M1203.8 414.9h0M1193.7 414.9h0M1183.3 415.0h0M1188.0 415.1h0M1238.5 415.2h0M1183.5 415.2h0M1196.5 415.3h0M1196.0 415.6h0M1200.0 415.6h0M1212.1 415.7h0M1203.2 415.7h0M1188.5 416.0h0M1182.7 416.1h0M1232.1 416.2h0M1198.4 416.3h0M1183.2 416.5h0M1191.1 416.7h0M1241.0 416.9h0M1248.7 416.9h0M1188.8 417.4h0M1207.0 417.5h0M1184.8 417.7h0M1200.9 417.9h0M1239.6 418.3h0M1198.7 418.3h0M1201.9 418.5h0M1202.6 418.7h0M1251.7 418.8h0M1197.7 418.9h0M1207.2 418.9h0M1183.6 419.6h0M1223.8 419.7h0M1191.6 419.8h0M1249.1 420.6h0M1231.4 420.9h0M1229.8 421.3h0M1204.2 421.3h0M1185.6 421.4h0M1199.5 422.1h0M1202.1 422.6h0M1213.5 423.0h0M1194.3 423.1h0M1226.5 423.2h0M1190.1 423.4h0M1212.9 423.4h0M1189.7 423.5h0M1245.3 423.5h0M1193.0 424.0h0M1208.6 424.1h0M1183.6 424.2h0M1185.8 424.8h0M1233.9 425.2h0M1253.7 425.4h0M1201.7 425.4h0M1240.8 425.7h0M1209.2 425.8h0M1181.7 426.0h0M1185.5 426.0h0M1200.6 426.1h0M1204.0 426.4h0M1183.8 426.5h0M1200.6 426.7h0M1241.5 426.7h0M1202.8 426.8h0M1211.4 426.8h0M1206.2 426.9h0M1186.5 427.3h0M1191.2 427.6h0M1213.7 427.7h0M1234.2 427.7h0M1209.2 427.7h0M1192.4 427.7h0M1188.2 427.8h0M1206.3 428.0h0M1214.1 428.4h0M1232.9 428.4h0M1225.3 428.7h0M1181.9 428.8h0M1247.3 429.2h0M1250.5 429.3h0M1188.1 429.6h0M1201.2 429.6h0M1191.7 429.8h0M1187.4 430.5h0M1185.3 431.1h0M1254.5 431.5h0M1207.0 432.1h0M1247.5 432.2h0M1202.0 432.3h0M1188.3 432.4h0M1188.2 432.6h0M1208.0 432.7h0M1191.8 432.7h0M1186.7 432.7h0M1211.7 432.7h0M1190.2 432.8h0M1255.4 433.4h0M1202.3 433.5h0M1223.2 433.9h0M1211.4 434.0h0M1200.5 434.4h0M1198.8 434.4h0M1208.1 434.7h0M1182.7 435.5h0M1196.9 435.8h0M1206.8 436.1h0M1196.9 436.1h0M1237.3 436.4h0M1207.2 436.6h0M1237.8 436.6h0M1227.9 436.6h0M1214.7 436.6h0M1189.5 436.8h0M1191.6 436.8h0M1208.4 437.3h0M1204.6 437.5h0M1183.1 437.6h0M1228.2 437.6h0M1208.2 437.6h0M1195.7 437.7h0M1249.7 437.8h0M1195.8 438.0h0M1183.7 438.5h0M1187.1 438.7h0M1209.7 438.7h0M1188.4 439.1h0M1198.4 439.5h0M1211.7 439.9h0M1230.3 440.1h0M1215.6 440.3h0M1227.2 440.4h0M1186.9 440.5h0M1214.9 441.1h0M1183.5 441.4h0M1225.9 441.6h0M1233.0 441.6h0M1187.5 442.1h0M1247.6 442.1h0M1238.6 442.1h0M1235.9 442.8h0M1259.9 442.9h0M1229.6 443.1h0M1246.3 443.1h0M1252.6 443.2h0M1188.5 443.4h0M1191.6 443.5h0M1230.7 443.5h0M1243.8 444.9h0M1230.3 445.6h0M1201.9 445.7h0M1208.1 446.0h0M1215.7 446.2h0M1227.3 446.4h0M1217.6 446.4h0M1186.1 446.8h0M1192.3 446.9h0M1231.2 447.0h0M1253.6 447.0h0M1253.8 447.3h0M1212.9 447.4h0M1216.8 447.6h0M1254.2 447.8h0M1205.4 448.4h0M1223.7 448.5h0M1211.5 448.5h0M1235.3 448.6h0M1259.4 449.4h0M1251.8 449.7h0M1204.8 449.8h0M1241.2 450.4h0M1202.3 451.1h0M1188.3 451.1h0M1192.5 451.1h0M1255.3 451.3h0M1206.6 451.5h0M1187.3 451.7h0M1186.1 452.0h0M1190.4 452.1h0M1248.0 452.1h0M1205.7 452.5h0M1259.0 452.9h0M1206.7 453.9h0M1245.6 454.8h0M1251.7 455.2h0M1261.1 455.6h0M1194.0 455.9h0M1229.0 456.1h0M1237.3 456.2h0M1250.8 456.3h0M1248.3 456.3h0M1243.5 456.6h0M1185.1 456.6h0M1228.5 456.7h0M1234.0 457.6h0M1238.0 458.2h0M1224.9 458.6h0M1243.8 458.6h0M1251.3 458.7h0M1193.9 458.8h0M1260.0 459.0h0M1257.1 459.6h0M1219.4 459.8h0M1237.3 460.0h0M1217.6 460.2h0M1224.7 460.3h0M1221.1 460.7h0M1216.8 460.8h0M1194.9 461.1h0M1185.7 461.6h0M1206.1 461.6h0M1220.0 462.1h0M1191.1 462.2h0M1246.6 462.4h0M1239.4 462.7h0M1248.5 462.9h0M1193.3 463.9h0M1203.2 464.1h0M1221.9 464.6h0M1221.9 464.7h0M1232.0 464.7h0M1225.3 464.9h0M1215.0 465.4h0M1215.0 465.8h0M1212.1 466.1h0M1193.4 466.7h0M1257.2 466.7h0M1232.9 466.8h0M1229.9 467.2h0M1229.7 467.2h0M1182.4 467.3h0M1238.9 467.5h0M1236.0 467.6h0M1216.1 467.7h0M1202.7 467.8h0M1255.5 467.8h0M1186.1 468.5h0M1243.3 468.5h0M1237.5 469.3h0M1257.8 469.5h0M1207.5 469.7h0M1216.1 469.9h0M1201.1 470.1h0M1204.6 470.7h0M1190.5 470.9h0M1261.0 471.0h0M1207.2 471.0h0M1224.8 471.2h0M1218.0 471.3h0M1206.4 471.9h0M1247.4 472.0h0M1187.8 472.0h0M1239.6 472.3h0M1223.7 472.3h0M1245.4 472.5h0M1259.6 472.8h0M1240.2 472.9h0M1196.1 473.0h0M1222.4 473.1h0M1200.3 473.2h0M1181.5 473.2h0M1218.1 473.2h0M1212.1 473.5h0M1251.7 473.5h0M1223.8 473.6h0M1225.9 473.7h0M1208.5 473.9h0M1209.2 474.0h0M1229.7 474.0h0M1251.1 474.6h0M1187.3 474.6h0M1257.9 475.4h0M1256.5 475.4h0M1204.0 475.7h0M1188.4 476.1h0M1258.4 476.5h0M1260.1 476.7h0M1212.7 476.7h0M1238.4 476.9h0M1236.4 477.2h0M1196.3 477.4h0M1213.0 477.4h0M1207.8 477.6h0M1244.0 478.1h0M1247.2 478.2h0M1246.2 479.1h0M1211.8 479.4h0M1260.7 479.5h0M1218.9 479.8h0M1191.8 479.9h0M1194.2 480.0h0M1184.7 480.4h0M1187.3 480.5h0M1212.2 481.0h0M1203.2 481.1h0M1194.6 481.1h0M1186.6 481.3h0M1252.2 481.4h0M1203.7 481.4h0M1247.2 481.4h0M1192.7 481.5h0M1189.1 481.7h0M1209.7 482.1h0M1190.0 482.3h0M1203.7 482.3h0M1254.8 482.5h0M1203.2 482.7h0M1197.7 483.1h0M1200.6 483.2h0M1219.1 483.3h0M1219.1 483.6h0M1197.7 483.7h0M1206.8 483.7h0M1213.6 483.9h0M1187.1 484.3h0M1253.5 484.4h0M1223.8 484.5h0M1229.1 484.8h0M1227.0 484.9h0M1260.0 485.2h0M1233.5 485.4h0M1202.7 485.8h0M1246.0 485.9h0M1226.5 486.0h0M1214.5 486.6h0M1259.6 486.6h0M1186.3 486.7h0M1202.0 486.8h0M1240.3 486.8h0M1237.1 486.8h0M1206.1 486.9h0M1253.9 487.0h0M1185.0 487.2h0M1207.9 487.3h0M1188.1 487.5h0M1227.1 487.5h0M1218.6 487.7h0M1224.0 488.1h0M1181.9 488.2h0M1218.1 488.3h0M1206.6 488.8h0M1212.4 488.9h0M1206.1 488.9h0M1211.8 489.0h0M1210.1 489.6h0M1215.4 489.7h0M1246.9 490.6h0M1232.9 490.8h0M1213.6 490.9h0M1252.3 491.8h0M1202.2 491.9h0M1214.7 491.9h0M1238.9 492.7h0M1217.3 492.9h0M1223.9 493.0h0M1198.3 493.1h0M1250.2 493.5h0M1185.5 493.8h0M1258.7 493.9h0M1218.4 495.4h0M1186.0 495.5h0M1237.1 495.6h0M1254.7 495.9h0M1201.6 496.1h0M1203.9 496.2h0M1187.1 496.3h0M1199.2 496.7h0M1197.8 496.7h0M1228.7 497.1h0M1206.4 497.1h0M1183.1 497.3h0M1196.7 497.4h0M1239.8 497.7h0M1188.1 497.8h0M1254.5 498.0h0M1260.6 498.0h0M1200.0 498.0h0M1230.4 498.1h0M1204.0 498.2h0M1247.4 498.2h0M1208.4 498.4h0M1235.9 498.6h0M1190.7 498.7h0M1181.7 498.8h0M1239.5 499.1h0M1242.4 499.3h0M1243.4 499.4h0M1254.1 499.4h0M1243.6 499.5h0M1250.4 499.5h0M1219.6 499.7h0M1236.9 499.8h0M1241.0 499.9h0M1245.3 500.1h0M1221.3 500.2h0M1182.3 500.7h0M1195.1 500.9h0M1198.2 501.0h0M1246.5 501.1h0M1190.7 501.6h0M1198.8 502.1h0M1242.5 502.1h0M1206.4 502.3h0M1222.6 502.5h0M1196.0 502.9h0M1257.7 502.9h0M1238.4 503.0h0M1184.4 503.3h0M1193.2 503.5h0M1219.8 503.6h0M1230.0 504.7h0M1229.2 504.7h0M1182.0 505.0h0M1184.9 505.9h0M1189.5 506.1h0M1210.1 506.2h0M1198.5 506.2h0M1252.9 506.5h0M1250.0 506.5h0M1185.5 506.5h0M1220.1 507.0h0M1222.2 507.3h0M1208.8 507.4h0M1234.2 507.4h0M1229.0 507.4h0M1224.0 507.5h0M1260.5 508.0h0M1233.6 508.2h0M1193.2 508.7h0M1187.6 509.2h0M1213.6 509.4h0M1242.6 509.5h0M1201.1 509.8h0M1210.4 509.9h0M1222.3 509.9h0M1224.1 510.0h0M1247.0 510.2h0M1213.8 510.3h0M1241.9 510.3h0M1251.2 510.7h0M1241.6 510.9h0M1256.7 511.1h0M1260.7 512.1h0M1209.0 512.2h0M1229.5 512.2h0M1198.7 512.6h0M1231.8 512.7h0M1230.0 512.9h0M1207.6 513.0h0M1237.8 513.2h0M1214.4 513.3h0M1228.1 513.4h0M1192.8 513.5h0M1217.2 513.8h0M1187.8 514.1h0M1247.5 514.2h0M1195.0 514.3h0M1224.4 514.5h0M1211.1 514.7h0M1221.7 514.9h0M1197.1 515.2h0M1194.4 515.2h0M1242.1 515.3h0M1256.1 515.3h0M1236.6 516.6h0M1257.0 516.6h0M1184.2 516.7h0M1205.2 517.1h0M1197.7 517.3h0M1252.3 517.4h0M1186.7 517.6h0M1230.1 518.0h0M1227.6 518.2h0M1228.8 518.7h0M1256.8 518.8h0M1237.5 519.0h0M1198.1 519.2h0M1244.7 519.4h0M1185.8 519.5h0M1260.9 519.6h0M1230.7 519.7h0M1241.7 520.1h0M1220.1 520.2h0M1242.5 520.3h0M1207.8 520.3h0M1251.2 520.9h0M1253.8 521.0h0M1243.2 521.2h0M1240.9 521.5h0M1199.8 521.8h0M1196.5 521.9h0M1247.6 521.9h0M1260.8 521.9h0M1238.8 521.9h0M1228.7 522.1h0M1223.0 522.2h0M1255.1 523.4h0M1222.3 523.5h0M1201.6 523.6h0M1257.8 523.7h0M1227.1 523.8h0M1224.5 523.8h0M1236.6 523.8h0M1252.7 523.9h0M1220.2 524.1h0M1242.1 524.2h0M1232.8 524.3h0M1233.7 524.5h0M1193.9 524.5h0M1257.0 524.8h0M1221.0 525.6h0M1225.5 526.0h0M1243.1 526.7h0M1243.0 526.9h0M1256.5 527.3h0M1221.6 527.4h0M1245.9 528.0h0M1223.5 528.1h0M1220.7 528.1h0M1253.8 528.3h0M1217.7 528.4h0M1224.6 528.5h0M1244.3 528.6h0M1257.5 528.6h0M1246.4 528.6h0M1222.1 528.9h0M1248.5 529.1h0M1220.5 529.4h0M1241.4 529.9h0M1235.7 530.5h0M1255.1 531.3h0M1243.2 531.3h0M1222.6 531.5h0M1255.4 531.9h0M1255.1 532.4h0M1246.9 533.3h0M1233.9 533.5h0M1243.1 533.6h0M1196.7 534.2h0M1210.8 534.3h0M1245.9 534.4h0M1241.2 534.4h0M1233.6 534.7h0M1187.6 535.0h0M1233.0 535.3h0M1254.5 535.4h0M1215.7 535.5h0M1253.2 535.9h0M1202.9 535.9h0M1192.6 535.9h0M1226.9 536.4h0M1244.9 536.8h0M1243.3 537.3h0M1235.6 537.4h0M1246.0 537.5h0M1205.0 537.6h0M1206.2 537.8h0M1245.0 537.8h0M1229.5 538.0h0M1187.5 538.4h0M1255.9 538.6h0M1221.3 538.8h0M1193.9 539.5h0M1257.0 539.6h0M1197.4 539.8h0M1254.1 540.0h0M1229.1 540.3h0M1253.1 540.4h0M1208.6 540.7h0M1243.6 540.8h0M1226.3 541.4h0M1245.9 542.0h0M1252.3 542.2h0M1242.7 542.3h0M1234.1 542.4h0M1257.8 543.1h0M1253.1 543.3h0M1212.9 544.0h0M1210.0 544.1h0M1224.8 544.3h0M1246.4 544.5h0M1183.8 544.5h0M1247.0 544.7h0M1238.0 544.9h0M1240.6 544.9h0M1223.5 545.2h0M1226.3 545.3h0M1252.0 545.3h0M1190.6 545.7h0M1249.5 545.8h0M1252.1 546.3h0M1232.0 546.3h0M1246.1 546.5h0M1254.6 547.0h0M1202.4 547.1h0M1228.9 547.1h0M1249.0 547.2h0M1225.7 547.3h0M1190.7 547.9h0M1230.8 548.0h0M1221.5 548.7h0M1234.5 548.9h0M1208.0 549.0h0M1249.5 549.2h0M1224.1 549.4h0M1260.8 549.5h0M1233.8 549.8h0M1253.0 550.0h0M1232.8 550.1h0M1207.7 550.2h0M1239.3 550.4h0M1252.6 550.5h0M1256.0 550.5h0M1227.6 550.7h0M1221.9 550.9h0M1225.2 551.5h0M1238.0 551.7h0M1232.2 551.9h0M1235.3 552.1h0M1228.9 552.2h0M1233.2 552.4h0M1258.1 552.7h0M1234.2 552.9h0M1195.5 553.0h0M1241.9 553.0h0M1222.9 553.3h0M1210.0 553.4h0M1234.7 553.5h0M1231.5 553.7h0M1230.2 553.9h0M1258.4 553.9h0M1227.6 554.0h0M1220.9 554.2h0M1224.2 554.7h0M1241.1 555.1h0M1229.7 555.2h0M1222.6 555.3h0M1245.1 555.4h0M1253.1 555.4h0M1190.3 555.5h0M1224.5 555.7h0M1236.8 555.8h0M1227.4 556.1h0M1228.9 556.6h0M1236.9 556.6h0M1235.1 556.7h0M1227.0 556.7h0M1258.7 557.2h0M1241.3 557.3h0M1205.8 557.3h0M1233.7 557.3h0M1247.5 557.6h0M1254.6 558.2h0M1256.4 558.2h0M1236.9 558.7h0M1249.9 558.7h0M1244.2 559.3h0M1254.8 560.3h0M1188.6 560.6h0M1227.4 560.7h0M1253.7 561.0h0M1233.9 561.1h0M1220.9 561.4h0M1223.7 561.5h0M1246.5 561.5h0M1246.6 561.7h0M1256.4 561.7h0M1245.5 561.9h0M1239.8 562.2h0M1197.6 562.3h0M1232.4 562.4h0M1260.4 562.5h0M1200.1 562.5h0M1236.9 562.6h0M1252.9 562.6h0M1236.7 562.6h0M1214.2 562.8h0M1227.8 563.0h0M1231.5 563.8h0M1237.1 563.9h0M1238.0 563.9h0M1217.5 564.0h0M1207.4 564.6h0M1221.8 564.6h0M1244.2 564.7h0M1218.1 564.8h0M1206.6 564.9h0M1247.4 565.0h0M1193.3 565.6h0M1237.1 566.1h0M1252.7 566.3h0M1223.1 566.5h0M1230.9 566.8h0M1240.6 567.1h0M1189.0 567.1h0M1212.8 567.1h0M1201.1 567.3h0M1230.1 567.4h0M1257.9 567.6h0M1233.0 567.6h0M1251.7 567.9h0M1222.2 568.2h0M1247.7 569.0h0M1259.4 569.2h0M1229.7 569.3h0M1185.4 569.5h0M1242.5 569.5h0M1233.3 569.7h0M1210.0 569.9h0M1256.4 570.2h0M1259.7 570.2h0M1222.9 570.6h0M1230.6 570.6h0M1235.0 570.7h0M1185.9 570.8h0M1221.4 571.2h0M1259.7 571.3h0M1243.7 571.5h0M1249.8 571.9h0M1244.3 572.4h0M1248.6 572.4h0M1250.8 572.5h0M1232.4 572.5h0M1186.4 572.5h0M1249.5 572.8h0M1253.2 573.4h0M1247.3 573.5h0M1207.1 573.8h0M1205.9 574.1h0M1222.2 574.1h0M1250.8 574.3h0M1251.4 574.5h0M1191.8 574.6h0M1253.3 574.9h0M1248.0 574.9h0M1243.5 575.1h0M1240.3 575.2h0M1228.8 575.2h0M1207.2 575.4h0M1222.9 575.8h0M1236.5 576.1h0M1222.5 576.3h0M1232.9 576.5h0M1235.7 576.7h0M1192.8 577.3h0M1226.7 577.7h0M1196.4 577.8h0M1247.0 578.1h0M1234.5 578.3h0M1184.6 578.5h0M1233.8 578.6h0M1251.0 578.8h0M1246.8 579.0h0M1250.5 579.1h0M1219.7 579.3h0M1212.6 579.4h0M1231.8 579.5h0M1236.2 579.6h0M1244.0 579.8h0M1225.6 579.9h0M1253.7 579.9h0M1261.1 580.1h0M1255.6 580.1h0M1224.8 580.2h0M1248.0 580.2h0M1196.2 580.4h0M1192.4 580.5h0M1239.4 580.5h0M1235.4 581.0h0M1240.8 581.1h0M1259.2 581.2h0M1234.7 581.3h0M1243.3 581.3h0M1255.8 581.6h0M1197.8 581.8h0M1198.7 582.0h0M1233.0 582.0h0M1231.5 582.6h0M1239.7 582.6h0M1238.7 583.1h0M1229.9 583.3h0M1250.8 583.5h0M1247.9 583.6h0M1233.4 583.8h0M1252.0 584.1h0M1256.2 584.2h0M1221.5 584.6h0M1210.8 584.8h0M1229.1 584.9h0M1220.5 585.1h0M1243.1 585.4h0M1241.0 585.5h0M1250.7 585.5h0M1257.9 585.7h0M1237.9 585.8h0M1228.8 585.9h0M1242.5 586.0h0M1242.1 586.5h0M1188.4 586.7h0M1246.7 586.8h0M1237.6 586.9h0M1208.6 587.1h0M1260.8 587.1h0M1249.0 587.2h0M1259.1 587.5h0M1215.9 587.5h0M1229.0 587.9h0M1260.0 588.6h0M1259.3 588.6h0M1200.7 588.7h0M1224.4 589.4h0M1231.6 589.6h0M1241.2 589.7h0M1224.7 590.2h0M1221.9 590.2h0M1213.2 590.5h0M1227.0 590.6h0M1231.5 590.8h0M1226.0 591.1h0M1233.9 591.4h0M1231.0 591.5h0M1246.6 591.7h0M1220.1 592.1h0M1238.0 592.2h0M1192.9 592.3h0M1244.0 592.3h0M1233.7 592.9h0M1259.1 593.1h0M1223.5 593.2h0M1259.4 593.3h0M1251.4 594.3h0M1196.3 595.3h0M1191.9 595.5h0M1255.2 595.6h0M1241.9 595.8h0M1257.1 595.8h0M1244.5 596.0h0M1219.7 596.0h0M1240.3 596.2h0M1246.0 596.2h0M1245.5 596.7h0M1248.6 596.9h0M1225.6 597.6h0M1207.5 597.6h0M1215.6 597.8h0M1191.3 598.1h0M1233.1 598.5h0M1230.3 598.7h0M1249.9 598.9h0M1229.0 599.1h0M1221.5 599.1h0M1231.1 599.3h0M1229.3 599.3h0M1224.6 599.9h0M1228.4 599.9h0M1232.1 600.0h0M1231.0 600.2h0M1223.1 600.8h0M1223.0 601.5h0M1185.4 601.8h0M1196.5 602.2h0M1205.3 602.7h0M1214.3 602.8h0M1220.5 602.9h0M1189.2 603.2h0M1258.9 603.2h0M1233.2 603.3h0M1242.9 603.4h0M1233.5 603.4h0M1257.1 603.6h0M1223.1 603.7h0M1233.2 603.7h0M1239.6 603.9h0M1256.9 603.9h0M1239.5 604.1h0M1232.0 604.2h0M1246.8 604.5h0M1259.7 604.6h0M1269.6 605.1h0M1239.5 605.8h0M1222.3 605.8h0M1226.0 605.9h0M1250.5 605.9h0M1246.8 606.2h0M1226.5 606.3h0M1234.7 606.8h0M1224.6 606.9h0M1250.7 607.4h0M1259.7 607.5h0M1227.6 607.8h0M1247.1 608.7h0M1246.5 608.8h0M1238.6 608.9h0M1247.2 609.4h0M1240.7 609.5h0M1228.8 609.8h0M1234.2 610.0h0M1229.8 610.4h0M1238.8 610.6h0M1206.0 610.7h0M1249.1 610.9h0M1218.7 611.3h0M1227.7 611.3h0M1226.5 611.4h0M1191.1 611.7h0M1189.3 611.8h0M1215.7 612.4h0M1248.9 612.5h0M1211.5 612.9h0M1214.9 613.4h0M1260.9 613.5h0M1258.1 613.5h0M1223.4 613.6h0M1242.6 613.8h0M1223.7 614.0h0M1260.2 614.1h0M1260.4 614.7h0M1231.4 614.7h0M1243.5 614.8h0M1252.5 614.9h0M1254.5 615.3h0M1242.6 615.4h0M1229.9 615.5h0M1254.9 615.5h0M1258.1 616.1h0M1237.5 616.3h0M1248.1 616.8h0M1235.3 617.0h0M1253.6 617.4h0M1238.5 617.5h0M1224.9 618.0h0M1209.8 618.1h0M1248.9 618.1h0M1246.4 618.7h0M1235.5 618.7h0M1253.5 618.8h0M1244.1 618.8h0M1273.7 619.1h0M1259.7 619.3h0M1248.0 619.3h0M1202.8 619.6h0M1249.6 619.6h0M1256.9 620.0h0M1229.3 620.9h0M1234.7 621.1h0M1200.7 621.4h0M1236.0 621.5h0M1254.8 621.6h0M1256.4 621.6h0M1257.2 621.8h0M1259.2 621.8h0M1200.0 621.9h0M1251.5 621.9h0M1237.6 621.9h0M1245.3 622.0h0M1223.3 622.4h0M1256.8 623.9h0M1192.0 624.3h0M1227.5 624.5h0M1255.9 624.6h0M1256.7 624.7h0M1203.8 624.7h0M1204.4 624.7h0M1242.7 625.3h0M1228.2 625.4h0M1208.2 625.6h0M1226.8 625.8h0M1212.0 625.8h0M1190.0 625.9h0M1207.5 626.1h0M1259.9 626.2h0M1230.2 626.3h0M1246.2 626.3h0M1251.2 626.4h0M1232.8 626.5h0M1249.6 626.5h0M1241.6 626.7h0M1229.5 626.7h0M1250.5 627.0h0M1200.2 627.1h0M1225.3 627.8h0M1227.8 627.8h0M1274.9 628.0h0M1245.6 628.1h0M1256.8 628.2h0M1272.3 628.9h0M1219.6 629.1h0M1223.7 629.4h0M1210.8 629.5h0M1254.0 629.5h0M1254.4 629.6h0M1192.9 629.6h0M1216.0 629.8h0M1231.7 629.9h0M1254.3 630.3h0M1249.5 630.8h0M1256.5 630.9h0M1231.4 631.0h0M1239.8 631.4h0M1257.3 632.2h0M1219.4 632.2h0M1211.9 632.4h0M1221.5 632.5h0M1246.3 632.6h0M1218.6 632.8h0M1254.8 632.8h0M1243.7 633.3h0M1197.1 633.7h0M1212.6 633.7h0M1189.2 634.1h0M1257.6 634.1h0M1253.3 634.7h0M1238.1 634.8h0M1250.7 634.9h0M1198.1 635.1h0M1255.7 635.2h0M1190.5 635.6h0M1238.8 635.7h0M1207.1 635.7h0M1246.6 635.7h0M1198.9 635.8h0M1272.8 635.9h0M1252.3 636.1h0M1206.4 636.2h0M1231.3 636.3h0M1205.0 637.0h0M1246.6 637.5h0M1221.5 638.2h0M1236.9 638.3h0M1216.0 638.8h0M1199.4 639.2h0M1257.0 639.6h0M1244.6 639.9h0M1227.7 640.0h0M1199.7 641.1h0M1239.9 641.4h0M1242.5 641.6h0M1242.5 641.8h0M1224.6 642.2h0M1239.5 642.3h0M1201.6 642.4h0M1232.3 642.5h0M1259.4 642.6h0M1269.5 642.7h0M1238.0 643.4h0M1220.8 643.5h0M1258.1 643.6h0M1258.9 643.9h0M1225.3 644.1h0M1247.9 644.2h0M1279.1 644.3h0M1219.0 644.5h0M1249.2 644.5h0M1233.4 644.6h0M1255.8 645.3h0M1226.7 645.4h0M1238.1 646.0h0M1225.9 646.7h0M1224.4 646.8h0M1249.7 646.9h0M1253.9 647.2h0M1258.2 647.2h0M1252.9 647.3h0M1271.4 647.5h0M1254.0 647.5h0M1254.8 647.6h0M1235.6 647.6h0M1231.5 647.7h0M1228.9 647.8h0M1272.0 647.9h0M1193.1 648.0h0M1239.0 648.1h0M1253.9 648.3h0M1236.1 648.7h0M1226.7 648.8h0M1226.3 648.9h0M1255.7 649.4h0M1232.9 649.5h0M1253.7 649.8h0M1224.5 649.8h0M1238.6 650.0h0M1243.2 650.8h0M1235.7 651.3h0M1247.8 651.4h0M1272.9 651.6h0M1236.8 651.8h0M1236.7 652.0h0M1240.8 652.1h0M1251.7 652.1h0M1229.9 652.3h0M1244.4 652.8h0M1227.0 653.0h0M1232.1 654.0h0M1245.2 654.2h0M1235.8 654.3h0M1258.5 654.3h0M1256.8 654.5h0M1251.4 654.6h0M1244.8 654.6h0M1257.9 654.7h0M1233.3 654.7h0M1230.2 654.8h0M1239.5 655.4h0M1243.9 655.9h0M1240.8 656.1h0M1231.4 656.2h0M1239.7 656.4h0M1258.0 656.5h0M1242.0 656.7h0M1253.2 657.0h0M1232.8 658.0h0M1240.0 658.4h0M1233.0 658.5h0M1267.6 659.2h0M1249.1 659.8h0M1227.1 659.9h0M1267.5 660.1h0M1254.9 660.3h0M1250.9 660.5h0M1251.7 661.5h0M1227.1 661.6h0M1275.2 662.0h0M1230.4 662.2h0M1238.3 662.2h0M1228.4 662.4h0M1200.9 662.7h0M1222.2 662.7h0M1241.2 663.3h0M1246.6 663.3h0M1248.2 663.6h0M1225.5 663.6h0M1247.0 663.9h0M1268.0 664.2h0M1249.0 664.4h0M1256.9 665.1h0M1231.4 665.7h0M1242.3 665.8h0M1242.5 665.9h0M1229.5 666.6h0M1248.5 666.6h0M1235.8 666.6h0M1269.2 666.7h0M1218.6 666.9h0M1239.6 666.9h0M1249.2 667.6h0M1241.2 668.6h0M1231.4 668.7h0M1234.1 669.1h0M1256.7 669.7h0M1235.0 670.0h0M1255.3 670.9h0M1234.5 671.1h0M1235.9 671.1h0M1275.7 671.2h0M1272.1 671.4h0M1269.3 671.7h0M1249.9 672.0h0M1196.5 672.0h0M1248.5 672.6h0M1230.0 672.6h0M1227.6 673.0h0M1230.3 673.2h0M1242.7 673.4h0M1228.9 673.7h0M1248.8 673.7h0M1226.1 674.7h0M1245.1 675.0h0M1226.3 675.2h0M1246.3 675.5h0M1212.3 675.7h0M1250.0 675.8h0M1251.1 675.9h0M1275.8 676.1h0M1248.8 676.3h0M1206.7 676.4h0M1230.8 676.5h0M1228.9 676.7h0M1244.0 677.1h0M1253.3 677.4h0M1241.1 677.5h0M1255.2 677.9h0M1255.0 678.1h0M1235.1 678.3h0M1247.2 678.4h0M1267.5 678.6h0M1228.9 678.6h0M1237.2 679.0h0M1245.9 679.2h0M1235.9 679.2h0M1265.8 679.3h0M1252.1 679.3h0M1226.8 679.5h0M1248.4 679.5h0M1245.1 679.9h0M1226.7 679.9h0M1246.4 681.6h0M1280.8 682.7h0M1254.7 682.8h0M1258.1 683.0h0M1270.5 683.0h0M1235.5 683.7h0M1250.5 684.4h0M1228.9 685.8h0M1232.3 685.9h0M1217.4 686.0h0M1221.5 686.9h0M1259.3 687.3h0M1276.2 687.4h0M1239.3 687.4h0M1244.3 688.0h0M1273.1 688.4h0M1229.7 689.1h0M1230.9 689.3h0M1258.7 689.6h0M1239.3 690.2h0M1253.7 690.5h0M1230.1 690.8h0M1262.7 690.9h0M1249.4 691.3h0M1249.0 692.0h0M1245.6 692.4h0M1219.2 692.7h0M1238.7 693.0h0M1224.5 693.6h0M1221.2 693.6h0M1232.6 693.8h0M1243.0 693.9h0M1255.4 694.4h0M1268.9 694.5h0M1236.3 694.7h0M1233.5 695.5h0M1271.2 695.6h0M1260.6 696.3h0M1265.8 697.3h0M1255.5 697.6h0M1241.1 698.2h0M1258.9 698.4h0M1256.0 698.5h0M1251.3 698.6h0M1255.8 698.7h0M1246.6 699.4h0M1237.5 699.7h0M1250.1 700.7h0M1258.8 701.2h0M1276.1 702.3h0M1248.1 702.8h0M1265.0 703.5h0M1253.0 703.6h0M1247.0 704.1h0M1258.8 705.2h0M1249.7 705.6h0M1276.9 705.8h0M1239.2 705.9h0M1263.7 707.0h0M1239.1 708.7h0M1270.7 708.7h0M1265.2 708.8h0M1250.9 709.7h0M1244.7 710.3h0M1246.0 710.3h0M1235.4 710.6h0M1239.5 710.7h0M1242.9 711.1h0M1242.5 711.2h0M1235.9 712.0h0M1244.3 712.1h0M1276.0 712.3h0M1237.4 712.4h0M1247.2 712.4h0M1265.8 713.1h0M1236.7 713.1h0M1234.7 713.4h0M1240.2 713.9h0M1256.3 714.0h0M1240.9 714.0h0M1272.5 714.3h0M1264.1 715.0h0M1257.2 715.7h0M1243.0 716.7h0M1240.0 718.4h0M1257.4 719.4h0M1275.6 719.6h0M1243.3 720.3h0M1245.1 720.6h0M1237.8 720.8h0M1256.8 721.3h0M1246.8 721.4h0M1237.6 721.5h0M1241.3 722.4h0M1257.3 722.6h0M1253.7 722.7h0M1239.1 725.3h0M1260.7 725.7h0M1245.3 727.3h0M1255.8 727.6h0M1242.2 728.2h0M1253.0 729.1h0M1252.5 729.9h0M1242.6 729.9h0M1249.4 730.3h0M1241.0 730.6h0M1251.5 730.8h0M1247.7 731.4h0M1237.5 731.6h0M1258.0 732.0h0M1254.6 732.6h0M1242.2 733.2h0M1241.1 733.8h0M1253.5 734.0h0M1252.5 734.5h0M1254.3 735.3h0M1255.3 735.3h0M1239.0 736.7h0M1250.7 737.6h0M1240.2 741.5h0M1255.2 741.5h0M1245.3 741.6h0M1239.5 741.9h0M1258.5 742.3h0M1246.2 742.4h0M1258.0 743.1h0M1248.3 744.3h0M1254.0 744.6h0M1251.6 744.6h0M1239.8 744.8h0M1250.5 745.7h0M1252.4 745.9h0M1257.4 746.3h0M1243.3 747.0h0M1241.5 748.6h0M1244.6 751.9h0M1251.0 753.5h0M1248.1 754.2h0M1254.1 754.3h0M1241.2 756.9h0M1245.5 757.0h0M1241.4 757.9h0M1248.7 759.0h0M1246.0 759.6h0M1246.2 761.4h0M1248.6 762.2h0M1250.9 763.5h0M1247.5 766.0h0M1251.1 766.1h0M1246.2 766.7h0M1248.3 768.1h0M1244.1 768.8h0M1246.5 769.7h0M1246.6 776.7h0M1246.1 787.3h0M1251.3 797.4h0M1247.1 802.1h0" fill="none" stroke="#00ffff" stroke-width="7" stroke-linecap="round"/>
<polyline points="1191.2,18.6 1193.6,101.4 1196.4,184.3 1199.5,267.2 1202.3,350.1 1206.1,432.9 1213.6,515.8 1223.4,640.1" fill="none" stroke="#ff0000" stroke-width="8.68" stroke-linejoin="round"/>
<polyline points="1187.7,80.7 1203.0,287.9 1227.3,495.1 1238.3,702.3" fill="none" stroke="#0000ff" stroke-width="2.60" stroke-linejoin="round"/>
<path d="M1187.7 80.7h0M1203.0 287.9h0M1227.3 495.1h0M1238.3 702.3h0" fill="none" stroke="#0000ff" stroke-width="12.6" stroke-linecap="round"/>
<polyline points="1191.2,18.6 1193.6,101.4 1196.4,184.3 1199.5,267.2 1202.3,350.1 1206.1,432.9 1213.6,515.8 1223.4,640.1" fill="none" stroke="#ff0000" stroke-width="3.10" stroke-linejoin="round"/>
<path d="M1191.2 18.6h0M1193.6 101.4h0M1196.4 184.3h0M1199.5 267.2h0M1202.3 350.1h0M1206.1 432.9h0M1213.6 515.8h0M1223.4 640.1h0" fill="none" stroke="#ff0000" stroke-width="12.6" stroke-linecap="round"/>
<polyline points="1166.0,18.6 1168.4,101.4 1171.2,184.3 1174.3,267.2 1179.4,350.1 1198.8,432.9 1248.5,515.8 1254.4,640.1" fill="none" stroke="#008000" stroke-width="3.00" stroke-linejoin="round"/>
<path d="M1166.0 18.6h0M1168.4 101.4h0M1171.2 184.3h0M1174.3 267.2h0M1179.4 350.1h0M1198.8 432.9h0M1248.5 515.8h0M1254.4 640.1h0" fill="none" stroke="#008000" stroke-width="12.6" stroke-linecap="round"/>
<polyline points="1257.4,39.0 1258.4,82.4 1259.3,128.2 1260.2,176.8 1261.4,229.0 1262.4,285.5 1263.3,347.2 1265.2,415.3 1268.5,491.2 1298.4,576.6 1352.1,673.7 1359.2,785.0 1367.4,913.6" fill="none" stroke="#ff00ff" stroke-width="3.30" stroke-linejoin="round"/>
<path d="M1257.4 39.0h0M1258.4 82.4h0M1259.3 128.2h0M1260.2 176.8h0M1261.4 229.0h0M1262.4 285.5h0M1263.3 347.2h0M1265.2 415.3h0M1268.5 491.2h0M1298.4 576.6h0M1352.1 673.7h0M1359.2 785.0h0M1367.4 913.6h0" fill="none" stroke="#ff00ff" stroke-width="12.6" stroke-linecap="round"/>
</g>
<rect x="1073.6" y="19.4" width="395.0" height="784.0" fill="none" stroke="#000" stroke-width="1.39"/>
<path d="M1077.5 803.4v6.1M1170.5 803.4v6.1M1264.5 803.4v6.1M1357.5 803.4v6.1M1450.5 803.4v6.1M1073.6 19.5h-6.1M1073.6 226.5h-6.1M1073.6 433.5h-6.1M1073.6 640.5h-6.1" stroke="#000" stroke-width="1.39" fill="none"/>
<text transform="translate(1075.8 844.6) rotate(-45)" font-size="17.36" text-anchor="middle" dy="0.365em">1021.0</text>
<text transform="translate(1169.1 844.6) rotate(-45)" font-size="17.36" text-anchor="middle" dy="0.365em">1021.5</text>
<text transform="translate(1262.4 844.6) rotate(-45)" font-size="17.36" text-anchor="middle" dy="0.365em">1022.0</text>
<text transform="translate(1355.6 844.6) rotate(-45)" font-size="17.36" text-anchor="middle" dy="0.365em">1022.5</text>
<text transform="translate(1448.9 844.6) rotate(-45)" font-size="17.36" text-anchor="middle" dy="0.365em">1023.0</text>
</g>
<text x="165.1" y="860" font-size="22.57" font-weight="bold">Temperature (<tspan font-weight="normal" font-style="italic" font-size="15.80" dy="-8.2">o</tspan><tspan font-weight="normal" font-style="italic" dy="8.2">C</tspan>)</text>
<text x="772.5" y="858.9" font-size="22.57" font-weight="bold" text-anchor="middle">Salinity</text>
<text x="1270.4" y="895.3" font-size="22.57" font-weight="bold" text-anchor="middle" letter-spacing="0.09">Density (kg m-3)</text>
<text transform="translate(29.2 412.4) rotate(-90)" font-size="22.57" font-weight="bold" text-anchor="middle">Depth (m)</text>
<text x="361.8" y="917.7" font-size="17.36" font-style="italic" letter-spacing="0.018" xml:space="preserve">Ocean Heat Content (kJ/cm^2) - Glider: N/A,  RTOFS: N/A,  ESPC: N/A,  CMEMS: N/A,  NESDIS: nan,</text>
<g font-size="22.57" font-weight="bold" letter-spacing="0.04">
<text x="1531.3" y="36.3">Comparison Date: 2025-09-25</text>
<text x="1531.3" y="89.6">Glider: ru33</text>
<text x="1531.3" y="116.2">Profiles: 193</text>
<text x="1531.3" y="142.7">First: 2025-09-25 00:01:51</text>
<text x="1531.3" y="169.3">Last: 2025-09-25 23:34:03</text>
<text x="1531.3" y="195.9">Method: Nearest-Neighbor</text>
</g>
<g id="map">
<defs><clipPath id="cm"><rect x="1570.8" y="245.4" width="396.0" height="329.6"/></clipPath></defs>
<rect x="1570.8" y="245.4" width="396.0" height="329.6" fill="#97b6e1"/>
<g clip-path="url(#cm)">
<path d="M1560.0 240.0L1797.0 240.0L1797.0 246.0L1796.1 247.3L1794.9 248.5L1793.4 247.7L1792.5 249.3L1791.2 249.6L1790.0 249.9L1788.7 251.3L1787.0 250.7L1785.4 250.7L1783.9 251.2L1783.0 253.3L1781.1 253.2L1779.5 254.2L1778.0 252.1L1776.5 252.4L1775.0 253.5L1773.3 252.0L1772.1 252.4L1771.1 253.7L1770.0 254.4L1768.4 255.8L1766.7 255.6L1765.4 255.7L1765.0 257.6L1763.7 258.0L1762.2 258.3L1761.0 260.1L1760.2 261.5L1759.5 263.0L1758.8 264.4L1758.9 266.0L1757.3 267.4L1756.0 269.0L1754.4 270.4L1753.0 272.0L1752.8 273.6L1751.8 274.9L1751.0 276.7L1750.9 278.6L1749.4 280.9L1747.9 283.5L1746.6 286.1L1746.4 287.7L1746.0 289.2L1745.1 292.0L1745.4 293.5L1745.2 295.0L1747.0 297.5L1749.1 299.0L1750.8 298.5L1752.0 297.3L1752.7 299.5L1751.1 299.8L1750.0 301.0L1748.2 301.5L1746.7 302.5L1745.1 303.2L1742.5 304.5L1741.2 305.9L1740.6 307.6L1740.2 309.2L1739.2 310.4L1740.3 312.6L1742.4 313.2L1744.4 313.1L1746.6 314.9L1748.4 317.0L1749.6 318.3L1749.9 320.1L1750.9 321.8L1751.1 323.9L1751.9 325.4L1752.6 326.9L1753.0 328.4L1754.2 329.5L1755.4 332.0L1757.1 333.1L1759.0 333.2L1761.0 333.3L1762.8 332.7L1764.9 333.2L1766.6 332.3L1768.4 329.9L1769.4 328.1L1769.2 326.0L1768.9 324.5L1769.0 323.0L1767.8 321.6L1766.4 320.6L1765.3 319.4L1763.6 319.5L1762.4 320.4L1763.8 321.2L1765.5 321.4L1767.1 321.9L1768.6 322.6L1770.0 324.1L1770.6 326.0L1771.3 327.6L1771.5 329.3L1771.6 330.9L1771.4 332.4L1771.0 334.0L1770.8 336.0L1770.4 338.0L1768.4 339.9L1766.6 339.5L1764.9 338.4L1763.5 337.4L1761.7 337.3L1759.9 338.2L1758.0 338.6L1755.9 338.9L1753.9 339.7L1752.7 341.0L1750.9 341.3L1748.2 342.6L1746.2 341.2L1746.8 339.6L1747.3 337.9L1748.0 336.2L1749.7 335.1L1749.1 333.3L1747.5 334.2L1746.1 335.6L1744.5 336.5L1743.5 338.0L1741.6 339.6L1739.6 341.6L1737.6 342.4L1735.0 342.2L1734.4 340.6L1734.5 339.0L1734.4 337.1L1733.6 335.5L1731.8 333.1L1730.7 334.3L1730.6 336.1L1730.8 338.1L1730.1 340.0L1729.8 341.8L1729.7 343.5L1728.5 344.9L1727.0 345.7L1725.0 346.2L1723.0 347.0L1721.5 347.2L1719.9 346.9L1718.4 347.4L1716.6 347.6L1714.8 347.8L1713.0 348.2L1710.9 348.8L1708.7 348.8L1707.1 349.4L1705.3 348.6L1703.6 349.0L1702.0 349.3L1700.3 350.2L1698.5 349.6L1696.8 349.9L1695.0 349.9L1693.3 350.3L1691.6 349.6L1690.0 350.8L1688.3 350.3L1686.6 350.4L1684.8 351.1L1683.4 352.4L1682.0 353.2L1680.7 354.2L1679.1 354.0L1677.5 354.9L1675.8 354.8L1674.2 355.0L1672.7 355.5L1671.5 356.6L1670.0 356.9L1667.9 357.6L1666.2 359.0L1664.5 360.1L1663.0 361.5L1661.4 363.4L1660.1 364.6L1659.1 366.1L1657.4 368.0L1655.4 369.9L1654.0 370.7L1652.9 371.9L1651.5 373.1L1649.7 373.9L1648.8 375.2L1648.0 376.5L1647.2 378.8L1648.7 380.9L1650.8 382.0L1653.4 380.8L1655.6 379.6L1656.3 382.0L1656.5 383.7L1656.7 385.5L1656.1 387.2L1656.0 389.0L1655.3 391.1L1654.6 393.3L1654.6 395.2L1654.0 397.1L1653.6 399.0L1652.9 401.0L1653.0 402.7L1652.7 404.4L1651.6 405.9L1651.6 407.7L1650.7 409.0L1649.2 410.0L1648.6 411.5L1647.2 412.7L1646.4 414.3L1645.0 415.4L1643.6 416.7L1642.3 418.2L1641.4 419.9L1640.5 421.4L1639.3 422.7L1638.4 424.1L1637.7 425.8L1636.4 427.0L1635.4 428.4L1634.2 429.7L1633.3 431.2L1632.3 432.7L1630.6 435.1L1628.7 436.4L1628.0 434.5L1628.8 432.9L1629.9 431.4L1631.3 428.9L1629.7 427.8L1628.0 427.0L1626.3 426.7L1624.8 425.9L1623.2 424.3L1621.0 423.5L1618.8 422.8L1616.9 421.4L1615.8 419.7L1613.9 419.0L1613.1 417.4L1611.8 416.4L1610.5 414.0L1610.5 411.3L1609.6 411.5L1610.1 412.9L1609.8 414.5L1611.1 415.9L1611.1 417.9L1612.3 419.2L1613.5 421.0L1614.2 422.9L1614.9 425.1L1616.1 427.0L1616.7 429.0L1617.4 431.0L1617.7 432.7L1618.0 434.3L1618.9 435.7L1620.7 436.9L1622.0 438.5L1623.7 439.7L1625.0 441.3L1625.3 443.4L1625.7 445.5L1626.4 447.8L1626.3 450.1L1626.2 452.1L1625.7 454.0L1625.3 455.9L1624.8 457.8L1623.8 459.2L1623.4 461.0L1622.4 462.4L1621.2 464.0L1621.2 466.0L1619.7 467.4L1618.5 469.1L1617.6 471.1L1616.3 472.6L1615.1 474.2L1613.8 475.4L1613.5 477.1L1612.5 478.5L1611.3 480.5L1610.7 482.9L1610.1 484.9L1610.4 487.0L1610.0 488.8L1610.1 490.7L1609.0 492.0L1608.0 493.4L1607.4 495.0L1606.3 496.3L1605.8 498.0L1604.5 499.2L1603.0 500.0L1601.9 501.3L1600.3 502.7L1599.4 501.8L1600.2 500.4L1599.0 498.9L1600.6 497.5L1600.0 496.0L1599.5 494.7L1599.2 493.3L1600.4 492.4L1601.0 491.2L1601.5 490.1L1601.7 488.9L1601.0 487.3L1603.4 487.0L1602.1 485.1L1603.9 484.6L1603.4 483.0L1604.4 482.0L1606.1 481.5L1605.7 479.8L1606.0 478.2L1607.6 477.4L1608.6 476.1L1609.6 475.1L1609.7 473.8L1610.0 472.7L1608.4 472.0L1607.8 470.4L1605.7 472.0L1604.9 470.8L1603.9 469.6L1602.3 469.3L1601.6 467.8L1601.5 466.6L1600.9 465.3L1600.8 463.9L1600.0 462.8L1598.8 461.9L1598.5 460.6L1598.8 459.0L1598.3 457.8L1596.1 457.5L1596.5 455.8L1596.8 454.4L1595.3 453.7L1594.9 452.5L1593.9 451.5L1594.0 450.0L1593.6 448.7L1593.6 447.3L1592.5 446.1L1594.0 444.6L1592.6 443.6L1592.1 442.4L1593.0 441.1L1592.1 440.0L1591.9 438.8L1592.3 437.6L1590.6 436.5L1591.8 435.2L1591.5 434.0L1593.0 433.0L1593.0 431.8L1591.5 430.3L1592.3 429.2L1592.1 427.9L1592.9 426.6L1594.4 425.6L1595.2 424.3L1594.8 422.5L1595.1 421.0L1595.6 419.6L1597.3 418.9L1598.2 417.7L1598.2 415.7L1600.5 415.7L1600.6 413.7L1601.4 412.4L1602.8 411.6L1600.8 411.4L1600.3 412.9L1599.4 413.8L1598.0 414.3L1597.7 415.8L1596.1 416.2L1596.5 418.2L1594.9 418.7L1594.6 420.1L1593.5 421.0L1592.5 421.9L1592.0 423.2L1591.4 424.4L1590.5 425.5L1589.6 426.5L1589.9 428.1L1589.3 429.4L1587.7 430.3L1587.2 431.6L1587.0 433.0L1585.9 434.0L1586.2 435.3L1585.4 436.4L1586.7 437.9L1585.6 439.0L1585.0 440.4L1584.8 441.8L1586.4 443.2L1586.4 444.6L1585.6 446.0L1586.9 447.1L1585.0 448.6L1585.5 449.7L1587.6 450.7L1587.1 452.0L1586.5 453.4L1588.0 454.4L1588.7 455.5L1587.7 457.1L1588.6 458.1L1588.2 459.7L1589.7 460.5L1587.6 460.5L1586.0 459.8L1584.4 460.8L1583.3 460.0L1582.4 458.4L1581.1 458.1L1580.1 457.0L1578.2 458.8L1577.3 457.5L1576.1 456.9L1574.8 456.9L1573.6 456.1L1572.1 457.1L1564.0 456.4L1572.0 457.3L1572.2 458.5L1564.0 459.8L1572.2 460.2L1573.4 460.8L1575.0 460.1L1576.1 461.1L1577.5 461.1L1578.2 463.0L1579.4 463.8L1580.9 463.4L1582.6 462.5L1583.9 462.9L1584.3 465.6L1586.0 465.0L1586.7 466.2L1588.3 465.9L1589.2 466.8L1590.2 467.5L1590.8 468.9L1590.9 470.6L1592.1 471.8L1590.9 473.2L1590.3 474.4L1591.8 475.9L1590.8 477.0L1590.1 478.2L1590.8 479.5L1591.3 480.8L1590.7 482.0L1590.7 483.5L1592.3 484.7L1591.0 486.6L1590.8 488.1L1591.1 489.5L1591.4 491.0L1591.6 492.2L1592.3 493.4L1591.9 494.6L1592.3 495.8L1591.9 497.0L1591.5 498.2L1592.8 499.6L1591.0 500.7L1591.7 502.0L1591.1 503.6L1591.3 505.4L1593.2 506.3L1594.3 507.8L1595.8 508.7L1597.5 508.2L1599.0 508.7L1600.4 508.3L1600.4 512.0L1600.9 513.6L1600.9 515.4L1601.8 517.0L1602.3 518.8L1602.6 520.7L1603.2 522.4L1603.4 524.3L1603.2 526.2L1603.5 528.0L1603.7 529.8L1602.5 531.4L1602.7 533.2L1601.7 534.5L1600.2 535.4L1599.2 533.7L1598.0 532.0L1596.0 531.2L1594.4 532.5L1593.8 534.4L1592.1 532.1L1590.7 532.5L1589.1 533.8L1588.7 535.7L1587.7 534.3L1586.7 533.1L1585.3 533.7L1584.7 535.0L1584.4 536.5L1583.3 537.7L1581.2 535.4L1580.1 536.1L1579.9 537.7L1578.8 539.2L1578.9 541.0L1580.5 541.3L1582.1 541.8L1583.6 541.5L1585.2 541.8L1586.6 541.2L1588.1 541.2L1589.6 540.4L1591.1 540.6L1592.6 540.6L1594.0 539.6L1595.7 540.5L1597.1 539.6L1598.9 540.2L1600.8 540.2L1602.5 541.0L1604.0 542.2L1605.8 543.0L1606.0 545.5L1607.3 547.4L1607.1 549.2L1606.8 551.0L1606.8 552.8L1605.8 554.0L1604.4 554.8L1603.5 556.0L1602.0 557.3L1600.2 558.0L1599.4 559.5L1598.6 561.0L1597.2 562.0L1595.1 563.7L1593.3 563.3L1591.8 562.3L1590.4 561.7L1589.3 560.4L1587.9 559.7L1586.3 559.4L1585.2 557.4L1583.3 556.3L1581.1 557.3L1579.2 557.1L1577.7 558.0L1576.0 558.4L1574.5 557.4L1572.6 557.9L1564.0 557.2L1564.0 560.0L1572.6 560.7L1574.4 560.8L1576.0 561.8L1577.8 561.7L1579.5 562.0L1581.3 561.8L1582.9 562.7L1584.7 562.8L1586.4 563.1L1586.1 565.6L1585.6 567.2L1585.5 568.8L1584.3 569.9L1583.1 570.9L1582.1 572.1L1581.1 573.2L1579.4 574.0L1578.0 575.0L1578.0 582.0L1560.0 582.0Z" fill="#d2b48c"/>
<path d="M1651.7 375.0L1654.0 372.5L1657.5 369.4L1661.5 367.2L1666.2 365.6L1671.0 365.0L1675.8 364.5L1679.0 365.0L1679.8 362.4L1685.0 362.2L1690.0 361.7L1694.3 361.3L1697.0 359.2L1699.1 357.4L1703.5 355.5L1707.8 354.0L1706.0 356.2L1703.0 358.0L1700.5 360.0L1704.0 360.0L1708.0 359.2L1712.0 358.2L1716.4 357.6L1713.0 359.7L1708.7 361.5L1701.0 365.0L1694.3 368.0L1689.0 370.2L1684.6 371.9L1680.0 373.4L1675.8 374.2L1668.0 375.5L1661.4 376.2L1656.0 376.7Z" fill="#d2b48c"/>
<path d="M1744.8 346.2L1748.0 344.8L1752.0 344.5L1756.0 345.2L1757.5 346.7L1755.0 348.6L1750.0 348.9L1746.0 348.3Z" fill="#d2b48c"/>
<path d="M1758.9 347.6L1761.0 349.8L1764.6 351.3L1768.5 351.3L1770.0 349.5L1769.5 347.0L1767.5 345.8L1768.0 348.2L1766.0 349.5L1762.5 349.0L1760.0 347.5Z" fill="#d2b48c"/>
<path d="M1877.0 240.0L1877.0 246.0L1876.3 247.2L1877.0 248.4L1875.7 249.6L1875.9 250.8L1876.9 252.0L1878.0 253.4L1878.4 254.9L1877.0 256.4L1877.5 258.1L1878.9 259.1L1880.7 260.6L1882.0 260.5L1882.7 262.1L1884.0 262.1L1884.9 262.9L1885.9 263.6L1887.0 264.1L1888.9 264.6L1889.7 266.3L1889.3 268.3L1890.2 269.1L1891.6 269.6L1892.6 267.5L1894.3 267.6L1895.2 266.5L1896.6 265.8L1897.9 265.1L1897.1 263.4L1898.6 262.4L1898.3 260.9L1898.1 259.5L1900.0 258.8L1900.0 257.5L1901.4 257.3L1902.5 256.2L1904.0 256.0L1904.8 254.8L1906.1 254.7L1907.6 255.4L1908.6 254.7L1908.8 252.6L1909.9 252.0L1912.0 252.9L1912.6 251.6L1914.1 251.2L1914.4 249.1L1915.9 248.8L1916.6 247.4L1918.7 247.6L1919.1 245.9L1919.2 240.0Z" fill="#d2b48c"/>
<path d="M1560.0 240.0L1596.8 240.0L1596.8 246.0L1592.5 250.6L1593.9 259.3L1592.0 263.6L1585.7 266.0L1579.5 270.8L1571.0 274.2L1560.0 274.2Z" fill="#b3b3b3"/>
<path d="M1596.8 276.2L1601.5 277.0L1606.4 277.0" fill="none" stroke="#b3b3b3" stroke-width="1.6" stroke-linecap="round"/>
<path d="M1584.2 289.0L1586.2 293.0" fill="none" stroke="#b3b3b3" stroke-width="0.9" stroke-linecap="round"/>
<path d="M1587.6 287.6L1591.4 292.6" fill="none" stroke="#b3b3b3" stroke-width="0.9" stroke-linecap="round"/>
<path d="M1578.0 290.0L1579.4 297.0L1584.5 304.2" fill="none" stroke="#b3b3b3" stroke-width="0.9" stroke-linecap="round"/>
<path d="M1574.1 297.8L1574.6 306.5" fill="none" stroke="#b3b3b3" stroke-width="0.9" stroke-linecap="round"/>
<path d="M1728.5 258.6L1731.0 260.5L1733.6 263.0" fill="none" stroke="#b3b3b3" stroke-width="2.0" stroke-linecap="round"/>
<path d="M1730.6 257.4L1730.2 260.4" fill="none" stroke="#b3b3b3" stroke-width="1.4" stroke-linecap="round"/>
<path d="M1752.0 249.6L1754.4 253.4" fill="none" stroke="#b3b3b3" stroke-width="1.9" stroke-linecap="round"/>
<path d="M1653.7 246.0L1650.3 251.6L1657.5 257.3L1660.9 265.0L1659.5 271.8L1661.4 275.2L1666.7 273.3L1667.7 281.4L1664.8 292.0L1661.9 311.3L1657.5 322.0L1658.0 332.5L1656.1 342.2L1657.0 348.9M1614.2 267.0L1617.0 271.3L1615.1 276.6L1627.7 283.4L1632.5 282.9L1639.2 287.7L1648.9 286.3L1657.5 291.1L1664.8 292.5M1630.5 292.5L1628.6 305.5L1614.2 311.8L1609.3 318.0L1609.8 324.8M1638.3 307.5L1630.5 311.3L1622.8 317.1L1615.6 320.5M1584.8 324.8L1586.2 320.0L1592.0 319.0L1596.8 320.0L1603.6 319.0L1606.4 323.9L1609.8 324.8M1584.8 323.4L1585.7 329.6L1591.0 334.5L1598.7 338.3L1605.5 346.0L1604.5 349.9L1595.8 354.7L1594.9 358.1L1584.3 362.9L1577.0 364.8M1571.0 350.8L1577.0 352.3L1574.8 356.0L1575.6 362.4L1577.0 364.8L1575.6 370.1L1572.2 377.8L1571.7 383.6L1577.5 390.4L1584.3 395.2L1589.1 402.9L1593.9 408.7L1597.8 412.5M1584.8 267.0L1590.0 275.7L1592.5 278.6L1588.1 278.6L1580.4 281.9L1577.5 288.2L1572.2 290.1L1573.2 296.9L1571.0 297.9M1721.7 246.0L1722.2 259.3L1719.8 262.7L1723.2 269.9L1727.5 278.6L1727.5 290.1L1729.9 297.8L1734.8 296.9L1742.5 291.0M1699.1 295.9L1695.7 301.7L1694.8 317.1L1694.3 329.6L1693.8 332.2L1694.3 338.9L1702.0 346.6M1571.0 543.5L1575.0 545.0L1578.0 543.6L1580.0 544.5" fill="none" stroke="#97b6e1" stroke-width="1.5" stroke-linejoin="round" stroke-linecap="round"/>
<path d="M1571.0 323.4L1617.8 323.4L1620.9 327.7L1625.7 330.6L1626.2 337.3L1629.6 342.7L1636.3 346.5M1636.3 346.7L1658.5 361.0M1636.3 346.7L1631.5 352.8L1623.8 360.5L1625.7 366.3L1621.9 370.1L1622.8 375.9L1627.7 382.7L1635.8 391.8L1625.7 398.1L1617.0 404.8M1617.0 404.8L1614.0 403.5L1611.3 403.3L1608.5 404.2L1606.4 405.8L1606.0 407.7M1571.0 407.6L1606.0 407.6M1606.0 407.7L1607.4 453.0L1624.8 453.0M1605.0 469.4L1616.1 468.4M1571.0 433.7L1573.7 438.1L1571.0 441.4M1571.0 520.7L1598.4 520.7M1672.5 246.0L1672.9 253.0L1673.4 260.7L1675.6 261.5L1676.8 263.4L1676.7 280.0L1676.6 294.0M1676.6 294.0L1670.0 320.5M1670.2 320.5L1669.6 336.0L1669.1 350.8L1671.0 352.3L1663.3 357.1L1665.7 358.6M1676.6 294.4L1699.0 294.9L1731.9 295.9L1734.8 293.2L1737.7 291.1L1744.4 289.2M1670.2 320.6L1675.0 321.5L1700.0 321.9L1729.9 322.4M1717.9 322.4L1717.9 346.8M1729.9 322.4L1730.3 326.0L1731.0 329.0M1709.7 246.0L1706.5 251.0L1703.9 256.4L1701.0 264.1L1700.0 272.0L1699.1 280.5L1696.7 290.1L1699.1 294.9M1740.5 246.0L1741.0 257.0L1741.5 268.0L1745.4 275.7L1748.3 282.4" fill="none" stroke="#000" stroke-width="1.4" stroke-linejoin="round"/>
<path d="M1585.8 243.5L1584.2 247.4" fill="none" stroke="#000" stroke-width="1.8" stroke-linejoin="round"/>
<path d="M1582.6 250.4L1578.3 258.6L1576.6 260.3L1574.0 261.0L1568.0 261.3" fill="none" stroke="#000" stroke-width="1.8" stroke-linejoin="round"/>
<path d="M1797.0 246.0L1796.1 247.3L1794.9 248.5L1793.4 247.7L1792.5 249.3L1791.2 249.6L1790.0 249.9L1788.7 251.3L1787.0 250.7L1785.4 250.7L1783.9 251.2L1783.0 253.3L1781.1 253.2L1779.5 254.2L1778.0 252.1L1776.5 252.4L1775.0 253.5L1773.3 252.0L1772.1 252.4L1771.1 253.7L1770.0 254.4L1768.4 255.8L1766.7 255.6L1765.4 255.7L1765.0 257.6L1763.7 258.0L1762.2 258.3L1761.0 260.1L1760.2 261.5L1759.5 263.0L1758.8 264.4L1758.9 266.0L1757.3 267.4L1756.0 269.0L1754.4 270.4L1753.0 272.0L1752.8 273.6L1751.8 274.9L1751.0 276.7" fill="none" stroke="#000" stroke-width="4.2" stroke-linejoin="round"/>
<path d="M1797.0 246.0L1796.1 247.3L1794.9 248.5L1793.4 247.7L1792.5 249.3L1791.2 249.6L1790.0 249.9L1788.7 251.3L1787.0 250.7L1785.4 250.7L1783.9 251.2L1783.0 253.3L1781.1 253.2L1779.5 254.2L1778.0 252.1L1776.5 252.4L1775.0 253.5L1773.3 252.0L1772.1 252.4L1771.1 253.7L1770.0 254.4L1768.4 255.8L1766.7 255.6L1765.4 255.7L1765.0 257.6L1763.7 258.0L1762.2 258.3L1761.0 260.1L1760.2 261.5L1759.5 263.0L1758.8 264.4L1758.9 266.0L1757.3 267.4L1756.0 269.0L1754.4 270.4L1753.0 272.0L1752.8 273.6L1751.8 274.9L1751.0 276.7L1750.9 278.6L1749.4 280.9L1747.9 283.5L1746.6 286.1L1746.4 287.7L1746.0 289.2L1745.1 292.0L1745.4 293.5L1745.2 295.0L1747.0 297.5L1749.1 299.0L1750.8 298.5L1752.0 297.3L1752.7 299.5L1751.1 299.8L1750.0 301.0L1748.2 301.5L1746.7 302.5L1745.1 303.2L1742.5 304.5L1741.2 305.9L1740.6 307.6L1740.2 309.2L1739.2 310.4L1740.3 312.6L1742.4 313.2L1744.4 313.1L1746.6 314.9L1748.4 317.0L1749.6 318.3L1749.9 320.1L1750.9 321.8L1751.1 323.9L1751.9 325.4L1752.6 326.9L1753.0 328.4L1754.2 329.5L1755.4 332.0L1757.1 333.1L1759.0 333.2L1761.0 333.3L1762.8 332.7L1764.9 333.2L1766.6 332.3L1768.4 329.9L1769.4 328.1L1769.2 326.0L1768.9 324.5L1769.0 323.0L1767.8 321.6L1766.4 320.6L1765.3 319.4L1763.6 319.5L1762.4 320.4L1763.8 321.2L1765.5 321.4L1767.1 321.9L1768.6 322.6L1770.0 324.1L1770.6 326.0L1771.3 327.6L1771.5 329.3L1771.6 330.9L1771.4 332.4L1771.0 334.0L1770.8 336.0L1770.4 338.0L1768.4 339.9L1766.6 339.5L1764.9 338.4L1763.5 337.4L1761.7 337.3L1759.9 338.2L1758.0 338.6L1755.9 338.9L1753.9 339.7L1752.7 341.0L1750.9 341.3L1748.2 342.6L1746.2 341.2L1746.8 339.6L1747.3 337.9L1748.0 336.2L1749.7 335.1L1749.1 333.3L1747.5 334.2L1746.1 335.6L1744.5 336.5L1743.5 338.0L1741.6 339.6L1739.6 341.6L1737.6 342.4L1735.0 342.2L1734.4 340.6L1734.5 339.0L1734.4 337.1L1733.6 335.5L1731.8 333.1L1730.7 334.3L1730.6 336.1L1730.8 338.1L1730.1 340.0L1729.8 341.8L1729.7 343.5L1728.5 344.9L1727.0 345.7L1725.0 346.2L1723.0 347.0L1721.5 347.2L1719.9 346.9L1718.4 347.4L1716.6 347.6L1714.8 347.8L1713.0 348.2L1710.9 348.8L1708.7 348.8L1707.1 349.4L1705.3 348.6L1703.6 349.0L1702.0 349.3L1700.3 350.2L1698.5 349.6L1696.8 349.9L1695.0 349.9L1693.3 350.3L1691.6 349.6L1690.0 350.8L1688.3 350.3L1686.6 350.4L1684.8 351.1L1683.4 352.4L1682.0 353.2L1680.7 354.2L1679.1 354.0L1677.5 354.9L1675.8 354.8L1674.2 355.0L1672.7 355.5L1671.5 356.6L1670.0 356.9L1667.9 357.6L1666.2 359.0L1664.5 360.1L1663.0 361.5L1661.4 363.4L1660.1 364.6L1659.1 366.1L1657.4 368.0L1655.4 369.9L1654.0 370.7L1652.9 371.9L1651.5 373.1L1649.7 373.9L1648.8 375.2L1648.0 376.5L1647.2 378.8L1648.7 380.9L1650.8 382.0L1653.4 380.8L1655.6 379.6L1656.3 382.0L1656.5 383.7L1656.7 385.5L1656.1 387.2L1656.0 389.0L1655.3 391.1L1654.6 393.3L1654.6 395.2L1654.0 397.1L1653.6 399.0L1652.9 401.0L1653.0 402.7L1652.7 404.4L1651.6 405.9L1651.6 407.7L1650.7 409.0L1649.2 410.0L1648.6 411.5L1647.2 412.7L1646.4 414.3L1645.0 415.4L1643.6 416.7L1642.3 418.2L1641.4 419.9L1640.5 421.4L1639.3 422.7L1638.4 424.1L1637.7 425.8L1636.4 427.0L1635.4 428.4L1634.2 429.7L1633.3 431.2L1632.3 432.7L1630.6 435.1L1628.7 436.4L1628.0 434.5L1628.8 432.9L1629.9 431.4L1631.3 428.9L1629.7 427.8L1628.0 427.0L1626.3 426.7L1624.8 425.9L1623.2 424.3L1621.0 423.5L1618.8 422.8L1616.9 421.4L1615.8 419.7L1613.9 419.0L1613.1 417.4L1611.8 416.4L1610.5 414.0L1610.5 411.3L1609.6 411.5L1610.1 412.9L1609.8 414.5L1611.1 415.9L1611.1 417.9L1612.3 419.2L1613.5 421.0L1614.2 422.9L1614.9 425.1L1616.1 427.0L1616.7 429.0L1617.4 431.0L1617.7 432.7L1618.0 434.3L1618.9 435.7L1620.7 436.9L1622.0 438.5L1623.7 439.7L1625.0 441.3L1625.3 443.4L1625.7 445.5L1626.4 447.8L1626.3 450.1L1626.2 452.1L1625.7 454.0L1625.3 455.9L1624.8 457.8L1623.8 459.2L1623.4 461.0L1622.4 462.4L1621.2 464.0L1621.2 466.0L1619.7 467.4L1618.5 469.1L1617.6 471.1L1616.3 472.6L1615.1 474.2L1613.8 475.4L1613.5 477.1L1612.5 478.5L1611.3 480.5L1610.7 482.9L1610.1 484.9L1610.4 487.0L1610.0 488.8L1610.1 490.7L1609.0 492.0L1608.0 493.4L1607.4 495.0L1606.3 496.3L1605.8 498.0L1604.5 499.2L1603.0 500.0L1601.9 501.3L1600.3 502.7L1599.4 501.8L1600.2 500.4L1599.0 498.9L1600.6 497.5L1600.0 496.0L1599.5 494.7L1599.2 493.3L1600.4 492.4L1601.0 491.2L1601.5 490.1L1601.7 488.9L1601.0 487.3L1603.4 487.0L1602.1 485.1L1603.9 484.6L1603.4 483.0L1604.4 482.0L1606.1 481.5L1605.7 479.8L1606.0 478.2L1607.6 477.4L1608.6 476.1L1609.6 475.1L1609.7 473.8L1610.0 472.7L1608.4 472.0L1607.8 470.4L1605.7 472.0L1604.9 470.8L1603.9 469.6L1602.3 469.3L1601.6 467.8L1601.5 466.6L1600.9 465.3L1600.8 463.9L1600.0 462.8L1598.8 461.9L1598.5 460.6L1598.8 459.0L1598.3 457.8L1596.1 457.5L1596.5 455.8L1596.8 454.4L1595.3 453.7L1594.9 452.5L1593.9 451.5L1594.0 450.0L1593.6 448.7L1593.6 447.3L1592.5 446.1L1594.0 444.6L1592.6 443.6L1592.1 442.4L1593.0 441.1L1592.1 440.0L1591.9 438.8L1592.3 437.6L1590.6 436.5L1591.8 435.2L1591.5 434.0L1593.0 433.0L1593.0 431.8L1591.5 430.3L1592.3 429.2L1592.1 427.9L1592.9 426.6L1594.4 425.6L1595.2 424.3L1594.8 422.5L1595.1 421.0L1595.6 419.6L1597.3 418.9L1598.2 417.7L1598.2 415.7L1600.5 415.7L1600.6 413.7L1601.4 412.4L1602.8 411.6L1600.8 411.4L1600.3 412.9L1599.4 413.8L1598.0 414.3L1597.7 415.8L1596.1 416.2L1596.5 418.2L1594.9 418.7L1594.6 420.1L1593.5 421.0L1592.5 421.9L1592.0 423.2L1591.4 424.4L1590.5 425.5L1589.6 426.5L1589.9 428.1L1589.3 429.4L1587.7 430.3L1587.2 431.6L1587.0 433.0L1585.9 434.0L1586.2 435.3L1585.4 436.4L1586.7 437.9L1585.6 439.0L1585.0 440.4L1584.8 441.8L1586.4 443.2L1586.4 444.6L1585.6 446.0L1586.9 447.1L1585.0 448.6L1585.5 449.7L1587.6 450.7L1587.1 452.0L1586.5 453.4L1588.0 454.4L1588.7 455.5L1587.7 457.1L1588.6 458.1L1588.2 459.7L1589.7 460.5L1587.6 460.5L1586.0 459.8L1584.4 460.8L1583.3 460.0L1582.4 458.4L1581.1 458.1L1580.1 457.0L1578.2 458.8L1577.3 457.5L1576.1 456.9L1574.8 456.9L1573.6 456.1L1572.1 457.1L1564.0 456.4L1572.0 457.3L1572.2 458.5L1564.0 459.8L1572.2 460.2L1573.4 460.8L1575.0 460.1L1576.1 461.1L1577.5 461.1L1578.2 463.0L1579.4 463.8L1580.9 463.4L1582.6 462.5L1583.9 462.9L1584.3 465.6L1586.0 465.0L1586.7 466.2L1588.3 465.9L1589.2 466.8L1590.2 467.5L1590.8 468.9L1590.9 470.6L1592.1 471.8L1590.9 473.2L1590.3 474.4L1591.8 475.9L1590.8 477.0L1590.1 478.2L1590.8 479.5L1591.3 480.8L1590.7 482.0L1590.7 483.5L1592.3 484.7L1591.0 486.6L1590.8 488.1L1591.1 489.5L1591.4 491.0L1591.6 492.2L1592.3 493.4L1591.9 494.6L1592.3 495.8L1591.9 497.0L1591.5 498.2L1592.8 499.6L1591.0 500.7L1591.7 502.0L1591.1 503.6L1591.3 505.4L1593.2 506.3L1594.3 507.8L1595.8 508.7L1597.5 508.2L1599.0 508.7L1600.4 508.3L1600.4 512.0L1600.9 513.6L1600.9 515.4L1601.8 517.0L1602.3 518.8L1602.6 520.7L1603.2 522.4L1603.4 524.3L1603.2 526.2L1603.5 528.0L1603.7 529.8L1602.5 531.4L1602.7 533.2L1601.7 534.5L1600.2 535.4L1599.2 533.7L1598.0 532.0L1596.0 531.2L1594.4 532.5L1593.8 534.4L1592.1 532.1L1590.7 532.5L1589.1 533.8L1588.7 535.7L1587.7 534.3L1586.7 533.1L1585.3 533.7L1584.7 535.0L1584.4 536.5L1583.3 537.7L1581.2 535.4L1580.1 536.1L1579.9 537.7L1578.8 539.2L1578.9 541.0L1580.5 541.3L1582.1 541.8L1583.6 541.5L1585.2 541.8L1586.6 541.2L1588.1 541.2L1589.6 540.4L1591.1 540.6L1592.6 540.6L1594.0 539.6L1595.7 540.5L1597.1 539.6L1598.9 540.2L1600.8 540.2L1602.5 541.0L1604.0 542.2L1605.8 543.0L1606.0 545.5L1607.3 547.4L1607.1 549.2L1606.8 551.0L1606.8 552.8L1605.8 554.0L1604.4 554.8L1603.5 556.0L1602.0 557.3L1600.2 558.0L1599.4 559.5L1598.6 561.0L1597.2 562.0L1595.1 563.7L1593.3 563.3L1591.8 562.3L1590.4 561.7L1589.3 560.4L1587.9 559.7L1586.3 559.4L1585.2 557.4L1583.3 556.3L1581.1 557.3L1579.2 557.1L1577.7 558.0L1576.0 558.4L1574.5 557.4L1572.6 557.9L1564.0 557.2L1564.0 560.0L1572.6 560.7L1574.4 560.8L1576.0 561.8L1577.8 561.7L1579.5 562.0L1581.3 561.8L1582.9 562.7L1584.7 562.8L1586.4 563.1L1586.1 565.6L1585.6 567.2L1585.5 568.8L1584.3 569.9L1583.1 570.9L1582.1 572.1L1581.1 573.2L1579.4 574.0L1578.0 575.0" fill="none" stroke="#000" stroke-width="2.7" stroke-linejoin="round"/>
<path d="M1599.4 501.8L1600.2 500.4L1599.0 498.9L1600.6 497.5L1600.0 496.0L1599.5 494.7L1599.2 493.3L1600.4 492.4L1601.0 491.2L1601.5 490.1L1601.7 488.9L1601.0 487.3L1603.4 487.0L1602.1 485.1L1603.9 484.6L1603.4 483.0L1604.4 482.0L1606.1 481.5L1605.7 479.8L1606.0 478.2L1607.6 477.4L1608.6 476.1L1609.6 475.1L1609.7 473.8L1610.0 472.7L1608.4 472.0L1607.8 470.4L1605.7 472.0L1604.9 470.8L1603.9 469.6L1602.3 469.3L1601.6 467.8L1601.5 466.6L1600.9 465.3L1600.8 463.9L1600.0 462.8L1598.8 461.9L1598.5 460.6L1598.8 459.0L1598.3 457.8L1596.1 457.5L1596.5 455.8L1596.8 454.4L1595.3 453.7L1594.9 452.5L1593.9 451.5L1594.0 450.0L1593.6 448.7L1593.6 447.3L1592.5 446.1L1594.0 444.6L1592.6 443.6L1592.1 442.4L1593.0 441.1L1592.1 440.0L1591.9 438.8L1592.3 437.6L1590.6 436.5L1591.8 435.2L1591.5 434.0L1593.0 433.0L1593.0 431.8L1591.5 430.3L1592.3 429.2L1592.1 427.9L1592.9 426.6L1594.4 425.6L1595.2 424.3L1594.8 422.5L1595.1 421.0L1595.6 419.6L1597.3 418.9L1598.2 417.7L1598.2 415.7L1600.5 415.7L1600.6 413.7L1601.4 412.4L1602.8 411.6L1600.8 411.4L1600.3 412.9L1599.4 413.8L1598.0 414.3L1597.7 415.8L1596.1 416.2L1596.5 418.2L1594.9 418.7L1594.6 420.1L1593.5 421.0L1592.5 421.9L1592.0 423.2L1591.4 424.4L1590.5 425.5L1589.6 426.5L1589.9 428.1L1589.3 429.4L1587.7 430.3L1587.2 431.6L1587.0 433.0L1585.9 434.0L1586.2 435.3L1585.4 436.4L1586.7 437.9L1585.6 439.0L1585.0 440.4L1584.8 441.8L1586.4 443.2L1586.4 444.6L1585.6 446.0L1586.9 447.1L1585.0 448.6L1585.5 449.7L1587.6 450.7L1587.1 452.0L1586.5 453.4L1588.0 454.4L1588.7 455.5L1587.7 457.1L1588.6 458.1L1588.2 459.7L1589.7 460.5L1587.6 460.5L1586.0 459.8L1584.4 460.8L1583.3 460.0L1582.4 458.4L1581.1 458.1L1580.1 457.0L1578.2 458.8L1577.3 457.5L1576.1 456.9L1574.8 456.9L1573.6 456.1L1572.1 457.1L1564.0 456.4L1572.0 457.3L1572.2 458.5L1564.0 459.8L1572.2 460.2L1573.4 460.8L1575.0 460.1L1576.1 461.1L1577.5 461.1L1578.2 463.0L1579.4 463.8L1580.9 463.4L1582.6 462.5L1583.9 462.9L1584.3 465.6L1586.0 465.0L1586.7 466.2L1588.3 465.9L1589.2 466.8L1590.2 467.5L1590.8 468.9L1590.9 470.6L1592.1 471.8L1590.9 473.2L1590.3 474.4L1591.8 475.9L1590.8 477.0L1590.1 478.2L1590.8 479.5L1591.3 480.8L1590.7 482.0L1590.7 483.5L1592.3 484.7L1591.0 486.6L1590.8 488.1L1591.1 489.5L1591.4 491.0L1591.6 492.2L1592.3 493.4L1591.9 494.6L1592.3 495.8L1591.9 497.0L1591.5 498.2L1592.8 499.6L1591.0 500.7L1591.7 502.0L1591.1 503.6L1591.3 505.4L1593.2 506.3L1594.3 507.8L1595.8 508.7L1597.5 508.2L1599.0 508.7L1600.4 508.3" fill="none" stroke="#000" stroke-width="3.0" stroke-linejoin="round"/>
<path d="M1877.0 246.0L1876.3 247.2L1877.0 248.4L1875.7 249.6L1875.9 250.8L1876.9 252.0L1878.0 253.4L1878.4 254.9L1877.0 256.4L1877.5 258.1L1878.9 259.1L1880.7 260.6L1882.0 260.5L1882.7 262.1L1884.0 262.1L1884.9 262.9L1885.9 263.6L1887.0 264.1L1888.9 264.6L1889.7 266.3L1889.3 268.3L1890.2 269.1L1891.6 269.6L1892.6 267.5L1894.3 267.6L1895.2 266.5L1896.6 265.8L1897.9 265.1L1897.1 263.4L1898.6 262.4L1898.3 260.9L1898.1 259.5L1900.0 258.8L1900.0 257.5L1901.4 257.3L1902.5 256.2L1904.0 256.0L1904.8 254.8L1906.1 254.7L1907.6 255.4L1908.6 254.7L1908.8 252.6L1909.9 252.0L1912.0 252.9L1912.6 251.6L1914.1 251.2L1914.4 249.1L1915.9 248.8L1916.6 247.4L1918.7 247.6L1919.1 245.9" fill="none" stroke="#000" stroke-width="4.2" stroke-linejoin="round"/>
<path d="M1651.7 375.0L1653.0 373.8L1654.1 372.6L1655.1 371.3L1656.4 370.5L1657.6 369.5L1659.0 369.0L1660.1 367.9L1661.5 367.2L1662.9 366.3L1664.7 366.5L1666.2 365.5L1667.8 365.0L1669.4 365.3L1671.0 365.0L1672.6 365.0L1674.2 364.5L1675.8 364.6L1677.5 364.4L1679.0 364.9L1679.9 362.4L1681.5 362.0L1683.3 362.1L1685.0 362.3L1686.7 362.2L1688.3 361.7L1690.0 361.6L1692.1 361.4L1694.3 361.4L1695.6 360.2L1696.9 359.1L1699.1 357.5L1700.6 356.8L1702.2 356.5L1703.6 355.6L1705.1 355.4L1706.3 354.4L1707.8 354.1L1706.1 356.2L1704.6 357.2L1703.0 358.0L1701.5 358.7L1700.4 359.9L1702.2 359.8L1704.0 360.0L1706.0 359.5L1708.0 359.2L1710.0 358.6L1712.0 358.2L1714.2 357.6L1716.4 357.6L1714.6 358.4L1713.0 359.7L1711.4 360.0L1710.1 360.8L1708.7 361.6L1707.1 362.0L1705.5 362.6L1704.2 363.8L1702.7 364.7L1701.0 365.0L1699.3 365.7L1697.6 366.4L1695.8 366.9L1694.3 368.0L1692.4 368.5L1690.9 369.8L1689.0 370.2L1687.4 370.5L1686.2 371.7L1684.7 372.0L1683.0 372.2L1681.4 372.6L1680.0 373.5L1677.9 373.7L1675.8 374.3L1674.2 374.2L1672.7 374.6L1671.2 375.2L1669.6 375.5L1668.0 375.4L1666.3 375.7L1664.7 375.6L1663.1 376.1L1661.4 376.3L1659.6 375.9L1657.8 376.4L1656.0 376.7L1654.6 376.1L1653.2 375.4L1651.7 374.9M1744.8 346.2L1746.5 345.8L1748.0 344.8L1750.0 344.9L1752.0 344.6L1753.9 345.2L1756.0 345.3L1757.4 346.8L1756.0 347.4L1754.9 348.5L1753.3 348.6L1751.7 348.8L1750.0 348.8L1748.0 348.3L1746.0 348.3L1744.8 346.2M1758.9 347.6L1760.2 348.5L1760.9 349.9L1762.6 351.0L1764.6 351.3L1766.5 351.0L1768.5 351.2L1770.0 349.5L1769.4 347.0L1767.6 345.7L1768.2 348.2L1766.0 349.6L1764.2 349.6L1762.5 348.9L1760.1 347.4L1758.9 347.7" fill="none" stroke="#000" stroke-width="2.7" stroke-linejoin="round"/>
<path d="M1599.3 507.8L1599.9 509.2L1600.0 510.7L1600.3 512.1L1600.5 513.6L1601.3 514.9L1601.5 516.4L1602.0 517.7L1602.5 519.0L1603.0 520.3L1603.2 521.7L1603.7 523.0L1604.4 524.2L1604.9 525.5L1605.3 526.9L1605.8 528.2L1606.1 529.5L1606.8 530.7L1607.1 532.0L1607.5 533.3L1608.1 534.5L1608.7 535.7L1608.9 537.1L1609.4 538.4L1610.1 539.5L1610.5 540.8L1610.9 542.1L1611.5 543.4L1612.1 544.7L1612.6 546.0L1612.7 547.5L1613.2 548.8L1613.9 550.1L1614.3 551.5L1614.8 552.8L1614.9 554.4L1614.5 555.9L1614.6 557.4L1614.7 559.0L1614.6 560.4L1614.1 561.6L1613.8 563.0L1613.3 564.2L1613.2 565.6L1612.0 566.1L1610.9 566.9L1609.8 567.5L1608.6 568.0L1607.4 568.6L1606.1 568.9L1605.0 569.6L1603.7 570.1L1602.3 570.5L1601.1 571.5L1599.7 571.9L1598.5 572.7L1597.1 573.1L1595.6 574.3L1593.9 574.9" fill="none" stroke="#000" stroke-width="1.9" stroke-linejoin="round" stroke-linecap="round"/>
<path d="M1741.5 345.6L1743.1 345.2L1744.5 344.5L1745.9 343.6L1747.5 343.2" fill="none" stroke="#000" stroke-width="1.6" stroke-linejoin="round" stroke-linecap="round"/>
<path d="M1610.0 411.5L1611.0 410.6L1611.4 409.3L1612.5 408.5L1613.5 407.6L1614.7 406.9L1615.5 405.8L1616.6 404.9" fill="none" stroke="#000" stroke-width="2.6" stroke-linejoin="round" stroke-linecap="round"/>
<path d="M1572.6 470.0L1573.9 470.6L1574.4 472.2L1575.9 472.6L1576.4 474.2L1578.2 474.3L1578.6 476.0L1580.4 476.3L1580.9 477.8L1582.0 478.9L1583.5 479.5L1583.8 481.2L1585.1 481.8L1586.0 482.8L1587.2 483.5L1587.8 484.8L1588.5 486.0L1589.2 487.1" fill="none" stroke="#000" stroke-width="3.0" stroke-linejoin="round" stroke-linecap="round"/>
<path d="M1576.4 486.0L1577.7 486.7L1578.5 488.0L1580.2 488.2L1581.0 489.5L1582.0 490.5L1582.8 492.1L1584.2 492.9L1585.6 493.7L1587.2 494.3L1588.3 495.1L1589.1 496.3L1590.7 496.5L1591.6 497.6" fill="none" stroke="#000" stroke-width="2.8" stroke-linejoin="round" stroke-linecap="round"/>
<path d="M1571.3 495.7L1572.5 496.4L1574.1 496.5L1574.2 498.7L1575.6 499.2L1577.1 499.3L1578.1 500.6L1579.6 501.0L1580.7 502.0L1581.8 503.2L1583.1 503.9L1584.4 504.6L1585.6 505.6L1586.6 506.9L1588.1 507.4L1589.7 507.8L1590.9 509.1" fill="none" stroke="#000" stroke-width="3.0" stroke-linejoin="round" stroke-linecap="round"/>
<path d="M1571.6 480.5L1572.9 481.3L1573.5 482.9L1575.0 483.5L1576.2 484.8L1577.8 485.5L1578.9 486.9" fill="none" stroke="#000" stroke-width="2.0" stroke-linejoin="round" stroke-linecap="round"/>
<path d="M1599.4 542.0L1599.9 543.5L1600.0 545.0L1600.1 546.5L1599.7 548.0L1599.4 549.4L1599.8 550.8L1599.4 552.1L1599.1 553.5" fill="none" stroke="#000" stroke-width="2.6" stroke-linejoin="round" stroke-linecap="round"/>
<path d="M1571.0 558.5L1572.6 559.0L1574.5 558.9L1576.0 559.7L1577.6 559.3L1579.3 559.1L1581.0 559.4L1582.4 559.3L1583.3 560.7L1584.8 560.5L1586.0 561.0" fill="none" stroke="#000" stroke-width="2.8" stroke-linejoin="round" stroke-linecap="round"/>
<path d="M1572.0 572.5L1573.6 573.0L1575.3 573.4L1577.0 573.6L1578.7 573.2L1580.3 573.0L1582.0 573.0" fill="none" stroke="#000" stroke-width="2.4" stroke-linejoin="round" stroke-linecap="round"/>
<path d="M1749.5 333.4L1751.3 333.8L1753.0 334.6L1754.8 334.2L1756.5 333.7" fill="none" stroke="#000" stroke-width="1.6" stroke-linejoin="round" stroke-linecap="round"/>
<path d="M1594.0 428.0L1594.2 429.7L1595.3 430.9L1596.4 432.1L1597.4 433.9L1596.3 435.4L1595.7 437.0L1595.8 438.5L1597.7 439.2L1597.6 440.9L1597.1 442.7L1596.1 444.2L1596.2 445.9L1597.1 447.2L1598.8 447.4L1598.8 449.2" fill="none" stroke="#000" stroke-width="3.6" stroke-linejoin="round" stroke-linecap="round"/>
<path d="M1597.5 433.0L1597.8 434.7L1599.4 435.4L1600.6 436.4L1600.2 438.0L1600.6 439.7L1599.3 441.0" fill="none" stroke="#000" stroke-width="3.0" stroke-linejoin="round" stroke-linecap="round"/>
<path d="M1598.5 455.5L1598.5 457.6L1600.5 457.9L1601.3 459.2L1600.2 460.3L1601.7 462.2L1600.0 463.4L1601.2 464.9L1603.1 465.3L1603.9 466.7L1603.9 468.7L1602.6 470.0L1602.3 471.5L1603.7 472.2L1603.2 474.3L1605.1 474.4" fill="none" stroke="#000" stroke-width="4.0" stroke-linejoin="round" stroke-linecap="round"/>
<path d="M1602.5 457.0L1603.6 458.1L1605.1 458.8L1605.2 460.7L1605.9 462.0L1604.0 463.0L1604.5 464.5" fill="none" stroke="#000" stroke-width="3.0" stroke-linejoin="round" stroke-linecap="round"/>
<path d="M1595.5 421.5L1596.4 422.4L1597.4 423.2L1598.6 423.9L1600.0 424.1L1601.1 423.3" fill="none" stroke="#000" stroke-width="2.6" stroke-linejoin="round" stroke-linecap="round"/>
<path d="M1600.0 500.0L1600.6 498.7L1600.6 497.4L1600.3 495.9L1601.3 494.7L1600.9 493.3L1601.6 492.0L1601.7 490.5L1602.6 489.2L1603.4 487.9L1603.3 486.3L1604.2 485.0L1604.3 483.6L1604.9 482.4L1605.7 481.3L1607.1 480.6L1607.7 479.4L1607.9 478.0L1608.2 476.6L1609.3 475.6L1610.0 474.4L1610.3 473.0" fill="none" stroke="#000" stroke-width="2.4" stroke-linejoin="round" stroke-linecap="round"/>
<path d="M1583.0 424.0L1582.5 425.5L1581.7 426.9L1583.5 428.7L1582.3 430.1L1582.5 431.5L1583.7 432.8L1583.4 434.4L1583.4 436.0L1584.2 437.6L1583.2 439.0L1583.7 440.6L1582.9 442.0" fill="none" stroke="#000" stroke-width="3.2" stroke-linejoin="round" stroke-linecap="round"/>
<path d="M1585.5 444.0L1585.7 445.5L1585.0 447.0L1586.0 448.6L1584.9 450.0L1586.1 451.0L1584.9 452.8L1585.9 453.8L1586.5 455.0" fill="none" stroke="#000" stroke-width="2.6" stroke-linejoin="round" stroke-linecap="round"/>
<path d="M1771.5 246.5L1773.1 247.2L1774.4 248.4L1775.9 249.1L1777.5 249.6L1779.0 249.8L1780.5 249.3L1782.0 249.9L1783.7 249.8L1785.2 249.4L1786.5 248.2L1788.0 247.9L1789.5 247.9L1791.1 248.3L1792.5 247.3L1794.0 247.0" fill="none" stroke="#000" stroke-width="3.2" stroke-linejoin="round" stroke-linecap="round"/>
<path d="M1762.0 256.0L1762.9 255.0L1764.5 254.8L1764.8 253.1L1765.8 252.3L1767.4 252.4L1768.8 252.2L1769.9 251.4L1771.0 250.6" fill="none" stroke="#000" stroke-width="2.8" stroke-linejoin="round" stroke-linecap="round"/>
<path d="M1731.5 329.5L1731.1 331.1L1732.3 332.4L1731.9 334.0L1733.2 335.6L1733.2 337.2L1732.6 339.0L1733.0 340.8L1733.6 342.5" fill="none" stroke="#000" stroke-width="4.6" stroke-linejoin="round" stroke-linecap="round"/>
<path d="M1734.5 333.0L1735.5 334.6L1734.5 336.4L1735.0 338.0L1735.7 339.7L1735.6 341.5" fill="none" stroke="#000" stroke-width="3.0" stroke-linejoin="round" stroke-linecap="round"/>
<path d="M1728.5 333.0L1729.0 334.6L1729.6 336.3L1729.8 337.9L1729.0 339.4L1729.1 340.8L1729.9 342.0" fill="none" stroke="#000" stroke-width="2.6" stroke-linejoin="round" stroke-linecap="round"/>
<path d="M1739.5 308.0L1739.7 309.4L1740.9 310.3L1741.4 311.6L1743.2 312.2L1744.4 313.7" fill="none" stroke="#000" stroke-width="2.8" stroke-linejoin="round" stroke-linecap="round"/>
<path d="M1748.0 299.5L1749.8 299.1L1751.5 298.8" fill="none" stroke="#000" stroke-width="3.0" stroke-linejoin="round" stroke-linecap="round"/>
<path d="M1742.0 339.0L1743.1 337.8L1744.9 337.6L1745.9 336.3L1747.5 335.5L1749.1 334.7" fill="none" stroke="#000" stroke-width="2.4" stroke-linejoin="round" stroke-linecap="round"/>
<path d="M1649.0 374.5L1649.9 373.3L1651.2 372.8L1652.5 372.3L1653.5 371.4L1654.5 370.4L1656.1 370.2L1657.3 369.4L1657.9 368.1L1658.9 367.2L1660.0 366.4" fill="none" stroke="#000" stroke-width="2.8" stroke-linejoin="round" stroke-linecap="round"/>
<path d="M1660.0 376.6L1661.4 376.1L1662.8 375.9L1664.3 376.5L1665.7 375.9L1667.1 375.9L1668.6 376.1L1670.0 375.8L1671.4 375.3L1672.8 374.9L1674.3 374.7L1675.8 374.9L1677.2 374.6L1678.5 373.8L1680.0 373.9L1681.3 373.2L1682.7 372.8L1683.9 372.1L1685.4 372.1L1686.8 371.7L1687.9 370.6L1689.4 370.5L1690.6 369.7L1692.0 369.5L1693.1 368.5L1694.3 368.0L1695.7 368.0L1696.8 367.1L1698.2 367.0L1699.5 366.5L1700.6 365.8L1701.7 364.9L1703.0 364.7" fill="none" stroke="#000" stroke-width="2.4" stroke-linejoin="round" stroke-linecap="round"/>
<path d="M1700.5 360.0L1702.1 359.9L1703.5 359.0L1705.0 358.5L1706.3 358.4L1707.7 358.6L1709.0 358.9" fill="none" stroke="#000" stroke-width="2.0" stroke-linejoin="round" stroke-linecap="round"/>
<path d="M1722.5 353.4a1.7 1.7 0 1 0 3.4 0a1.7 1.7 0 1 0 -3.4 0ZM1744.4 351.2a1.0 1.0 0 1 0 2.0 0a1.0 1.0 0 1 0 -2.0 0ZM1792.4 251.5a1.1 1.1 0 1 0 2.2 0a1.1 1.1 0 1 0 -2.2 0ZM1797.2 253.0a1.3 1.3 0 1 0 2.6 0a1.3 1.3 0 1 0 -2.6 0ZM1799.5 254.6a1.0 1.0 0 1 0 2.0 0a1.0 1.0 0 1 0 -2.0 0ZM1802.1 251.5a0.9 0.9 0 1 0 1.8 0a0.9 0.9 0 1 0 -1.8 0ZM1880.0 266.6a1.2 1.2 0 1 0 2.4 0a1.2 1.2 0 1 0 -2.4 0ZM1879.5 269.6a1.1 1.1 0 1 0 2.2 0a1.1 1.1 0 1 0 -2.2 0ZM1749.9 285.4a1.2 1.2 0 1 0 2.4 0a1.2 1.2 0 1 0 -2.4 0ZM1650.4 379.3a1.6 1.6 0 1 0 3.2 0a1.6 1.6 0 1 0 -3.2 0Z" fill="#000"/>
<circle cx="1648.7" cy="424.4" r="4" fill="#ff0000" stroke="#000" stroke-width="1.2"/>
</g>
<path d="M1796 246.1H1966.8V575.0H1568.2" fill="none" stroke="#000" stroke-width="1.5"/>
<path d="M1599.5 246.1v-8.7M1599.5 575.0v8.7M1656.0 246.1v-8.7M1656.0 575.0v8.7M1712.5 246.1v-8.7M1712.5 575.0v8.7M1769.0 246.1v-8.7M1769.0 575.0v8.7M1825.5 246.1v-8.7M1825.5 575.0v8.7M1882.0 246.1v-8.7M1882.0 575.0v8.7M1938.5 246.1v-8.7M1938.5 575.0v8.7M1571.2 540.4h-8.7M1966.8 540.4h8.7M1571.2 470.0h-8.7M1966.8 470.0h8.7M1571.2 397.6h-8.7M1966.8 397.6h8.7M1571.2 323.0h-8.7M1966.8 323.0h8.7M1571.2 246.1h-8.7M1966.8 246.1h8.7" stroke="#000" stroke-width="3.1" fill="none"/>
<path d="M1571.2 246.1v-3.5M1571.2 575.0v3.5M1585.4 246.1v-3.5M1585.4 575.0v3.5M1613.6 246.1v-3.5M1613.6 575.0v3.5M1627.8 246.1v-3.5M1627.8 575.0v3.5M1641.9 246.1v-3.5M1641.9 575.0v3.5M1670.1 246.1v-3.5M1670.1 575.0v3.5M1684.2 246.1v-3.5M1684.2 575.0v3.5M1698.4 246.1v-3.5M1698.4 575.0v3.5M1726.6 246.1v-3.5M1726.6 575.0v3.5M1740.8 246.1v-3.5M1740.8 575.0v3.5M1754.9 246.1v-3.5M1754.9 575.0v3.5M1783.1 246.1v-3.5M1783.1 575.0v3.5M1797.2 246.1v-3.5M1797.2 575.0v3.5M1811.4 246.1v-3.5M1811.4 575.0v3.5M1839.6 246.1v-3.5M1839.6 575.0v3.5M1853.8 246.1v-3.5M1853.8 575.0v3.5M1867.9 246.1v-3.5M1867.9 575.0v3.5M1896.1 246.1v-3.5M1896.1 575.0v3.5M1910.2 246.1v-3.5M1910.2 575.0v3.5M1924.4 246.1v-3.5M1924.4 575.0v3.5M1952.6 246.1v-3.5M1952.6 575.0v3.5M1966.8 246.1v-3.5M1966.8 575.0v3.5M1571.2 575.0h-3.5M1966.8 575.0h3.5M1571.2 557.8h-3.5M1966.8 557.8h3.5M1571.2 523.0h-3.5M1966.8 523.0h3.5M1571.2 505.5h-3.5M1966.8 505.5h3.5M1571.2 487.8h-3.5M1966.8 487.8h3.5M1571.2 452.1h-3.5M1966.8 452.1h3.5M1571.2 434.0h-3.5M1966.8 434.0h3.5M1571.2 415.9h-3.5M1966.8 415.9h3.5M1571.2 379.2h-3.5M1966.8 379.2h3.5M1571.2 360.6h-3.5M1966.8 360.6h3.5M1571.2 341.9h-3.5M1966.8 341.9h3.5M1571.2 304.0h-3.5M1966.8 304.0h3.5M1571.2 284.9h-3.5M1966.8 284.9h3.5M1571.2 265.6h-3.5M1966.8 265.6h3.5" stroke="#000" stroke-width="1.74" fill="none"/>
<g font-size="22.57">
<text x="1556.4" y="255.6" text-anchor="end">44°N</text>
<text x="1556.4" y="332.5" text-anchor="end">42°N</text>
<text x="1556.4" y="407.1" text-anchor="end">40°N</text>
<text x="1556.4" y="479.5" text-anchor="end">38°N</text>
<text x="1556.4" y="549.9" text-anchor="end">36°N</text>
<text transform="translate(1598.0 620.6) rotate(-45)" text-anchor="middle" dy="0.365em">76°W</text>
<text transform="translate(1654.5 620.6) rotate(-45)" text-anchor="middle" dy="0.365em">74°W</text>
<text transform="translate(1711.0 620.6) rotate(-45)" text-anchor="middle" dy="0.365em">72°W</text>
<text transform="translate(1767.5 620.6) rotate(-45)" text-anchor="middle" dy="0.365em">70°W</text>
<text transform="translate(1824.0 620.6) rotate(-45)" text-anchor="middle" dy="0.365em">68°W</text>
<text transform="translate(1880.5 620.6) rotate(-45)" text-anchor="middle" dy="0.365em">66°W</text>
<text transform="translate(1937.0 620.6) rotate(-45)" text-anchor="middle" dy="0.365em">64°W</text>
</g>
</g>
<g id="legend">
<rect x="1686.3" y="647.2" width="165" height="143" rx="4.5" fill="#fff" fill-opacity="0.8" stroke="#ccc" stroke-width="1.74"/>
<path d="M1694.1 666.5H1741.9" stroke="#0000ff" stroke-width="3.3" fill="none"/>
<circle cx="1718.5" cy="666.5" r="5.9" fill="#0000ff"/>
<text x="1759.4" y="675.0" font-size="22.57">ru33</text>
<path d="M1694.1 701.4H1741.9" stroke="#ff0000" stroke-width="3.3" fill="none"/>
<circle cx="1718.5" cy="701.4" r="5.9" fill="#ff0000"/>
<text x="1759.4" y="710.0" font-size="22.57">RTOFS</text>
<path d="M1694.1 735.4H1741.9" stroke="#008000" stroke-width="3.3" fill="none"/>
<circle cx="1718.5" cy="735.4" r="5.9" fill="#008000"/>
<text x="1759.4" y="744.0" font-size="22.57">ESPC</text>
<path d="M1694.1 769.4H1741.9" stroke="#ff00ff" stroke-width="3.3" fill="none"/>
<circle cx="1718.5" cy="769.4" r="5.9" fill="#ff00ff"/>
<text x="1759.4" y="777.4" font-size="22.57">CMEMS</text>
</g>
</svg></body></html>
